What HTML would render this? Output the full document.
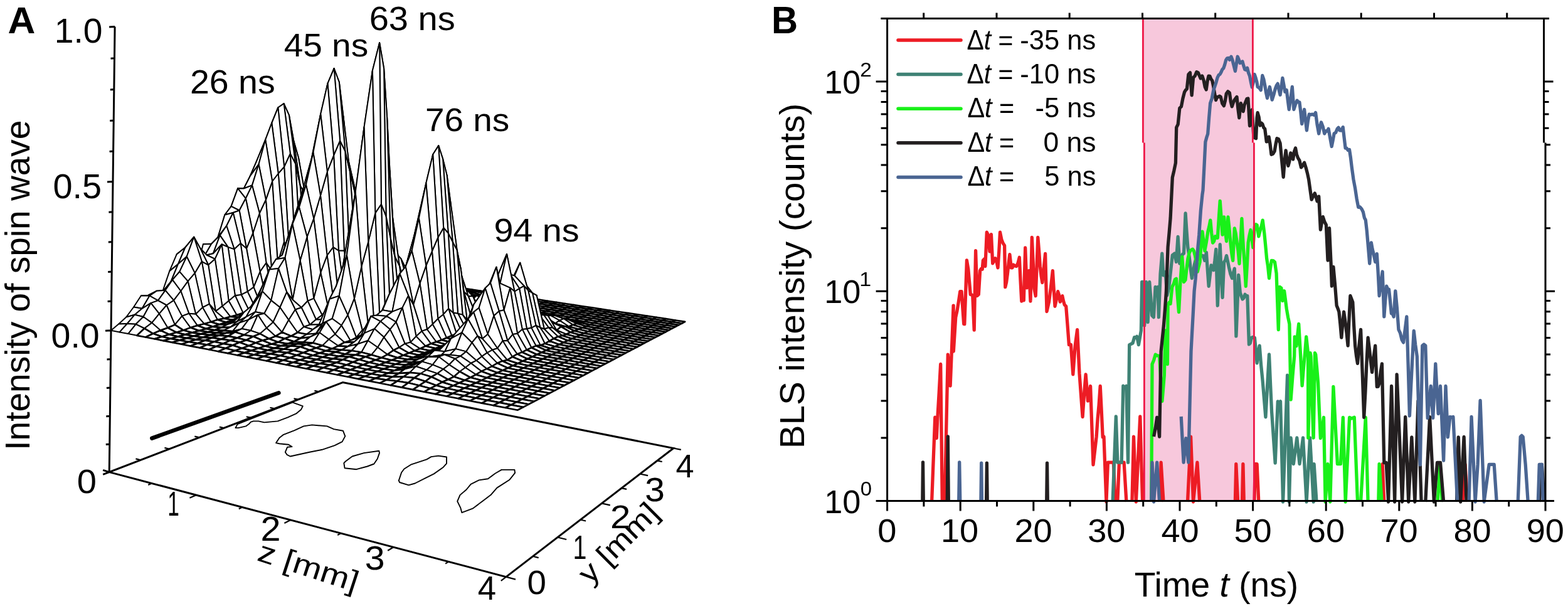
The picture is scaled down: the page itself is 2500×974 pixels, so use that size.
<!DOCTYPE html>
<html><head><meta charset="utf-8"><title>Figure</title><style>html,body{margin:0;padding:0;background:#fff;width:2500px;height:974px;overflow:hidden;}svg{display:block;}</style></head><body>
<svg width="2500" height="974" viewBox="0 0 2500 974">
<rect width="2500" height="974" fill="#fff"/>
<path d="M546.5,609.6 L174.2,752.6 L806.9,919.6 L1073.8,714.5 Z" fill="none" stroke="#000" stroke-width="3" stroke-linejoin="miter"/>
<polygon points="375.4,682.1 378.7,676.1 466.8,641.3 469.5,642.7 482.8,647.4 480.2,652.7 472.1,659.4 458.8,665.4 442.8,671.4 421.4,673.4 412.1,671.4 404.1,671.4 400,672.7 397.4,675.4 392,679.4 380,682.1" fill="none" stroke="#000" stroke-width="1.9" stroke-linejoin="round"/>
<polygon points="440.1,706.1 445.4,698.1 452.1,692.8 469.5,686.1 484.2,679.4 497.5,677.4 521.5,679.4 532.2,684.1 546.9,686.7 550.3,695.4 545.6,704.1 533.6,710.1 513.6,716.8 493.5,720.8 462.8,727.5 457.5,724.8 454.8,720.8 458.1,712.8 465.5,712.1 460.1,708.8 445.4,707.2" fill="none" stroke="#000" stroke-width="1.9" stroke-linejoin="round"/>
<polygon points="548.3,738.1 550.9,735.5 561.6,727.5 580.3,722.1 604.3,718.8 605,722.1 601.7,731.5 596.3,739.5 585.6,743.5 568.3,748.2 549.6,746.2" fill="none" stroke="#000" stroke-width="1.9" stroke-linejoin="round"/>
<polygon points="635.8,766.1 640.1,753.2 644.4,747.5 655.9,740.3 680.3,732.4 687.5,728.1 699,726.6 712,728.5 712,738.9 706.2,745.3 691.8,755.4 680.3,761.1 661.7,770.5 651.6,773.3 637.2,769" fill="none" stroke="#000" stroke-width="1.9" stroke-linejoin="round"/>
<polygon points="729.2,799.2 733.5,789.1 743.6,780.5 750.7,771.9 763.7,765.4 778,763.3 789.5,754.7 799.6,748.9 820.4,748.9 821.1,753.9 812.5,764.7 792.4,777.6 782.4,789.1 770.9,797.8 753.6,810.7 736.4,817.2 734.2,809.3" fill="none" stroke="#000" stroke-width="1.9" stroke-linejoin="round"/>
<line x1="242.3" y1="698.6" x2="444.4" y2="626.3" stroke="#000" stroke-width="6.5" stroke-linecap="round"/>
<path d="M242.1,770.5 L236.2,772.9 M312.7,789.2 L302.4,793.7 M386.3,808.6 L380.8,811.2 M463.2,828.9 L453.4,833.9 M543.4,850.1 L538.2,853 M627.2,872.2 L618.2,877.8 M715,895.4 L710.2,898.6 M806.9,919.6 L798.8,925.8 M806.9,919.6 L822,923.6 M849.6,886.8 L858.7,889.1 M889,856.5 L903.2,860 M925.5,828.5 L934.1,830.5 M959.4,802.4 L972.8,805.4 M991,778.2 L999.1,779.9 M1020.4,755.5 L1033.1,758.2 M1047.9,734.4 L1055.7,736 M1073.8,714.5 L1085.8,716.9 M224.2,733.4 L216.4,731.4 M270.2,715.8 L262.4,713.9 M317.9,697.4 L310.3,695.6 M357.3,682.3 L349.9,680.6 M400,665.9 L392.7,664.2 M437.8,651.4 L430.5,649.8 M475.6,636.9 L468.5,635.4 M508.4,624.3 L501.4,622.8" stroke="#000" stroke-width="2.2" fill="none"/>
<path d="M174.2,752.6 L183.1,42.4 M177,526.7 l-9,0.5 M177.6,480 l-6,0.5 M178.2,433 l-6,0.5 M178.8,385.5 l-6,0.5 M179.4,337.7 l-6,0.5 M180,289.5 l-9,0.5 M180.6,240.9 l-6,0.5 M181.2,191.9 l-6,0.5 M181.8,142.5 l-6,0.5 M182.5,92.7 l-6,0.5 M183.1,42.4 l-9,0.5 M174.8,708.1 l-6,0.5 M175.3,663.3 l-6,0.5 M175.9,618.1 l-6,0.5 M176.5,572.6 l-6,0.5 M174.2,752.6 L164.2,749.3 M174.2,752.6 L164.2,756.3" stroke="#000" stroke-width="3" fill="none"/>
<g fill="#fff" stroke="#000" stroke-width="2" stroke-linejoin="round">
<polygon points="547.1,433 558.9,434.6 566.2,433.5 554.5,431.8" stroke-width="2.7"/>
<polygon points="558.9,434.6 570.9,436 578.1,435.3 566.2,433.5" stroke-width="2.7"/>
<polygon points="539.7,433.9 551.6,434.8 558.9,434.6 547.1,433" stroke-width="2.7"/>
<polygon points="570.9,436 582.8,437.9 590,437.1 578.1,435.3" stroke-width="2.7"/>
<polygon points="551.6,434.8 563.6,434.9 570.9,436 558.9,434.6" stroke-width="2.7"/>
<polygon points="582.8,437.9 594.8,440.6 602,438.9 590,437.1" stroke-width="2.7"/>
<polygon points="532.1,435.8 544.2,434.9 551.6,434.8 539.7,433.9" stroke-width="2.7"/>
<polygon points="563.6,434.9 575.6,438.4 582.8,437.9 570.9,436" stroke-width="2.7"/>
<polygon points="594.8,440.6 607,442.7 614.1,440.8 602,438.9" stroke-width="2.7"/>
<polygon points="544.2,434.9 556.2,435.6 563.6,434.9 551.6,434.8" stroke-width="2.7"/>
<polygon points="575.6,438.4 587.6,442.3 594.8,440.6 582.8,437.9" stroke-width="2.7"/>
<polygon points="607,442.7 619.2,444.5 626.3,442.6 614.1,440.8" stroke-width="2.7"/>
<polygon points="524.5,437.3 536.5,437.7 544.2,434.9 532.1,435.8" stroke-width="2.7"/>
<polygon points="556.2,435.6 568.2,439.9 575.6,438.4 563.6,434.9" stroke-width="2.7"/>
<polygon points="587.6,442.3 599.7,444.6 607,442.7 594.8,440.6" stroke-width="2.7"/>
<polygon points="619.2,444.5 631.5,446.2 638.5,444.4 626.3,442.6" stroke-width="2.7"/>
<polygon points="536.5,437.7 548.7,437.4 556.2,435.6 544.2,434.9" stroke-width="2.7"/>
<polygon points="568.2,439.9 580.2,444.3 587.6,442.3 575.6,438.4" stroke-width="2.7"/>
<polygon points="599.7,444.6 612,446.4 619.2,444.5 607,442.7" stroke-width="2.7"/>
<polygon points="631.5,446.2 643.8,448.1 650.8,446.3 638.5,444.4" stroke-width="2.7"/>
<polygon points="516.9,438.1 528.9,439.2 536.5,437.7 524.5,437.3" stroke-width="2.7"/>
<polygon points="548.7,437.4 560.7,441.8 568.2,439.9 556.2,435.6" stroke-width="2.7"/>
<polygon points="580.2,444.3 592.4,446.5 599.7,444.6 587.6,442.3" stroke-width="2.7"/>
<polygon points="612,446.4 624.3,447.9 631.5,446.2 619.2,444.5" stroke-width="2.7"/>
<polygon points="643.8,448.1 656.3,449.2 663.2,448.2 650.8,446.3" stroke-width="2.7"/>
<polygon points="528.9,439.2 541.2,436.3 548.7,437.4 536.5,437.7"/>
<polygon points="560.7,441.8 572.8,445.8 580.2,444.3 568.2,439.9" stroke-width="2.7"/>
<polygon points="592.4,446.5 604.7,448.3 612,446.4 599.7,444.6" stroke-width="2.7"/>
<polygon points="624.3,447.9 636.8,449.4 643.8,448.1 631.5,446.2" stroke-width="2.7"/>
<polygon points="509.2,437.3 521.3,436.4 528.9,439.2 516.9,438.1"/>
<polygon points="656.3,449.2 668.9,450.4 675.7,450 663.2,448.2" stroke-width="2.7"/>
<polygon points="541.2,436.3 553.2,442.3 560.7,441.8 548.7,437.4"/>
<polygon points="572.8,445.8 585,448.4 592.4,446.5 580.2,444.3" stroke-width="2.7"/>
<polygon points="604.7,448.3 617.1,449.5 624.3,447.9 612,446.4" stroke-width="2.7"/>
<polygon points="636.8,449.4 649.3,450.1 656.3,449.2 643.8,448.1" stroke-width="2.7"/>
<polygon points="668.9,450.4 681.5,452.8 688.3,451.9 675.7,450" stroke-width="2.7"/>
<polygon points="521.3,436.4 533.7,432.3 541.2,436.3 528.9,439.2"/>
<polygon points="553.2,442.3 565.3,447 572.8,445.8 560.7,441.8" stroke-width="2.7"/>
<polygon points="585,448.4 597.4,450.3 604.7,448.3 592.4,446.5" stroke-width="2.7"/>
<polygon points="617.1,449.5 629.6,450.6 636.8,449.4 624.3,447.9" stroke-width="2.7"/>
<polygon points="649.3,450.1 662,450.2 668.9,450.4 656.3,449.2" stroke-width="2.7"/>
<polygon points="501.5,433.2 514,426 521.3,436.4 509.2,437.3"/>
<polygon points="681.5,452.8 694.2,453.9 700.9,453.8 688.3,451.9" stroke-width="2.7"/>
<polygon points="533.7,432.3 545.7,440 553.2,442.3 541.2,436.3"/>
<polygon points="565.3,447 577.5,450.5 585,448.4 572.8,445.8" stroke-width="2.7"/>
<polygon points="597.4,450.3 609.8,451.4 617.1,449.5 604.7,448.3" stroke-width="2.7"/>
<polygon points="629.6,450.6 642.3,450.5 649.3,450.1 636.8,449.4" stroke-width="2.7"/>
<polygon points="662,450.2 674.6,453.4 681.5,452.8 668.9,450.4" stroke-width="2.7"/>
<polygon points="545.7,440 557.7,448.6 565.3,447 553.2,442.3"/>
<polygon points="514,426 526,431.7 533.7,432.3 521.3,436.4"/>
<polygon points="694.2,453.9 706.9,457.1 713.7,455.8 700.9,453.8" stroke-width="2.7"/>
<polygon points="577.5,450.5 589.9,452.2 597.4,450.3 585,448.4" stroke-width="2.7"/>
<polygon points="609.8,451.4 622.4,451.9 629.6,450.6 617.1,449.5" stroke-width="2.7"/>
<polygon points="642.3,450.5 655.1,449.9 662,450.2 649.3,450.1" stroke-width="2.7"/>
<polygon points="493.7,429.1 506.1,425.8 514,426 501.5,433.2"/>
<polygon points="674.6,453.4 687.4,454.7 694.2,453.9 681.5,452.8" stroke-width="2.7"/>
<polygon points="557.7,448.6 569.9,452.4 577.5,450.5 565.3,447" stroke-width="2.7"/>
<polygon points="526,431.7 538.1,438.4 545.7,440 533.7,432.3"/>
<polygon points="706.9,457.1 719.8,459.5 726.5,457.7 713.7,455.8" stroke-width="2.7"/>
<polygon points="589.9,452.2 602.4,453.3 609.8,451.4 597.4,450.3" stroke-width="2.7"/>
<polygon points="622.4,451.9 635.2,451.1 642.3,450.5 629.6,450.6" stroke-width="2.7"/>
<polygon points="655.1,449.9 667.8,450.9 674.6,453.4 662,450.2" stroke-width="2.7"/>
<polygon points="538.1,438.4 550,450 557.7,448.6 545.7,440"/>
<polygon points="687.4,454.7 700.1,458.5 706.9,457.1 694.2,453.9" stroke-width="2.7"/>
<polygon points="569.9,452.4 582.4,454.4 589.9,452.2 577.5,450.5" stroke-width="2.7"/>
<polygon points="506.1,425.8 518.4,427.2 526,431.7 514,426"/>
<polygon points="719.8,459.5 732.7,461.5 739.4,459.6 726.5,457.7" stroke-width="2.7"/>
<polygon points="602.4,453.3 615.1,453.9 622.4,451.9 609.8,451.4" stroke-width="2.7"/>
<polygon points="635.2,451.1 647.9,452.3 655.1,449.9 642.3,450.5" stroke-width="2.7"/>
<polygon points="550,450 562.3,454.3 569.9,452.4 557.7,448.6" stroke-width="2.7"/>
<polygon points="667.8,450.9 680.5,455.5 687.4,454.7 674.6,453.4" stroke-width="2.7"/>
<polygon points="485.8,426.5 498.5,415.6 506.1,425.8 493.7,429.1"/>
<polygon points="700.1,458.5 713,461.3 719.8,459.5 706.9,457.1" stroke-width="2.7"/>
<polygon points="518.4,427.2 530.5,434.2 538.1,438.4 526,431.7"/>
<polygon points="582.4,454.4 595,454.9 602.4,453.3 589.9,452.2" stroke-width="2.7"/>
<polygon points="732.7,461.5 745.8,463.1 752.4,461.6 739.4,459.6" stroke-width="2.7"/>
<polygon points="615.1,453.9 628,451.2 635.2,451.1 622.4,451.9" stroke-width="2.7"/>
<polygon points="647.9,452.3 660.8,451.5 667.8,450.9 655.1,449.9"/>
<polygon points="562.3,454.3 574.8,456.4 582.4,454.4 569.9,452.4" stroke-width="2.7"/>
<polygon points="530.5,434.2 542.3,448.3 550,450 538.1,438.4"/>
<polygon points="680.5,455.5 693.3,459.9 700.1,458.5 687.4,454.7" stroke-width="2.7"/>
<polygon points="713,461.3 726,463.3 732.7,461.5 719.8,459.5" stroke-width="2.7"/>
<polygon points="498.5,415.6 510.9,415.9 518.4,427.2 506.1,425.8"/>
<polygon points="595,454.9 607.7,455.5 615.1,453.9 602.4,453.3" stroke-width="2.7"/>
<polygon points="745.8,463.1 758.9,464.9 765.4,463.6 752.4,461.6" stroke-width="2.7"/>
<polygon points="628,451.2 640.7,453.4 647.9,452.3 635.2,451.1" stroke-width="2.7"/>
<polygon points="542.3,448.3 554.5,455.9 562.3,454.3 550,450" stroke-width="2.7"/>
<polygon points="660.8,451.5 673.4,457.5 680.5,455.5 667.8,450.9"/>
<polygon points="693.3,459.9 706.1,463.4 713,461.3 700.1,458.5" stroke-width="2.7"/>
<polygon points="574.8,456.4 587.4,456.6 595,454.9 582.4,454.4" stroke-width="2.7"/>
<polygon points="477.7,427.2 491.1,398.3 498.5,415.6 485.8,426.5"/>
<polygon points="726,463.3 739.2,464.3 745.8,463.1 732.7,461.5" stroke-width="2.7"/>
<polygon points="510.9,415.9 523.3,417.4 530.5,434.2 518.4,427.2"/>
<polygon points="607.7,455.5 620.7,451.2 628,451.2 615.1,453.9"/>
<polygon points="758.9,464.9 772.1,467.4 778.6,465.6 765.4,463.6" stroke-width="2.7"/>
<polygon points="640.7,453.4 653.7,451.9 660.8,451.5 647.9,452.3"/>
<polygon points="554.5,455.9 567.1,458.4 574.8,456.4 562.3,454.3" stroke-width="2.7"/>
<polygon points="673.4,457.5 686.3,461.5 693.3,459.9 680.5,455.5" stroke-width="2.7"/>
<polygon points="706.1,463.4 719.2,465.5 726,463.3 713,461.3" stroke-width="2.7"/>
<polygon points="523.3,417.4 534.7,443.8 542.3,448.3 530.5,434.2"/>
<polygon points="587.4,456.6 600.2,456.4 607.7,455.5 595,454.9" stroke-width="2.7"/>
<polygon points="739.2,464.3 752.4,466.4 758.9,464.9 745.8,463.1" stroke-width="2.7"/>
<polygon points="772.1,467.4 785.4,469.6 791.8,467.5 778.6,465.6" stroke-width="2.7"/>
<polygon points="620.7,451.2 633.7,448.8 640.7,453.4 628,451.2"/>
<polygon points="491.1,398.3 503.9,391.2 510.9,415.9 498.5,415.6"/>
<polygon points="653.7,451.9 666.3,459.6 673.4,457.5 660.8,451.5"/>
<polygon points="534.7,443.8 546.7,457.4 554.5,455.9 542.3,448.3"/>
<polygon points="686.3,461.5 699.2,464.9 706.1,463.4 693.3,459.9" stroke-width="2.7"/>
<polygon points="567.1,458.4 579.7,459.7 587.4,456.6 574.8,456.4" stroke-width="2.7"/>
<polygon points="719.2,465.5 732.5,465.8 739.2,464.3 726,463.3" stroke-width="2.7"/>
<polygon points="600.2,456.4 613,456.5 620.7,451.2 607.7,455.5"/>
<polygon points="752.4,466.4 765.5,469.6 772.1,467.4 758.9,464.9" stroke-width="2.7"/>
<polygon points="470,413.9 483.6,382.1 491.1,398.3 477.7,427.2"/>
<polygon points="503.9,391.2 515.4,415.3 523.3,417.4 510.9,415.9"/>
<polygon points="785.4,469.6 798.8,471.8 805.2,469.6 791.8,467.5" stroke-width="2.7"/>
<polygon points="633.7,448.8 646.5,451.3 653.7,451.9 640.7,453.4"/>
<polygon points="546.7,457.4 559.3,460.3 567.1,458.4 554.5,455.9" stroke-width="2.7"/>
<polygon points="666.3,459.6 679.2,462.8 686.3,461.5 673.4,457.5" stroke-width="2.7"/>
<polygon points="699.2,464.9 712.3,467.6 719.2,465.5 706.1,463.4" stroke-width="2.7"/>
<polygon points="579.7,459.7 592.6,457.9 600.2,456.4 587.4,456.6" stroke-width="2.7"/>
<polygon points="515.4,415.3 526.8,443.3 534.7,443.8 523.3,417.4"/>
<polygon points="732.5,465.8 745.7,467.9 752.4,466.4 739.2,464.3" stroke-width="2.7"/>
<polygon points="765.5,469.6 778.9,471.7 785.4,469.6 772.1,467.4" stroke-width="2.7"/>
<polygon points="613,456.5 626.4,448.7 633.7,448.8 620.7,451.2"/>
<polygon points="798.8,471.8 812.3,473.8 818.6,471.6 805.2,469.6" stroke-width="2.7"/>
<polygon points="646.5,451.3 659.1,461.6 666.3,459.6 653.7,451.9"/>
<polygon points="526.8,443.3 538.8,459.1 546.7,457.4 534.7,443.8"/>
<polygon points="679.2,462.8 692.2,466.8 699.2,464.9 686.3,461.5" stroke-width="2.7"/>
<polygon points="559.3,460.3 571.9,462 579.7,459.7 567.1,458.4" stroke-width="2.7"/>
<polygon points="712.3,467.6 725.6,467.6 732.5,465.8 719.2,465.5" stroke-width="2.7"/>
<polygon points="483.6,382.1 496.8,363.2 503.9,391.2 491.1,398.3"/>
<polygon points="592.6,457.9 605.6,455.8 613,456.5 600.2,456.4"/>
<polygon points="745.7,467.9 759,471 765.5,469.6 752.4,466.4" stroke-width="2.7"/>
<polygon points="778.9,471.7 792.3,474 798.8,471.8 785.4,469.6" stroke-width="2.7"/>
<polygon points="538.8,459.1 551.4,462.3 559.3,460.3 546.7,457.4" stroke-width="2.7"/>
<polygon points="659.1,461.6 672.1,464 679.2,462.8 666.3,459.6" stroke-width="2.7"/>
<polygon points="626.4,448.7 639.2,452.5 646.5,451.3 633.7,448.8"/>
<polygon points="461.9,407.8 476.1,360.8 483.6,382.1 470,413.9"/>
<polygon points="812.3,473.8 825.9,475.9 832.1,473.6 818.6,471.6" stroke-width="2.7"/>
<polygon points="692.2,466.8 705.3,469.6 712.3,467.6 699.2,464.9" stroke-width="2.7"/>
<polygon points="571.9,462 585,457.7 592.6,457.9 579.7,459.7" stroke-width="2.7"/>
<polygon points="496.8,363.2 507.6,408.7 515.4,415.3 503.9,391.2"/>
<polygon points="725.6,467.6 739,467.8 745.7,467.9 732.5,465.8" stroke-width="2.7"/>
<polygon points="507.6,408.7 518.9,440.6 526.8,443.3 515.4,415.3"/>
<polygon points="759,471 772.3,473.6 778.9,471.7 765.5,469.6" stroke-width="2.7"/>
<polygon points="605.6,455.8 619.1,446 626.4,448.7 613,456.5"/>
<polygon points="792.3,474 805.9,476.1 812.3,473.8 798.8,471.8" stroke-width="2.7"/>
<polygon points="639.2,452.5 652.1,458 659.1,461.6 646.5,451.3"/>
<polygon points="518.9,440.6 530.8,460.3 538.8,459.1 526.8,443.3"/>
<polygon points="672.1,464 685.1,469.3 692.2,466.8 679.2,462.8" stroke-width="2.7"/>
<polygon points="551.4,462.3 564.2,462.1 571.9,462 559.3,460.3" stroke-width="2.7"/>
<polygon points="825.9,475.9 839.5,477.9 845.7,475.7 832.1,473.6" stroke-width="2.7"/>
<polygon points="705.3,469.6 718.7,470.2 725.6,467.6 712.3,467.6" stroke-width="2.7"/>
<polygon points="585,457.7 598.4,448.5 605.6,455.8 592.6,457.9"/>
<polygon points="739,467.8 752.3,471.6 759,471 745.7,467.9" stroke-width="2.7"/>
<polygon points="772.3,473.6 785.8,476.2 792.3,474 778.9,471.7" stroke-width="2.7"/>
<polygon points="530.8,460.3 543.4,464.2 551.4,462.3 538.8,459.1" stroke-width="2.7"/>
<polygon points="476.1,360.8 489.1,348.1 496.8,363.2 483.6,382.1"/>
<polygon points="652.1,458 664.9,464.2 672.1,464 659.1,461.6"/>
<polygon points="619.1,446 631.9,451 639.2,452.5 626.4,448.7"/>
<polygon points="805.9,476.1 819.5,478.1 825.9,475.9 812.3,473.8" stroke-width="2.7"/>
<polygon points="685.1,469.3 698.3,472 705.3,469.6 692.2,466.8" stroke-width="2.7"/>
<polygon points="564.2,462.1 577.3,458.8 585,457.7 571.9,462"/>
<polygon points="839.5,477.9 853.3,480 859.4,477.7 845.7,475.7" stroke-width="2.7"/>
<polygon points="718.7,470.2 732.3,467.8 739,467.8 725.6,467.6" stroke-width="2.7"/>
<polygon points="752.3,471.6 765.7,475.7 772.3,473.6 759,471" stroke-width="2.7"/>
<polygon points="454.2,387.5 469.1,321.1 476.1,360.8 461.9,407.8"/>
<polygon points="499.7,400 510.8,440.6 518.9,440.6 507.6,408.7"/>
<polygon points="489.1,348.1 499.7,400 507.6,408.7 496.8,363.2"/>
<polygon points="785.8,476.2 799.4,478.3 805.9,476.1 792.3,474" stroke-width="2.7"/>
<polygon points="598.4,448.5 611.7,442.9 619.1,446 605.6,455.8"/>
<polygon points="664.9,464.2 677.9,471.2 685.1,469.3 672.1,464" stroke-width="2.7"/>
<polygon points="543.4,464.2 556.2,464.3 564.2,462.1 551.4,462.3" stroke-width="2.7"/>
<polygon points="631.9,451 644.7,458.8 652.1,458 639.2,452.5"/>
<polygon points="510.8,440.6 522.7,461.3 530.8,460.3 518.9,440.6"/>
<polygon points="819.5,478.1 833.3,480.2 839.5,477.9 825.9,475.9" stroke-width="2.7"/>
<polygon points="698.3,472 711.7,471.1 718.7,470.2 705.3,469.6" stroke-width="2.7"/>
<polygon points="853.3,480 867.2,482.1 873.2,479.8 859.4,477.7" stroke-width="2.7"/>
<polygon points="732.3,467.8 745.6,473 752.3,471.6 739,467.8" stroke-width="2.7"/>
<polygon points="577.3,458.8 590.6,452.5 598.4,448.5 585,457.7"/>
<polygon points="765.7,475.7 779.2,478.5 785.8,476.2 772.3,473.6" stroke-width="2.7"/>
<polygon points="522.7,461.3 535.3,465.7 543.4,464.2 530.8,460.3" stroke-width="2.7"/>
<polygon points="799.4,478.3 813.1,480.4 819.5,478.1 805.9,476.1" stroke-width="2.7"/>
<polygon points="644.7,458.8 657.6,465.9 664.9,464.2 652.1,458"/>
<polygon points="677.9,471.2 691.1,473.9 698.3,472 685.1,469.3" stroke-width="2.7"/>
<polygon points="611.7,442.9 624.6,449.1 631.9,451 619.1,446"/>
<polygon points="833.3,480.2 847.1,482.3 853.3,480 839.5,477.9" stroke-width="2.7"/>
<polygon points="556.2,464.3 569.5,458.7 577.3,458.8 564.2,462.1"/>
<polygon points="711.7,471.1 725.3,470.2 732.3,467.8 718.7,470.2" stroke-width="2.7"/>
<polygon points="867.2,482.1 881.1,484.2 887.1,481.9 873.2,479.8" stroke-width="2.7"/>
<polygon points="745.6,473 758.9,477.9 765.7,475.7 752.3,471.6" stroke-width="2.7"/>
<polygon points="779.2,478.5 792.9,480.6 799.4,478.3 785.8,476.2" stroke-width="2.7"/>
<polygon points="469.1,321.1 482.7,296.5 489.1,348.1 476.1,360.8"/>
<polygon points="535.3,465.7 548.2,465.5 556.2,464.3 543.4,464.2" stroke-width="2.7"/>
<polygon points="657.6,465.9 670.6,473.3 677.9,471.2 664.9,464.2" stroke-width="2.7"/>
<polygon points="590.6,452.5 604.4,437.4 611.7,442.9 598.4,448.5"/>
<polygon points="624.6,449.1 637,465.6 644.7,458.8 631.9,451"/>
<polygon points="813.1,480.4 826.9,482.6 833.3,480.2 819.5,478.1" stroke-width="2.7"/>
<polygon points="691.1,473.9 704.5,475.1 711.7,471.1 698.3,472" stroke-width="2.7"/>
<polygon points="503.3,422 514.6,459.3 522.7,461.3 510.8,440.6"/>
<polygon points="493.4,350.4 503.3,422 510.8,440.6 499.7,400"/>
<polygon points="445.9,378.6 461.6,292.2 469.1,321.1 454.2,387.5"/>
<polygon points="847.1,482.3 861,484.5 867.2,482.1 853.3,480" stroke-width="2.7"/>
<polygon points="482.7,296.5 493.4,350.4 499.7,400 489.1,348.1"/>
<polygon points="725.3,470.2 738.7,475.1 745.6,473 732.3,467.8" stroke-width="2.7"/>
<polygon points="569.5,458.7 583.1,447.1 590.6,452.5 577.3,458.8"/>
<polygon points="881.1,484.2 895.2,486.4 901.1,484 887.1,481.9" stroke-width="2.7"/>
<polygon points="758.9,477.9 772.5,480.8 779.2,478.5 765.7,475.7" stroke-width="2.7"/>
<polygon points="514.6,459.3 527.2,467.4 535.3,465.7 522.7,461.3"/>
<polygon points="637,465.6 649.9,473.7 657.6,465.9 644.7,458.8"/>
<polygon points="792.9,480.6 806.6,482.8 813.1,480.4 799.4,478.3" stroke-width="2.7"/>
<polygon points="670.6,473.3 683.9,475.6 691.1,473.9 677.9,471.2" stroke-width="2.7"/>
<polygon points="826.9,482.6 840.8,484.7 847.1,482.3 833.3,480.2" stroke-width="2.7"/>
<polygon points="604.4,437.4 617.2,445.8 624.6,449.1 611.7,442.9"/>
<polygon points="548.2,465.5 561.5,459.6 569.5,458.7 556.2,464.3"/>
<polygon points="704.5,475.1 718.2,473.9 725.3,470.2 711.7,471.1" stroke-width="2.7"/>
<polygon points="861,484.5 875,486.6 881.1,484.2 867.2,482.1" stroke-width="2.7"/>
<polygon points="738.7,475.1 752.1,480.2 758.9,477.9 745.6,473" stroke-width="2.7"/>
<polygon points="895.2,486.4 909.3,488.5 915.2,486.1 901.1,484" stroke-width="2.7"/>
<polygon points="772.5,480.8 786.2,483 792.9,480.6 779.2,478.5" stroke-width="2.7"/>
<polygon points="649.9,473.7 663.2,475.4 670.6,473.3 657.6,465.9" stroke-width="2.7"/>
<polygon points="527.2,467.4 540.1,466.9 548.2,465.5 535.3,465.7" stroke-width="2.7"/>
<polygon points="806.6,482.8 820.5,484.9 826.9,482.6 813.1,480.4" stroke-width="2.7"/>
<polygon points="617.2,445.8 629.7,460.9 637,465.6 624.6,449.1"/>
<polygon points="583.1,447.1 597.3,425.9 604.4,437.4 590.6,452.5"/>
<polygon points="683.9,475.6 697.4,477 704.5,475.1 691.1,473.9" stroke-width="2.7"/>
<polygon points="840.8,484.7 854.8,486.8 861,484.5 847.1,482.3" stroke-width="2.7"/>
<polygon points="718.2,473.9 731.7,476.4 738.7,475.1 725.3,470.2" stroke-width="2.7"/>
<polygon points="495.9,400.3 506.5,456.4 514.6,459.3 503.3,422"/>
<polygon points="875,486.6 889.1,488.7 895.2,486.4 881.1,484.2" stroke-width="2.7"/>
<polygon points="561.5,459.6 575.1,448.8 583.1,447.1 569.5,458.7"/>
<polygon points="752.1,480.2 765.7,483.2 772.5,480.8 758.9,477.9" stroke-width="2.7"/>
<polygon points="909.3,488.5 923.6,490.7 929.4,488.3 915.2,486.1" stroke-width="2.7"/>
<polygon points="629.7,460.9 642.6,471.3 649.9,473.7 637,465.6"/>
<polygon points="786.2,483 800,485.1 806.6,482.8 792.9,480.6" stroke-width="2.7"/>
<polygon points="506.5,456.4 518.8,470.1 527.2,467.4 514.6,459.3"/>
<polygon points="461.6,292.2 475.9,251.3 482.7,296.5 469.1,321.1"/>
<polygon points="663.2,475.4 676.6,476.7 683.9,475.6 670.6,473.3" stroke-width="2.7"/>
<polygon points="438.7,338.1 454.1,261 461.6,292.2 445.9,378.6"/>
<polygon points="486.5,310.3 495.9,400.3 503.3,422 493.4,350.4"/>
<polygon points="820.5,484.9 834.4,487 840.8,484.7 826.9,482.6" stroke-width="2.7"/>
<polygon points="540.1,466.9 553.5,460 561.5,459.6 548.2,465.5"/>
<polygon points="697.4,477 711.2,473.9 718.2,473.9 704.5,475.1" stroke-width="2.7"/>
<polygon points="854.8,486.8 868.9,489 875,486.6 861,484.5" stroke-width="2.7"/>
<polygon points="597.3,425.9 610.2,432.8 617.2,445.8 604.4,437.4"/>
<polygon points="731.7,476.4 745.2,482.5 752.1,480.2 738.7,475.1" stroke-width="2.7"/>
<polygon points="889.1,488.7 903.4,490.9 909.3,488.5 895.2,486.4" stroke-width="2.7"/>
<polygon points="765.7,483.2 779.5,485.3 786.2,483 772.5,480.8" stroke-width="2.7"/>
<polygon points="475.9,251.3 486.5,310.3 493.4,350.4 482.7,296.5"/>
<polygon points="642.6,471.3 655.8,476.4 663.2,475.4 649.9,473.7" stroke-width="2.7"/>
<polygon points="518.8,470.1 531.9,469.5 540.1,466.9 527.2,467.4" stroke-width="2.7"/>
<polygon points="923.6,490.7 937.9,492.8 943.7,490.4 929.4,488.3" stroke-width="2.7"/>
<polygon points="800,485.1 814,487.3 820.5,484.9 806.6,482.8" stroke-width="2.7"/>
<polygon points="676.6,476.7 690.3,475.9 697.4,477 683.9,475.6" stroke-width="2.7"/>
<polygon points="575.1,448.8 589.2,431 597.3,425.9 583.1,447.1"/>
<polygon points="610.2,432.8 622.6,453.4 629.7,460.9 617.2,445.8"/>
<polygon points="834.4,487 848.5,489.2 854.8,486.8 840.8,484.7" stroke-width="2.7"/>
<polygon points="711.2,473.9 724.8,477.1 731.7,476.4 718.2,473.9" stroke-width="2.7"/>
<polygon points="868.9,489 883,491.1 889.1,488.7 875,486.6" stroke-width="2.7"/>
<polygon points="745.2,482.5 758.9,484.3 765.7,483.2 752.1,480.2" stroke-width="2.7"/>
<polygon points="553.5,460 567.4,444.4 575.1,448.8 561.5,459.6"/>
<polygon points="487.5,398.5 497.9,461.5 506.5,456.4 495.9,400.3"/>
<polygon points="903.4,490.9 917.7,493.1 923.6,490.7 909.3,488.5" stroke-width="2.7"/>
<polygon points="779.5,485.3 793.4,487.5 800,485.1 786.2,483" stroke-width="2.7"/>
<polygon points="497.9,461.5 510.5,471.3 518.8,470.1 506.5,456.4"/>
<polygon points="655.8,476.4 669.3,478.1 676.6,476.7 663.2,475.4" stroke-width="2.7"/>
<polygon points="622.6,453.4 635.2,469.4 642.6,471.3 629.7,460.9"/>
<polygon points="937.9,492.8 952.4,495 958,492.6 943.7,490.4" stroke-width="2.7"/>
<polygon points="814,487.3 828,489.5 834.4,487 820.5,484.9" stroke-width="2.7"/>
<polygon points="531.9,469.5 545.4,459.2 553.5,460 540.1,466.9"/>
<polygon points="690.3,475.9 704.4,469.7 711.2,473.9 697.4,477"/>
<polygon points="848.5,489.2 862.6,491.4 868.9,489 854.8,486.8" stroke-width="2.7"/>
<polygon points="724.8,477.1 738.2,484.6 745.2,482.5 731.7,476.4" stroke-width="2.7"/>
<polygon points="589.2,431 602.4,434.9 610.2,432.8 597.3,425.9"/>
<polygon points="478.5,295.1 487.5,398.5 495.9,400.3 486.5,310.3"/>
<polygon points="883,491.1 897.3,493.3 903.4,490.9 889.1,488.7" stroke-width="2.7"/>
<polygon points="758.9,484.3 772.8,485.6 779.5,485.3 765.7,483.2" stroke-width="2.7"/>
<polygon points="430.3,325.4 446.2,233.3 454.1,261 438.7,338.1"/>
<polygon points="454.1,261 468.2,224.3 475.9,251.3 461.6,292.2"/>
<polygon points="510.5,471.3 523.6,470.1 531.9,469.5 518.8,470.1" stroke-width="2.7"/>
<polygon points="917.7,493.1 932.1,495.3 937.9,492.8 923.6,490.7" stroke-width="2.7"/>
<polygon points="635.2,469.4 648.3,477.2 655.8,476.4 642.6,471.3"/>
<polygon points="793.4,487.5 807.4,489.7 814,487.3 800,485.1" stroke-width="2.7"/>
<polygon points="669.3,478.1 683.2,473.2 690.3,475.9 676.6,476.7"/>
<polygon points="952.4,495 966.9,497.2 972.5,494.8 958,492.6" stroke-width="2.7"/>
<polygon points="828,489.5 842.1,491.6 848.5,489.2 834.4,487" stroke-width="2.7"/>
<polygon points="567.4,444.4 581.9,419 589.2,431 575.1,448.8"/>
<polygon points="602.4,434.9 615.4,442.2 622.6,453.4 610.2,432.8"/>
<polygon points="862.6,491.4 876.9,493.6 883,491.1 868.9,489" stroke-width="2.7"/>
<polygon points="704.4,469.7 717.7,477.7 724.8,477.1 711.2,473.9"/>
<polygon points="738.2,484.6 752.1,485.1 758.9,484.3 745.2,482.5" stroke-width="2.7"/>
<polygon points="468.2,224.3 478.5,295.1 486.5,310.3 475.9,251.3"/>
<polygon points="479,396.5 489.3,465.7 497.9,461.5 487.5,398.5"/>
<polygon points="897.3,493.3 911.7,495.5 917.7,493.1 903.4,490.9" stroke-width="2.7"/>
<polygon points="545.4,459.2 559.7,436.6 567.4,444.4 553.5,460"/>
<polygon points="489.3,465.7 502,473 510.5,471.3 497.9,461.5"/>
<polygon points="772.8,485.6 786.9,485.7 793.4,487.5 779.5,485.3" stroke-width="2.7"/>
<polygon points="648.3,477.2 661.8,479.4 669.3,478.1 655.8,476.4" stroke-width="2.7"/>
<polygon points="932.1,495.3 946.6,497.5 952.4,495 937.9,492.8" stroke-width="2.7"/>
<polygon points="807.4,489.7 821.5,491.9 828,489.5 814,487.3" stroke-width="2.7"/>
<polygon points="615.4,442.2 628,460.5 635.2,469.4 622.6,453.4"/>
<polygon points="523.6,470.1 537.3,457.9 545.4,459.2 531.9,469.5"/>
<polygon points="966.9,497.2 981.6,499.5 987.1,497 972.5,494.8" stroke-width="2.7"/>
<polygon points="842.1,491.6 856.3,493.8 862.6,491.4 848.5,489.2" stroke-width="2.7"/>
<polygon points="683.2,473.2 697.3,467.7 704.4,469.7 690.3,475.9"/>
<polygon points="717.7,477.7 731.1,486.1 738.2,484.6 724.8,477.1"/>
<polygon points="876.9,493.6 891.2,495.8 897.3,493.3 883,491.1" stroke-width="2.7"/>
<polygon points="752.1,485.1 766.1,486.2 772.8,485.6 758.9,484.3" stroke-width="2.7"/>
<polygon points="581.9,419 595.3,417.9 602.4,434.9 589.2,431"/>
<polygon points="911.7,495.5 926.2,497.8 932.1,495.3 917.7,493.1" stroke-width="2.7"/>
<polygon points="502,473 515.3,470.2 523.6,470.1 510.5,471.3"/>
<polygon points="786.9,485.7 800.9,489.4 807.4,489.7 793.4,487.5" stroke-width="2.7"/>
<polygon points="471.1,260.8 479,396.5 487.5,398.5 478.5,295.1"/>
<polygon points="628,460.5 640.8,477.2 648.3,477.2 635.2,469.4"/>
<polygon points="946.6,497.5 961.2,499.7 966.9,497.2 952.4,495" stroke-width="2.7"/>
<polygon points="661.8,479.4 675.8,474.6 683.2,473.2 669.3,478.1"/>
<polygon points="821.5,491.9 835.6,494.1 842.1,491.6 828,489.5" stroke-width="2.7"/>
<polygon points="421.4,325.3 438,210.4 446.2,233.3 430.3,325.4"/>
<polygon points="981.6,499.5 996.3,501.7 1001.8,499.2 987.1,497" stroke-width="2.7"/>
<polygon points="856.3,493.8 870.6,496.1 876.9,493.6 862.6,491.4" stroke-width="2.7"/>
<polygon points="559.7,436.6 574.1,414.7 581.9,419 567.4,444.4"/>
<polygon points="697.3,467.7 710.5,480.3 717.7,477.7 704.4,469.7"/>
<polygon points="731.1,486.1 745.1,486 752.1,485.1 738.2,484.6" stroke-width="2.7"/>
<polygon points="446.2,233.3 460.9,183.7 468.2,224.3 454.1,261"/>
<polygon points="470.3,396.5 481,457.2 489.3,465.7 479,396.5"/>
<polygon points="891.2,495.8 905.7,498 911.7,495.5 897.3,493.3" stroke-width="2.7"/>
<polygon points="595.3,417.9 608.1,432.3 615.4,442.2 602.4,434.9"/>
<polygon points="481,457.2 493.5,473.8 502,473 489.3,465.7"/>
<polygon points="766.1,486.2 780.4,484 786.9,485.7 772.8,485.6"/>
<polygon points="640.8,477.2 654.3,479.9 661.8,479.4 648.3,477.2" stroke-width="2.7"/>
<polygon points="926.2,497.8 940.8,500 946.6,497.5 932.1,495.3" stroke-width="2.7"/>
<polygon points="800.9,489.4 814.9,493.6 821.5,491.9 807.4,489.7" stroke-width="2.7"/>
<polygon points="537.3,457.9 553,403.4 559.7,436.6 545.4,459.2"/>
<polygon points="961.2,499.7 976,502 981.6,499.5 966.9,497.2" stroke-width="2.7"/>
<polygon points="515.3,470.2 529.2,454 537.3,457.9 523.6,470.1"/>
<polygon points="835.6,494.1 849.9,496.3 856.3,493.8 842.1,491.6" stroke-width="2.7"/>
<polygon points="460.9,183.7 471.1,260.8 478.5,295.1 468.2,224.3"/>
<polygon points="608.1,432.3 620.1,464.3 628,460.5 615.4,442.2"/>
<polygon points="710.5,480.3 724,487.8 731.1,486.1 717.7,477.7"/>
<polygon points="996.3,501.7 1011.2,503.9 1016.6,501.4 1001.8,499.2" stroke-width="2.7"/>
<polygon points="675.8,474.6 690.3,463.6 697.3,467.7 683.2,473.2"/>
<polygon points="870.6,496.1 885,498.3 891.2,495.8 876.9,493.6" stroke-width="2.7"/>
<polygon points="745.1,486 759.5,482.3 766.1,486.2 752.1,485.1"/>
<polygon points="905.7,498 920.2,500.3 926.2,497.8 911.7,495.5" stroke-width="2.7"/>
<polygon points="493.5,473.8 507,465.2 515.3,470.2 502,473"/>
<polygon points="780.4,484 794.4,487 800.9,489.4 786.9,485.7"/>
<polygon points="620.1,464.3 633,479.4 640.8,477.2 628,460.5"/>
<polygon points="574.1,414.7 588.1,402.2 595.3,417.9 581.9,419"/>
<polygon points="940.8,500 955.5,502.2 961.2,499.7 946.6,497.5" stroke-width="2.7"/>
<polygon points="814.9,493.6 829.1,496.5 835.6,494.1 821.5,491.9" stroke-width="2.7"/>
<polygon points="654.3,479.9 668.4,473.7 675.8,474.6 661.8,479.4"/>
<polygon points="412.3,325.7 428.6,222.4 438,210.4 421.4,325.3"/>
<polygon points="462.8,244.6 470.3,396.5 479,396.5 471.1,260.8"/>
<polygon points="976,502 990.8,504.2 996.3,501.7 981.6,499.5" stroke-width="2.7"/>
<polygon points="849.9,496.3 864.3,498.6 870.6,496.1 856.3,493.8" stroke-width="2.7"/>
<polygon points="724,487.8 738,488.2 745.1,486 731.1,486.1" stroke-width="2.7"/>
<polygon points="690.3,463.6 703.3,480.1 710.5,480.3 697.3,467.7"/>
<polygon points="1011.2,503.9 1026.2,506.2 1031.5,503.7 1016.6,501.4" stroke-width="2.7"/>
<polygon points="885,498.3 899.6,500.5 905.7,498 891.2,495.8" stroke-width="2.7"/>
<polygon points="461.3,402.3 472.1,463.2 481,457.2 470.3,396.5"/>
<polygon points="472.1,463.2 484.7,478 493.5,473.8 481,457.2"/>
<polygon points="920.2,500.3 934.9,502.5 940.8,500 926.2,497.8" stroke-width="2.7"/>
<polygon points="633,479.4 646.5,484.4 654.3,479.9 640.8,477.2" stroke-width="2.7"/>
<polygon points="759.5,482.3 774,478.7 780.4,484 766.1,486.2"/>
<polygon points="553,403.4 567.5,380.5 574.1,414.7 559.7,436.6"/>
<polygon points="794.4,487 808.3,494.6 814.9,493.6 800.9,489.4" stroke-width="2.7"/>
<polygon points="955.5,502.2 970.3,504.5 976,502 961.2,499.7" stroke-width="2.7"/>
<polygon points="588.1,402.2 601.6,403.5 608.1,432.3 595.3,417.9"/>
<polygon points="829.1,496.5 843.4,498.8 849.9,496.3 835.6,494.1" stroke-width="2.7"/>
<polygon points="529.2,454 544.6,405.9 553,403.4 537.3,457.9"/>
<polygon points="438,210.4 452.6,165.1 460.9,183.7 446.2,233.3"/>
<polygon points="507,465.2 521.2,444.2 529.2,454 515.3,470.2"/>
<polygon points="703.3,480.1 716.7,490.5 724,487.8 710.5,480.3"/>
<polygon points="990.8,504.2 1005.7,506.5 1011.2,503.9 996.3,501.7" stroke-width="2.7"/>
<polygon points="668.4,473.7 682.5,470.9 690.3,463.6 675.8,474.6"/>
<polygon points="864.3,498.6 878.8,500.8 885,498.3 870.6,496.1" stroke-width="2.7"/>
<polygon points="601.6,403.5 612,470.6 620.1,464.3 608.1,432.3"/>
<polygon points="1026.2,506.2 1041.3,508.5 1046.5,505.9 1031.5,503.7" stroke-width="2.7"/>
<polygon points="738,488.2 752.3,486.3 759.5,482.3 745.1,486"/>
<polygon points="899.6,500.5 914.2,502.8 920.2,500.3 905.7,498" stroke-width="2.7"/>
<polygon points="484.7,478 498.7,457.9 507,465.2 493.5,473.8"/>
<polygon points="612,470.6 625.5,475.4 633,479.4 620.1,464.3"/>
<polygon points="403,329.9 418.7,242.9 428.6,222.4 412.3,325.7"/>
<polygon points="934.9,502.5 949.7,504.8 955.5,502.2 940.8,500" stroke-width="2.7"/>
<polygon points="452.6,165.1 462.8,244.6 471.1,260.8 460.9,183.7"/>
<polygon points="774,478.7 787.8,486.1 794.4,487 780.4,484"/>
<polygon points="808.3,494.6 822.5,498.8 829.1,496.5 814.9,493.6" stroke-width="2.7"/>
<polygon points="646.5,484.4 660.9,473.2 668.4,473.7 654.3,479.9"/>
<polygon points="453.1,265.8 461.3,402.3 470.3,396.5 462.8,244.6"/>
<polygon points="970.3,504.5 985.2,506.8 990.8,504.2 976,502" stroke-width="2.7"/>
<polygon points="843.4,498.8 857.9,501.1 864.3,498.6 849.9,496.3" stroke-width="2.7"/>
<polygon points="716.7,490.5 730.9,489.3 738,488.2 724,487.8" stroke-width="2.7"/>
<polygon points="1005.7,506.5 1020.8,508.8 1026.2,506.2 1011.2,503.9" stroke-width="2.7"/>
<polygon points="567.5,380.5 581.4,373.8 588.1,402.2 574.1,414.7"/>
<polygon points="878.8,500.8 893.4,503.1 899.6,500.5 885,498.3" stroke-width="2.7"/>
<polygon points="682.5,470.9 696.3,475 703.3,480.1 690.3,463.6"/>
<polygon points="453,385.2 463,471.3 472.1,463.2 461.3,402.3"/>
<polygon points="463,471.3 475.9,479.6 484.7,478 472.1,463.2"/>
<polygon points="1041.3,508.5 1056.4,510.8 1061.6,508.2 1046.5,505.9" stroke-width="2.7"/>
<polygon points="914.2,502.8 928.9,505.1 934.9,502.5 920.2,500.3" stroke-width="2.7"/>
<polygon points="625.5,475.4 638.6,488.1 646.5,484.4 633,479.4"/>
<polygon points="752.3,486.3 767.4,473.2 774,478.7 759.5,482.3"/>
<polygon points="787.8,486.1 801.6,496.3 808.3,494.6 794.4,487"/>
<polygon points="949.7,504.8 964.5,507.1 970.3,504.5 955.5,502.2" stroke-width="2.7"/>
<polygon points="822.5,498.8 836.9,501.3 843.4,498.8 829.1,496.5" stroke-width="2.7"/>
<polygon points="521.2,444.2 535.9,411.9 544.6,405.9 529.2,454"/>
<polygon points="985.2,506.8 1000.2,509.1 1005.7,506.5 990.8,504.2" stroke-width="2.7"/>
<polygon points="428.6,222.4 443.3,171.5 452.6,165.1 438,210.4"/>
<polygon points="857.9,501.1 872.4,503.4 878.8,500.8 864.3,498.6" stroke-width="2.7"/>
<polygon points="660.9,473.2 675,470.8 682.5,470.9 668.4,473.7"/>
<polygon points="696.3,475 709.4,491.1 716.7,490.5 703.3,480.1"/>
<polygon points="544.6,405.9 559.7,370.8 567.5,380.5 553,403.4"/>
<polygon points="581.4,373.8 592.6,426 601.6,403.5 588.1,402.2"/>
<polygon points="393.1,352.5 409,257.1 418.7,242.9 403,329.9"/>
<polygon points="498.7,457.9 512.9,436.6 521.2,444.2 507,465.2"/>
<polygon points="1020.8,508.8 1035.9,511.1 1041.3,508.5 1026.2,506.2" stroke-width="2.7"/>
<polygon points="592.6,426 604.6,459.2 612,470.6 601.6,403.5"/>
<polygon points="893.4,503.1 908.1,505.4 914.2,502.8 899.6,500.5" stroke-width="2.7"/>
<polygon points="730.9,489.3 745.7,480.7 752.3,486.3 738,488.2"/>
<polygon points="1056.4,510.8 1071.7,513.1 1076.8,510.5 1061.6,508.2" stroke-width="2.7"/>
<polygon points="475.9,479.6 489.9,461.7 498.7,457.9 484.7,478"/>
<polygon points="928.9,505.1 943.8,507.4 949.7,504.8 934.9,502.5" stroke-width="2.7"/>
<polygon points="604.6,459.2 617.6,476.6 625.5,475.4 612,470.6"/>
<polygon points="801.6,496.3 815.8,501.3 822.5,498.8 808.3,494.6" stroke-width="2.7"/>
<polygon points="443.7,276.5 453,385.2 461.3,402.3 453.1,265.8"/>
<polygon points="443.3,171.5 453.1,265.8 462.8,244.6 452.6,165.1"/>
<polygon points="638.6,488.1 653.2,475 660.9,473.2 646.5,484.4"/>
<polygon points="767.4,473.2 781.2,484.2 787.8,486.1 774,478.7"/>
<polygon points="964.5,507.1 979.5,509.4 985.2,506.8 970.3,504.5" stroke-width="2.7"/>
<polygon points="836.9,501.3 851.4,503.3 857.9,501.1 843.4,498.8" stroke-width="2.7"/>
<polygon points="709.4,491.1 723.8,489 730.9,489.3 716.7,490.5"/>
<polygon points="1000.2,509.1 1015.3,511.4 1020.8,508.8 1005.7,506.5" stroke-width="2.7"/>
<polygon points="442.8,419 454.2,469.1 463,471.3 453,385.2"/>
<polygon points="872.4,503.4 887.1,505.7 893.4,503.1 878.8,500.8" stroke-width="2.7"/>
<polygon points="675,470.8 688.8,476.1 696.3,475 682.5,470.9"/>
<polygon points="454.2,469.1 467.1,478.4 475.9,479.6 463,471.3"/>
<polygon points="1035.9,511.1 1051.2,513.4 1056.4,510.8 1041.3,508.5" stroke-width="2.7"/>
<polygon points="908.1,505.4 922.9,507.7 928.9,505.1 914.2,502.8" stroke-width="2.7"/>
<polygon points="617.6,476.6 631,484.9 638.6,488.1 625.5,475.4"/>
<polygon points="418.7,242.9 433.3,196 443.3,171.5 428.6,222.4"/>
<polygon points="1071.7,513.1 1087.2,515.5 1092.2,512.8 1076.8,510.5" stroke-width="2.7"/>
<polygon points="383.2,368.5 398.8,280.7 409,257.1 393.1,352.5"/>
<polygon points="943.8,507.4 958.7,509.7 964.5,507.1 949.7,504.8" stroke-width="2.7"/>
<polygon points="781.2,484.2 794.8,497.9 801.6,496.3 787.8,486.1"/>
<polygon points="745.7,480.7 760.6,470.9 767.4,473.2 752.3,486.3"/>
<polygon points="815.8,501.3 830.2,503.8 836.9,501.3 822.5,498.8" stroke-width="2.7"/>
<polygon points="559.7,370.8 574.2,351.4 581.4,373.8 567.5,380.5"/>
<polygon points="979.5,509.4 994.6,511.7 1000.2,509.1 985.2,506.8" stroke-width="2.7"/>
<polygon points="851.4,503.3 866.1,504.2 872.4,503.4 857.9,501.1" stroke-width="2.7"/>
<polygon points="688.8,476.1 702,492.7 709.4,491.1 696.3,475"/>
<polygon points="535.9,411.9 551.6,364.8 559.7,370.8 544.6,405.9"/>
<polygon points="653.2,475 668.3,454.9 675,470.8 660.9,473.2"/>
<polygon points="489.9,461.7 503.6,452.9 512.9,436.6 498.7,457.9"/>
<polygon points="1015.3,511.4 1030.6,513.7 1035.9,511.1 1020.8,508.8" stroke-width="2.7"/>
<polygon points="512.9,436.6 528.8,378.8 535.9,411.9 521.2,444.2"/>
<polygon points="433.3,196 443.7,276.5 453.1,265.8 443.3,171.5"/>
<polygon points="887.1,505.7 901.9,508 908.1,505.4 893.4,503.1" stroke-width="2.7"/>
<polygon points="574.2,351.4 584.9,416 592.6,426 581.4,373.8"/>
<polygon points="723.8,489 738.7,478.5 745.7,480.7 730.9,489.3"/>
<polygon points="584.9,416 597.5,441.8 604.6,459.2 592.6,426"/>
<polygon points="434.1,289 442.8,419 453,385.2 443.7,276.5"/>
<polygon points="1051.2,513.4 1066.6,515.8 1071.7,513.1 1056.4,510.8" stroke-width="2.7"/>
<polygon points="922.9,507.7 937.8,510 943.8,507.4 928.9,505.1" stroke-width="2.7"/>
<polygon points="467.1,478.4 480.9,465.8 489.9,461.7 475.9,479.6"/>
<polygon points="794.8,497.9 809,503.9 815.8,501.3 801.6,496.3" stroke-width="2.7"/>
<polygon points="631,484.9 645.7,471.3 653.2,475 638.6,488.1"/>
<polygon points="958.7,509.7 973.8,512 979.5,509.4 964.5,507.1" stroke-width="2.7"/>
<polygon points="433.3,431.5 444.9,475.4 454.2,469.1 442.8,419"/>
<polygon points="830.2,503.8 844.9,505.4 851.4,503.3 836.9,501.3" stroke-width="2.7"/>
<polygon points="597.5,441.8 609.9,471.4 617.6,476.6 604.6,459.2"/>
<polygon points="760.6,470.9 774.2,484.9 781.2,484.2 767.4,473.2"/>
<polygon points="409,257.1 423.2,222.6 433.3,196 418.7,242.9"/>
<polygon points="994.6,511.7 1009.8,514.1 1015.3,511.4 1000.2,509.1" stroke-width="2.7"/>
<polygon points="702,492.7 716.5,488.6 723.8,489 709.4,491.1"/>
<polygon points="866.1,504.2 881,504.9 887.1,505.7 872.4,503.4" stroke-width="2.7"/>
<polygon points="373.3,384.4 388.7,300.5 398.8,280.7 383.2,368.5"/>
<polygon points="444.9,475.4 458,481.1 467.1,478.4 454.2,469.1"/>
<polygon points="1030.6,513.7 1045.9,516.1 1051.2,513.4 1035.9,511.1" stroke-width="2.7"/>
<polygon points="668.3,454.9 681.4,473.8 688.8,476.1 675,470.8"/>
<polygon points="901.9,508 916.8,510.3 922.9,507.7 908.1,505.4" stroke-width="2.7"/>
<polygon points="1066.6,515.8 1082.1,518.1 1087.2,515.5 1071.7,513.1" stroke-width="2.7"/>
<polygon points="609.9,471.4 623.4,478.5 631,484.9 617.6,476.6"/>
<polygon points="937.8,510 952.8,512.3 958.7,509.7 943.8,507.4" stroke-width="2.7"/>
<polygon points="774.2,484.9 787.8,500.5 794.8,497.9 781.2,484.2"/>
<polygon points="809,503.9 823.5,506.4 830.2,503.8 815.8,501.3" stroke-width="2.7"/>
<polygon points="423.2,222.6 434.1,289 443.7,276.5 433.3,196"/>
<polygon points="738.7,478.5 753.2,477.1 760.6,470.9 745.7,480.7"/>
<polygon points="423.9,318.3 433.3,431.5 442.8,419 434.1,289"/>
<polygon points="973.8,512 988.9,514.4 994.6,511.7 979.5,509.4" stroke-width="2.7"/>
<polygon points="844.9,505.4 859.7,506 866.1,504.2 851.4,503.3" stroke-width="2.7"/>
<polygon points="480.9,465.8 494.9,450.8 503.6,452.9 489.9,461.7"/>
<polygon points="681.4,473.8 694.5,495.3 702,492.7 688.8,476.1"/>
<polygon points="1009.8,514.1 1025.1,516.4 1030.6,513.7 1015.3,511.4" stroke-width="2.7"/>
<polygon points="881,504.9 895.9,507.1 901.9,508 887.1,505.7" stroke-width="2.7"/>
<polygon points="551.6,364.8 567.3,319.9 574.2,351.4 559.7,370.8"/>
<polygon points="398.8,280.7 412.5,261.8 423.2,222.6 409,257.1"/>
<polygon points="1045.9,516.1 1061.4,518.5 1066.6,515.8 1051.2,513.4" stroke-width="2.7"/>
<polygon points="645.7,471.3 661.9,432.8 668.3,454.9 653.2,475"/>
<polygon points="503.6,452.9 520.7,365.7 528.8,378.8 512.9,436.6"/>
<polygon points="916.8,510.3 931.7,512.6 937.8,510 922.9,507.7" stroke-width="2.7"/>
<polygon points="716.5,488.6 732,470.9 738.7,478.5 723.8,489"/>
<polygon points="458,481.1 472,464 480.9,465.8 467.1,478.4"/>
<polygon points="787.8,500.5 802.1,506.6 809,503.9 794.8,497.9" stroke-width="2.7"/>
<polygon points="528.8,378.8 545.3,314.2 551.6,364.8 535.9,411.9"/>
<polygon points="952.8,512.3 967.9,514.7 973.8,512 958.7,509.7" stroke-width="2.7"/>
<polygon points="424.5,418.8 435.7,478.3 444.9,475.4 433.3,431.5"/>
<polygon points="823.5,506.4 838.2,507.7 844.9,505.4 830.2,503.8" stroke-width="2.7"/>
<polygon points="363.3,397.4 379.1,300.3 388.7,300.5 373.3,384.4"/>
<polygon points="753.2,477.1 767.2,486.9 774.2,484.9 760.6,470.9"/>
<polygon points="623.4,478.5 638.1,467.6 645.7,471.3 631,484.9"/>
<polygon points="578.3,381.6 589.8,432.4 597.5,441.8 584.9,416"/>
<polygon points="988.9,514.4 1004.2,516.7 1009.8,514.1 994.6,511.7" stroke-width="2.7"/>
<polygon points="567.3,319.9 578.3,381.6 584.9,416 574.2,351.4"/>
<polygon points="412.5,261.8 423.9,318.3 434.1,289 423.2,222.6"/>
<polygon points="694.5,495.3 708.9,493.4 716.5,488.6 702,492.7"/>
<polygon points="589.8,432.4 601.6,475.7 609.9,471.4 597.5,441.8"/>
<polygon points="859.7,506 874.7,505.5 881,504.9 866.1,504.2" stroke-width="2.7"/>
<polygon points="435.7,478.3 448.8,484.4 458,481.1 444.9,475.4"/>
<polygon points="1025.1,516.4 1040.6,518.8 1045.9,516.1 1030.6,513.7" stroke-width="2.7"/>
<polygon points="895.9,507.1 910.7,511.5 916.8,510.3 901.9,508" stroke-width="2.7"/>
<polygon points="413.8,339.8 424.5,418.8 433.3,431.5 423.9,318.3"/>
<polygon points="1061.4,518.5 1077,520.8 1082.1,518.1 1066.6,515.8" stroke-width="2.7"/>
<polygon points="388.7,300.5 402,295.4 412.5,261.8 398.8,280.7"/>
<polygon points="931.7,512.6 946.8,515 952.8,512.3 937.8,510" stroke-width="2.7"/>
<polygon points="802.1,506.6 816.7,508.9 823.5,506.4 809,503.9" stroke-width="2.7"/>
<polygon points="601.6,475.7 615.1,485.6 623.4,478.5 609.9,471.4"/>
<polygon points="767.2,486.9 780.8,502.1 787.8,500.5 774.2,484.9"/>
<polygon points="661.9,432.8 674.3,465.1 681.4,473.8 668.3,454.9"/>
<polygon points="732,470.9 746.6,469.7 753.2,477.1 738.7,478.5"/>
<polygon points="967.9,514.7 983.2,517.1 988.9,514.4 973.8,512" stroke-width="2.7"/>
<polygon points="838.2,507.7 853.2,507.5 859.7,506 844.9,505.4" stroke-width="2.7"/>
<polygon points="472,464 486.4,442.8 494.9,450.8 480.9,465.8"/>
<polygon points="1004.2,516.7 1019.6,519.1 1025.1,516.4 1009.8,514.1" stroke-width="2.7"/>
<polygon points="674.3,465.1 686.9,496.9 694.5,495.3 681.4,473.8"/>
<polygon points="402,295.4 413.8,339.8 423.9,318.3 412.5,261.8"/>
<polygon points="874.7,505.5 889.8,505.7 895.9,507.1 881,504.9" stroke-width="2.7"/>
<polygon points="1040.6,518.8 1056.1,521.2 1061.4,518.5 1045.9,516.1" stroke-width="2.7"/>
<polygon points="910.7,511.5 925.7,514.6 931.7,512.6 916.8,510.3" stroke-width="2.7"/>
<polygon points="448.8,484.4 462.8,469.1 472,464 458,481.1"/>
<polygon points="708.9,493.4 724.8,468.6 732,470.9 716.5,488.6"/>
<polygon points="780.8,502.1 795.1,509.1 802.1,506.6 787.8,500.5" stroke-width="2.7"/>
<polygon points="353.5,401.1 368.6,328.8 379.1,300.3 363.3,397.4"/>
<polygon points="494.9,450.8 512.6,350.9 520.7,365.7 503.6,452.9"/>
<polygon points="638.1,467.6 653.9,435.8 661.9,432.8 645.7,471.3"/>
<polygon points="946.8,515 962,517.4 967.9,514.7 952.8,512.3" stroke-width="2.7"/>
<polygon points="414.6,432.9 426.3,483.3 435.7,478.3 424.5,418.8"/>
<polygon points="816.7,508.9 831.5,510.2 838.2,507.7 823.5,506.4" stroke-width="2.7"/>
<polygon points="746.6,469.7 760.3,483.9 767.2,486.9 753.2,477.1"/>
<polygon points="983.2,517.1 998.5,519.5 1004.2,516.7 988.9,514.4" stroke-width="2.7"/>
<polygon points="615.1,485.6 631.1,447.4 638.1,467.6 623.4,478.5"/>
<polygon points="686.9,496.9 701.9,485.1 708.9,493.4 694.5,495.3"/>
<polygon points="545.3,314.2 560.7,278.4 567.3,319.9 551.6,364.8"/>
<polygon points="379.1,300.3 391.8,316.3 402,295.4 388.7,300.5"/>
<polygon points="426.3,483.3 439.5,486.8 448.8,484.4 435.7,478.3"/>
<polygon points="581.8,425.3 593.1,481.7 601.6,475.7 589.8,432.4"/>
<polygon points="853.2,507.5 868.3,506.1 874.7,505.5 859.7,506" stroke-width="2.7"/>
<polygon points="403.3,371.5 414.6,432.9 424.5,418.8 413.8,339.8"/>
<polygon points="1019.6,519.1 1035.1,521.5 1040.6,518.8 1025.1,516.4" stroke-width="2.7"/>
<polygon points="889.8,505.7 904.7,509.2 910.7,511.5 895.9,507.1" stroke-width="2.7"/>
<polygon points="520.7,365.7 537.7,290.5 545.3,314.2 528.8,378.8"/>
<polygon points="1056.1,521.2 1071.7,523.6 1077,520.8 1061.4,518.5" stroke-width="2.7"/>
<polygon points="391.8,316.3 403.3,371.5 413.8,339.8 402,295.4"/>
<polygon points="593.1,481.7 606.9,487.7 615.1,485.6 601.6,475.7"/>
<polygon points="572.4,328.2 581.8,425.3 589.8,432.4 578.3,381.6"/>
<polygon points="925.7,514.6 940.8,517.6 946.8,515 931.7,512.6" stroke-width="2.7"/>
<polygon points="795.1,509.1 809.8,511.5 816.7,508.9 802.1,506.6" stroke-width="2.7"/>
<polygon points="760.3,483.9 773.9,500.7 780.8,502.1 767.2,486.9"/>
<polygon points="962,517.4 977.4,519.8 983.2,517.1 967.9,514.7" stroke-width="2.7"/>
<polygon points="653.9,435.8 666.7,464.5 674.3,465.1 661.9,432.8"/>
<polygon points="831.5,510.2 846.5,509.7 853.2,507.5 838.2,507.7" stroke-width="2.7"/>
<polygon points="560.7,278.4 572.4,328.2 578.3,381.6 567.3,319.9"/>
<polygon points="724.8,468.6 740.1,457.7 746.6,469.7 732,470.9"/>
<polygon points="998.5,519.5 1014,521.9 1019.6,519.1 1004.2,516.7" stroke-width="2.7"/>
<polygon points="462.8,469.1 476.9,453.9 486.4,442.8 472,464"/>
<polygon points="343,424.6 358.4,342.5 368.6,328.8 353.5,401.1"/>
<polygon points="666.7,464.5 679.5,492.5 686.9,496.9 674.3,465.1"/>
<polygon points="868.3,506.1 883.8,502.9 889.8,505.7 874.7,505.5"/>
<polygon points="1035.1,521.5 1050.7,523.9 1056.1,521.2 1040.6,518.8" stroke-width="2.7"/>
<polygon points="439.5,486.8 453.3,477.7 462.8,469.1 448.8,484.4"/>
<polygon points="404.4,457.6 416.7,488.7 426.3,483.3 414.6,432.9"/>
<polygon points="904.7,509.2 919.6,515.8 925.7,514.6 910.7,511.5" stroke-width="2.7"/>
<polygon points="773.9,500.7 788.1,511.2 795.1,509.1 780.8,502.1"/>
<polygon points="393,396 404.4,457.6 414.6,432.9 403.3,371.5"/>
<polygon points="368.6,328.8 381.6,335.5 391.8,316.3 379.1,300.3"/>
<polygon points="940.8,517.6 956.1,520.1 962,517.4 946.8,515" stroke-width="2.7"/>
<polygon points="809.8,511.5 824.7,512.7 831.5,510.2 816.7,508.9" stroke-width="2.7"/>
<polygon points="701.9,485.1 718.7,445.9 724.8,468.6 708.9,493.4"/>
<polygon points="486.4,442.8 504,342.5 512.6,350.9 494.9,450.8"/>
<polygon points="631.1,447.4 646.5,426.9 653.9,435.8 638.1,467.6"/>
<polygon points="381.6,335.5 393,396 403.3,371.5 391.8,316.3"/>
<polygon points="977.4,519.8 992.8,522.2 998.5,519.5 983.2,517.1" stroke-width="2.7"/>
<polygon points="416.7,488.7 430.1,490.5 439.5,486.8 426.3,483.3" stroke-width="2.7"/>
<polygon points="606.9,487.7 622.9,451.4 631.1,447.4 615.1,485.6"/>
<polygon points="740.1,457.7 753.9,472.2 760.3,483.9 746.6,469.7"/>
<polygon points="846.5,509.7 862.1,503.4 868.3,506.1 853.2,507.5"/>
<polygon points="1014,521.9 1029.6,524.3 1035.1,521.5 1019.6,519.1" stroke-width="2.7"/>
<polygon points="679.5,492.5 695,474.7 701.9,485.1 686.9,496.9"/>
<polygon points="575,391.3 585.4,470.9 593.1,481.7 581.8,425.3"/>
<polygon points="1050.7,523.9 1066.5,526.4 1071.7,523.6 1056.1,521.2" stroke-width="2.7"/>
<polygon points="883.8,502.9 898.7,508 904.7,509.2 889.8,505.7"/>
<polygon points="919.6,515.8 934.7,520.2 940.8,517.6 925.7,514.6" stroke-width="2.7"/>
<polygon points="788.1,511.2 802.8,514.1 809.8,511.5 795.1,509.1" stroke-width="2.7"/>
<polygon points="585.4,470.9 599.2,477.4 606.9,487.7 593.1,481.7"/>
<polygon points="956.1,520.1 971.5,522.6 977.4,519.8 962,517.4" stroke-width="2.7"/>
<polygon points="333.6,404 347.4,378.2 358.4,342.5 343,424.6"/>
<polygon points="753.9,472.2 766.8,502.5 773.9,500.7 760.3,483.9"/>
<polygon points="646.5,426.9 658.2,476.3 666.7,464.5 653.9,435.8"/>
<polygon points="824.7,512.7 839.8,512.4 846.5,509.7 831.5,510.2" stroke-width="2.7"/>
<polygon points="453.3,477.7 468.1,447 476.9,453.9 462.8,469.1"/>
<polygon points="512.6,350.9 530.4,255.5 537.7,290.5 520.7,365.7"/>
<polygon points="537.7,290.5 553.5,246.8 560.7,278.4 545.3,314.2"/>
<polygon points="992.8,522.2 1008.4,524.6 1014,521.9 998.5,519.5" stroke-width="2.7"/>
<polygon points="394.6,464.7 407.1,490.6 416.7,488.7 404.4,457.6"/>
<polygon points="658.2,476.3 671.5,496.6 679.5,492.5 666.7,464.5"/>
<polygon points="358.4,342.5 371.7,339 381.6,335.5 368.6,328.8"/>
<polygon points="383.6,387.8 394.6,464.7 404.4,457.6 393,396"/>
<polygon points="430.1,490.5 443.9,482.1 453.3,477.7 439.5,486.8"/>
<polygon points="1029.6,524.3 1045.3,526.7 1050.7,523.9 1035.1,521.5" stroke-width="2.7"/>
<polygon points="565,303.5 575,391.3 581.8,425.3 572.4,328.2"/>
<polygon points="862.1,503.4 877.4,502.6 883.8,502.9 868.3,506.1"/>
<polygon points="718.7,445.9 734.2,433.9 740.1,457.7 724.8,468.6"/>
<polygon points="898.7,508 913.3,517.7 919.6,515.8 904.7,509.2"/>
<polygon points="766.8,502.5 780.9,513.6 788.1,511.2 773.9,500.7"/>
<polygon points="934.7,520.2 950,522.9 956.1,520.1 940.8,517.6" stroke-width="2.7"/>
<polygon points="371.7,339 383.6,387.8 393,396 381.6,335.5"/>
<polygon points="802.8,514.1 817.8,514.3 824.7,512.7 809.8,511.5" stroke-width="2.7"/>
<polygon points="476.9,453.9 494.7,349.5 504,342.5 486.4,442.8"/>
<polygon points="971.5,522.6 987,525 992.8,522.2 977.4,519.8" stroke-width="2.7"/>
<polygon points="407.1,490.6 420.5,493 430.1,490.5 416.7,488.7" stroke-width="2.7"/>
<polygon points="553.5,246.8 565,303.5 572.4,328.2 560.7,278.4"/>
<polygon points="695,474.7 711.8,436 718.7,445.9 701.9,485.1"/>
<polygon points="622.9,451.4 639.2,412.3 646.5,426.9 631.1,447.4"/>
<polygon points="1008.4,524.6 1024,527.1 1029.6,524.3 1014,521.9" stroke-width="2.7"/>
<polygon points="839.8,512.4 855.6,503.4 862.1,503.4 846.5,509.7"/>
<polygon points="599.2,477.4 615.4,437.7 622.9,451.4 606.9,487.7"/>
<polygon points="671.5,496.6 686.9,481.5 695,474.7 679.5,492.5"/>
<polygon points="1045.3,526.7 1061.1,529.2 1066.5,526.4 1050.7,523.9" stroke-width="2.7"/>
<polygon points="734.2,433.9 746.6,472 753.9,472.2 740.1,457.7"/>
<polygon points="913.3,517.7 928.5,522.5 934.7,520.2 919.6,515.8" stroke-width="2.7"/>
<polygon points="877.4,502.6 892.2,510.8 898.7,508 883.8,502.9"/>
<polygon points="780.9,513.6 795.7,516.7 802.8,514.1 788.1,511.2" stroke-width="2.7"/>
<polygon points="323.9,389.3 337.1,388.8 347.4,378.2 333.6,404"/>
<polygon points="950,522.9 965.5,525.4 971.5,522.6 956.1,520.1" stroke-width="2.7"/>
<polygon points="566.6,388.9 576.9,473.1 585.4,470.9 575,391.3"/>
<polygon points="347.4,378.2 361.2,360 371.7,339 358.4,342.5"/>
<polygon points="576.9,473.1 590.8,478.9 599.2,477.4 585.4,470.9"/>
<polygon points="817.8,514.3 833.1,513 839.8,512.4 824.7,512.7" stroke-width="2.7"/>
<polygon points="746.6,472 759.5,503.7 766.8,502.5 753.9,472.2"/>
<polygon points="443.9,482.1 458.6,453.6 468.1,447 453.3,477.7"/>
<polygon points="987,525 1002.6,527.5 1008.4,524.6 992.8,522.2" stroke-width="2.7"/>
<polygon points="639.2,412.3 651.5,453.7 658.2,476.3 646.5,426.9"/>
<polygon points="384.7,469.7 397.3,495.4 407.1,490.6 394.6,464.7"/>
<polygon points="373.5,397.1 384.7,469.7 394.6,464.7 383.6,387.8"/>
<polygon points="420.5,493 434.5,481.6 443.9,482.1 430.1,490.5"/>
<polygon points="651.5,453.7 663.5,500.3 671.5,496.6 658.2,476.3"/>
<polygon points="1024,527.1 1039.8,529.6 1045.3,526.7 1029.6,524.3" stroke-width="2.7"/>
<polygon points="855.6,503.4 870.8,506.2 877.4,502.6 862.1,503.4"/>
<polygon points="892.2,510.8 907,520.5 913.3,517.7 898.7,508"/>
<polygon points="759.5,503.7 773.7,516.7 780.9,513.6 766.8,502.5"/>
<polygon points="361.2,360 373.5,397.1 383.6,387.8 371.7,339"/>
<polygon points="928.5,522.5 943.9,525.6 950,522.9 934.7,520.2" stroke-width="2.7"/>
<polygon points="504,342.5 523,217.8 530.4,255.5 512.6,350.9"/>
<polygon points="795.7,516.7 810.9,516.5 817.8,514.3 802.8,514.1" stroke-width="2.7"/>
<polygon points="468.1,447 485.7,345.5 494.7,349.5 476.9,453.9"/>
<polygon points="711.8,436 726.4,439 734.2,433.9 718.7,445.9"/>
<polygon points="965.5,525.4 981.1,527.8 987,525 971.5,522.6" stroke-width="2.7"/>
<polygon points="557.7,272.4 566.6,388.9 575,391.3 565,303.5"/>
<polygon points="397.3,495.4 410.9,494.6 420.5,493 407.1,490.6" stroke-width="2.7"/>
<polygon points="530.4,255.5 547.4,185.7 553.5,246.8 537.7,290.5"/>
<polygon points="1002.6,527.5 1018.4,529.9 1024,527.1 1008.4,524.6" stroke-width="2.7"/>
<polygon points="663.5,500.3 679,484.6 686.9,481.5 671.5,496.6"/>
<polygon points="833.1,513 849.7,494.5 855.6,503.4 839.8,512.4"/>
<polygon points="337.1,388.8 350.7,375.1 361.2,360 347.4,378.2"/>
<polygon points="686.9,481.5 705,421.4 711.8,436 695,474.7"/>
<polygon points="615.4,437.7 631.5,403.9 639.2,412.3 622.9,451.4"/>
<polygon points="312.5,435.1 326.4,407.2 337.1,388.8 323.9,389.3"/>
<polygon points="1039.8,529.6 1055.7,532.1 1061.1,529.2 1045.3,526.7" stroke-width="2.7"/>
<polygon points="907,520.5 922.2,524.8 928.5,522.5 913.3,517.7" stroke-width="2.7"/>
<polygon points="870.8,506.2 885.5,515.4 892.2,510.8 877.4,502.6"/>
<polygon points="773.7,516.7 788.5,519.6 795.7,516.7 780.9,513.6" stroke-width="2.7"/>
<polygon points="590.8,478.9 608.8,402.7 615.4,437.7 599.2,477.4"/>
<polygon points="557.2,406.3 568.1,478.5 576.9,473.1 566.6,388.9"/>
<polygon points="726.4,439 739.7,464.9 746.6,472 734.2,433.9"/>
<polygon points="568.1,478.5 581.8,490.6 590.8,478.9 576.9,473.1"/>
<polygon points="943.9,525.6 959.4,528.2 965.5,525.4 950,522.9" stroke-width="2.7"/>
<polygon points="434.5,481.6 448.8,465.1 458.6,453.6 443.9,482.1"/>
<polygon points="810.9,516.5 826.4,511.6 833.1,513 817.8,514.3"/>
<polygon points="547.4,185.7 557.7,272.4 565,303.5 553.5,246.8"/>
<polygon points="739.7,464.9 752,508.4 759.5,503.7 746.6,472"/>
<polygon points="981.1,527.8 996.8,530.3 1002.6,527.5 987,525" stroke-width="2.7"/>
<polygon points="374.8,470.9 387.5,498.8 397.3,495.4 384.7,469.7"/>
<polygon points="363.6,393.9 374.8,470.9 384.7,469.7 373.5,397.1"/>
<polygon points="1018.4,529.9 1034.2,532.4 1039.8,529.6 1024,527.1" stroke-width="2.7"/>
<polygon points="410.9,494.6 425,479.6 434.5,481.6 420.5,493"/>
<polygon points="350.7,375.1 363.6,393.9 373.5,397.1 361.2,360"/>
<polygon points="631.5,403.9 643.7,448.8 651.5,453.7 639.2,412.3"/>
<polygon points="643.7,448.8 655.6,500.5 663.5,500.3 651.5,453.7"/>
<polygon points="885.5,515.4 900.7,520.1 907,520.5 892.2,510.8"/>
<polygon points="752,508.4 766.4,518.7 773.7,516.7 759.5,503.7"/>
<polygon points="849.7,494.5 864.4,504.4 870.8,506.2 855.6,503.4"/>
<polygon points="922.2,524.8 937.7,528.5 943.9,525.6 928.5,522.5" stroke-width="2.7"/>
<polygon points="458.6,453.6 475.2,379.1 485.7,345.5 468.1,447"/>
<polygon points="788.5,519.6 803.9,517.3 810.9,516.5 795.7,516.7" stroke-width="2.7"/>
<polygon points="326.4,407.2 339.8,404.3 350.7,375.1 337.1,388.8"/>
<polygon points="959.4,528.2 975.1,530.7 981.1,527.8 965.5,525.4" stroke-width="2.7"/>
<polygon points="387.5,498.8 401.1,497.5 410.9,494.6 397.3,495.4" stroke-width="2.7"/>
<polygon points="494.7,349.5 514.6,202.1 523,217.8 504,342.5"/>
<polygon points="301.9,447.7 316.3,396.5 326.4,407.2 312.5,435.1"/>
<polygon points="996.8,530.3 1012.6,532.8 1018.4,529.9 1002.6,527.5" stroke-width="2.7"/>
<polygon points="655.6,500.5 670.9,487.8 679,484.6 663.5,500.3"/>
<polygon points="550.3,240.8 557.2,406.3 566.6,388.9 557.7,272.4"/>
<polygon points="705,421.4 722.1,384.4 726.4,439 711.8,436"/>
<polygon points="826.4,511.6 843.1,492.3 849.7,494.5 833.1,513"/>
<polygon points="1034.2,532.4 1050.2,535 1055.7,532.1 1039.8,529.6" stroke-width="2.7"/>
<polygon points="679,484.6 698.3,404.1 705,421.4 686.9,481.5"/>
<polygon points="766.4,518.7 781.3,522.5 788.5,519.6 773.7,516.7" stroke-width="2.7"/>
<polygon points="900.7,520.1 915.9,527.5 922.2,524.8 907,520.5" stroke-width="2.7"/>
<polygon points="864.4,504.4 879.2,513.7 885.5,515.4 870.8,506.2"/>
<polygon points="548.8,399.4 559.5,478.8 568.1,478.5 557.2,406.3"/>
<polygon points="559.5,478.8 573.3,489.4 581.8,490.6 568.1,478.5"/>
<polygon points="937.7,528.5 953.3,531.1 959.4,528.2 943.9,525.6" stroke-width="2.7"/>
<polygon points="581.8,490.6 601.1,389 608.8,402.7 590.8,478.9"/>
<polygon points="425,479.6 440,446 448.8,465.1 434.5,481.6"/>
<polygon points="803.9,517.3 819.6,511.3 826.4,511.6 810.9,516.5"/>
<polygon points="975.1,530.7 990.9,533.2 996.8,530.3 981.1,527.8" stroke-width="2.7"/>
<polygon points="364.6,479.5 377.5,502.3 387.5,498.8 374.8,470.9"/>
<polygon points="339.8,404.3 353.6,389.5 363.6,393.9 350.7,375.1"/>
<polygon points="608.8,402.7 626.1,347.1 631.5,403.9 615.4,437.7"/>
<polygon points="523,217.8 540.8,130.9 547.4,185.7 530.4,255.5"/>
<polygon points="448.8,465.1 464.9,402.9 475.2,379.1 458.6,453.6"/>
<polygon points="353.6,389.5 364.6,479.5 374.8,470.9 363.6,393.9"/>
<polygon points="1012.6,532.8 1028.6,535.3 1034.2,532.4 1018.4,529.9" stroke-width="2.7"/>
<polygon points="734.5,427.4 744.6,509.4 752,508.4 739.7,464.9"/>
<polygon points="401.1,497.5 415,489.4 425,479.6 410.9,494.6"/>
<polygon points="722.1,384.4 734.5,427.4 739.7,464.9 726.4,439"/>
<polygon points="744.6,509.4 758.9,521.2 766.4,518.7 752,508.4"/>
<polygon points="879.2,513.7 894.4,520.7 900.7,520.1 885.5,515.4"/>
<polygon points="915.9,527.5 931.4,531.3 937.7,528.5 922.2,524.8" stroke-width="2.7"/>
<polygon points="316.3,396.5 329.5,406.5 339.8,404.3 326.4,407.2"/>
<polygon points="781.3,522.5 796.6,520.6 803.9,517.3 788.5,519.6" stroke-width="2.7"/>
<polygon points="636.9,423.6 647.5,501.5 655.6,500.5 643.7,448.8"/>
<polygon points="843.1,492.3 858.3,497.6 864.4,504.4 849.7,494.5"/>
<polygon points="953.3,531.1 969.1,533.6 975.1,530.7 959.4,528.2" stroke-width="2.7"/>
<polygon points="377.5,502.3 391.1,501.6 401.1,497.5 387.5,498.8" stroke-width="2.7"/>
<polygon points="485.7,345.5 504.7,219.2 514.6,202.1 494.7,349.5"/>
<polygon points="540.8,130.9 550.3,240.8 557.7,272.4 547.4,185.7"/>
<polygon points="291.9,424.2 305.5,411.9 316.3,396.5 301.9,447.7"/>
<polygon points="626.1,347.1 636.9,423.6 643.7,448.8 631.5,403.9"/>
<polygon points="990.9,533.2 1006.8,535.7 1012.6,532.8 996.8,530.3" stroke-width="2.7"/>
<polygon points="647.5,501.5 663.4,479.4 670.9,487.8 655.6,500.5"/>
<polygon points="1028.6,535.3 1044.7,537.9 1050.2,535 1034.2,532.4" stroke-width="2.7"/>
<polygon points="819.6,511.3 835.5,504.7 843.1,492.3 826.4,511.6"/>
<polygon points="542.1,224.2 548.8,399.4 557.2,406.3 550.3,240.8"/>
<polygon points="758.9,521.2 773.9,525 781.3,522.5 766.4,518.7" stroke-width="2.7"/>
<polygon points="894.4,520.7 909.4,529.7 915.9,527.5 900.7,520.1" stroke-width="2.7"/>
<polygon points="539.9,399.3 550.8,477.3 559.5,478.8 548.8,399.4"/>
<polygon points="931.4,531.3 947.1,534 953.3,531.1 937.7,528.5" stroke-width="2.7"/>
<polygon points="670.9,487.8 691.2,389.8 698.3,404.1 679,484.6"/>
<polygon points="858.3,497.6 873.5,503.1 879.2,513.7 864.4,504.4"/>
<polygon points="550.8,477.3 565.1,480.3 573.3,489.4 559.5,478.8"/>
<polygon points="329.5,406.5 342.8,412.9 353.6,389.5 339.8,404.3"/>
<polygon points="354.3,488.1 367.4,504.8 377.5,502.3 364.6,479.5"/>
<polygon points="969.1,533.6 984.9,536.1 990.9,533.2 975.1,530.7" stroke-width="2.7"/>
<polygon points="796.6,520.6 812.7,510.6 819.6,511.3 803.9,517.3"/>
<polygon points="342.8,412.9 354.3,488.1 364.6,479.5 353.6,389.5"/>
<polygon points="415,489.4 430.4,445.2 440,446 425,479.6"/>
<polygon points="440,446 455.2,409.3 464.9,402.9 448.8,465.1"/>
<polygon points="573.3,489.4 593.5,368.1 601.1,389 581.8,490.6"/>
<polygon points="391.1,501.6 405.2,492 415,489.4 401.1,497.5"/>
<polygon points="1006.8,535.7 1022.9,538.3 1028.6,535.3 1012.6,532.8" stroke-width="2.7"/>
<polygon points="698.3,404.1 718.1,320.7 722.1,384.4 705,421.4"/>
<polygon points="475.2,379.1 493.5,268.9 504.7,219.2 485.7,345.5"/>
<polygon points="737.6,501.6 751.4,523 758.9,521.2 744.6,509.4"/>
<polygon points="909.4,529.7 925,534.1 931.4,531.3 915.9,527.5" stroke-width="2.7"/>
<polygon points="873.5,503.1 887.5,526.5 894.4,520.7 879.2,513.7"/>
<polygon points="773.9,525 789.3,523.3 796.6,520.6 781.3,522.5" stroke-width="2.7"/>
<polygon points="305.5,411.9 319.3,395.9 329.5,406.5 316.3,396.5"/>
<polygon points="728.6,398.4 737.6,501.6 744.6,509.4 734.5,427.4"/>
<polygon points="835.5,504.7 852,491.9 858.3,497.6 843.1,492.3"/>
<polygon points="947.1,534 962.9,536.5 969.1,533.6 953.3,531.1" stroke-width="2.7"/>
<polygon points="367.4,504.8 381,505.8 391.1,501.6 377.5,502.3" stroke-width="2.7"/>
<polygon points="514.6,202.1 532.6,109 540.8,130.9 523,217.8"/>
<polygon points="629.4,408.2 639.1,505.7 647.5,501.5 636.9,423.6"/>
<polygon points="984.9,536.1 1000.9,538.7 1006.8,535.7 990.9,533.2" stroke-width="2.7"/>
<polygon points="601.1,389 621.5,272.3 626.1,347.1 608.8,402.7"/>
<polygon points="639.1,505.7 655.1,482.7 663.4,479.4 647.5,501.5"/>
<polygon points="1022.9,538.3 1039,540.9 1044.7,537.9 1028.6,535.3" stroke-width="2.7"/>
<polygon points="812.7,510.6 828.7,504.1 835.5,504.7 819.6,511.3"/>
<polygon points="281.7,405.4 295.3,394.5 305.5,411.9 291.9,424.2"/>
<polygon points="718.1,320.7 728.6,398.4 734.5,427.4 722.1,384.4"/>
<polygon points="751.4,523 766.4,527.6 773.9,525 758.9,521.2" stroke-width="2.7"/>
<polygon points="532.1,247.6 539.9,399.3 548.8,399.4 542.1,224.2"/>
<polygon points="887.5,526.5 902.9,532.9 909.4,529.7 894.4,520.7" stroke-width="2.7"/>
<polygon points="464.9,402.9 482.8,303.1 493.5,268.9 475.2,379.1"/>
<polygon points="925,534.1 940.8,536.9 947.1,534 931.4,531.3" stroke-width="2.7"/>
<polygon points="531.2,393.9 541.5,488.7 550.8,477.3 539.9,399.3"/>
<polygon points="319.3,395.9 332.2,422.3 342.8,412.9 329.5,406.5"/>
<polygon points="332.2,422.3 343.8,496.2 354.3,488.1 342.8,412.9"/>
<polygon points="541.5,488.7 555.8,491.4 565.1,480.3 550.8,477.3"/>
<polygon points="343.8,496.2 357.1,507.6 367.4,504.8 354.3,488.1"/>
<polygon points="532.6,109 542.1,224.2 550.3,240.8 540.8,130.9"/>
<polygon points="852,491.9 867,502 873.5,503.1 858.3,497.6"/>
<polygon points="962.9,536.5 978.9,539.1 984.9,536.1 969.1,533.6" stroke-width="2.7"/>
<polygon points="663.4,479.4 684.2,373.3 691.2,389.8 670.9,487.8"/>
<polygon points="405.2,492 420.2,456 430.4,445.2 415,489.4"/>
<polygon points="789.3,523.3 805.7,510 812.7,510.6 796.6,520.6"/>
<polygon points="381,505.8 394.9,503.4 405.2,492 391.1,501.6"/>
<polygon points="430.4,445.2 445.3,419.2 455.2,409.3 440,446"/>
<polygon points="621.5,272.3 629.4,408.2 636.9,423.6 626.1,347.1"/>
<polygon points="1000.9,538.7 1017.1,541.3 1022.9,538.3 1006.8,535.7" stroke-width="2.7"/>
<polygon points="565.1,480.3 586.3,336.7 593.5,368.1 573.3,489.4"/>
<polygon points="902.9,532.9 918.5,537 925,534.1 909.4,529.7" stroke-width="2.7"/>
<polygon points="730.1,499.6 743.8,525.7 751.4,523 737.6,501.6"/>
<polygon points="766.4,527.6 782.1,524.3 789.3,523.3 773.9,525" stroke-width="2.7"/>
<polygon points="867,502 881.3,522.4 887.5,526.5 873.5,503.1"/>
<polygon points="940.8,536.9 956.7,539.5 962.9,536.5 947.1,534" stroke-width="2.7"/>
<polygon points="357.1,507.6 370.8,510 381,505.8 367.4,504.8" stroke-width="2.7"/>
<polygon points="828.7,504.1 845.7,484.3 852,491.9 835.5,504.7"/>
<polygon points="295.3,394.5 309.2,377.7 319.3,395.9 305.5,411.9"/>
<polygon points="504.7,219.2 522.4,133.1 532.6,109 514.6,202.1"/>
<polygon points="455.2,409.3 471.9,338.3 482.8,303.1 464.9,402.9"/>
<polygon points="978.9,539.1 995,541.7 1000.9,538.7 984.9,536.1" stroke-width="2.7"/>
<polygon points="721.7,385.3 730.1,499.6 737.6,501.6 728.6,398.4"/>
<polygon points="691.2,389.8 712.6,279.5 718.1,320.7 698.3,404.1"/>
<polygon points="622.5,378.5 630.9,505.1 639.1,505.7 629.4,408.2"/>
<polygon points="630.9,505.1 646.3,494.2 655.1,482.7 639.1,505.7"/>
<polygon points="521.8,273.7 531.2,393.9 539.9,399.3 532.1,247.6"/>
<polygon points="270.3,432.1 283.9,421.1 295.3,394.5 281.7,405.4"/>
<polygon points="1017.1,541.3 1033.3,543.9 1039,540.9 1022.9,538.3" stroke-width="2.7"/>
<polygon points="743.8,525.7 758.9,530.1 766.4,527.6 751.4,523" stroke-width="2.7"/>
<polygon points="805.7,510 822.3,494.3 828.7,504.1 812.7,510.6"/>
<polygon points="881.3,522.4 896.3,535 902.9,532.9 887.5,526.5"/>
<polygon points="521.5,407 532.7,484.9 541.5,488.7 531.2,393.9"/>
<polygon points="918.5,537 934.4,539.9 940.8,536.9 925,534.1" stroke-width="2.7"/>
<polygon points="532.7,484.9 546.9,490.5 555.8,491.4 541.5,488.7"/>
<polygon points="394.9,503.4 409.7,473.8 420.2,456 405.2,492"/>
<polygon points="522.4,133.1 532.1,247.6 542.1,224.2 532.6,109"/>
<polygon points="321.8,416.8 333.7,484.6 343.8,496.2 332.2,422.3"/>
<polygon points="333.7,484.6 346.7,509.8 357.1,507.6 343.8,496.2"/>
<polygon points="309.2,377.7 321.8,416.8 332.2,422.3 319.3,395.9"/>
<polygon points="956.7,539.5 972.8,542.1 978.9,539.1 962.9,536.5" stroke-width="2.7"/>
<polygon points="370.8,510 384.7,507.6 394.9,503.4 381,505.8"/>
<polygon points="420.2,456 435.4,421.9 445.3,419.2 430.4,445.2"/>
<polygon points="782.1,524.3 798.6,509.7 805.7,510 789.3,523.3"/>
<polygon points="845.7,484.3 860.2,502.2 867,502 852,491.9"/>
<polygon points="493.5,268.9 511.2,181.8 522.4,133.1 504.7,219.2"/>
<polygon points="995,541.7 1011.2,544.3 1017.1,541.3 1000.9,538.7" stroke-width="2.7"/>
<polygon points="655.1,482.7 676.7,361.5 684.2,373.3 663.4,479.4"/>
<polygon points="712.6,279.5 721.7,385.3 728.6,398.4 718.1,320.7"/>
<polygon points="445.3,419.2 461.1,372 471.9,338.3 455.2,409.3"/>
<polygon points="593.5,368.1 617.1,186.8 621.5,272.3 601.1,389"/>
<polygon points="896.3,535 912,540 918.5,537 902.9,532.9" stroke-width="2.7"/>
<polygon points="258.7,466 272.5,449 283.9,421.1 270.3,432.1"/>
<polygon points="758.9,530.1 774.5,527.3 782.1,524.3 766.4,527.6" stroke-width="2.7"/>
<polygon points="722.5,498.4 736,529.4 743.8,525.7 730.1,499.6"/>
<polygon points="346.7,509.8 360.4,513.8 370.8,510 357.1,507.6" stroke-width="2.7"/>
<polygon points="934.4,539.9 950.4,542.5 956.7,539.5 940.8,536.9" stroke-width="2.7"/>
<polygon points="283.9,421.1 297.7,409 309.2,377.7 295.3,394.5"/>
<polygon points="860.2,502.2 874.7,522.2 881.3,522.4 867,502"/>
<polygon points="555.8,491.4 578.1,322.3 586.3,336.7 565.1,480.3"/>
<polygon points="511,311.5 521.5,407 531.2,393.9 521.8,273.7"/>
<polygon points="482.8,303.1 499.4,243.1 511.2,181.8 493.5,268.9"/>
<polygon points="511.2,181.8 521.8,273.7 532.1,247.6 522.4,133.1"/>
<polygon points="972.8,542.1 988.9,544.7 995,541.7 978.9,539.1" stroke-width="2.7"/>
<polygon points="822.3,494.3 840,466.6 845.7,484.3 828.7,504.1"/>
<polygon points="622.5,504.5 637.9,495.2 646.3,494.2 630.9,505.1"/>
<polygon points="1011.2,544.3 1027.5,546.9 1033.3,543.9 1017.1,541.3" stroke-width="2.7"/>
<polygon points="714.7,371.5 722.5,498.4 730.1,499.6 721.7,385.3"/>
<polygon points="511.2,434.5 523.3,490.4 532.7,484.9 521.5,407"/>
<polygon points="736,529.4 751.2,533.1 758.9,530.1 743.8,525.7" stroke-width="2.7"/>
<polygon points="617.1,186.8 622.5,378.5 629.4,408.2 621.5,272.3"/>
<polygon points="384.7,507.6 399.2,490.3 409.7,473.8 394.9,503.4"/>
<polygon points="874.7,522.2 889.7,536.5 896.3,535 881.3,522.4"/>
<polygon points="912,540 927.9,542.9 934.4,539.9 918.5,537" stroke-width="2.7"/>
<polygon points="523.3,490.4 537.6,496.9 546.9,490.5 532.7,484.9"/>
<polygon points="798.6,509.7 816.1,481.9 822.3,494.3 805.7,510"/>
<polygon points="615.6,344.6 622.5,504.5 630.9,505.1 622.5,378.5"/>
<polygon points="297.7,409 310.7,435.4 321.8,416.8 309.2,377.7"/>
<polygon points="409.7,473.8 424.8,442.9 435.4,421.9 420.2,456"/>
<polygon points="310.7,435.4 323,490.1 333.7,484.6 321.8,416.8"/>
<polygon points="471.9,338.3 487.9,294.5 499.4,243.1 482.8,303.1"/>
<polygon points="684.2,373.3 706.1,253.4 712.6,279.5 691.2,389.8"/>
<polygon points="323,490.1 336.2,513.2 346.7,509.8 333.7,484.6"/>
<polygon points="950.4,542.5 966.5,545.2 972.8,542.1 956.7,539.5" stroke-width="2.7"/>
<polygon points="360.4,513.8 374.4,511.1 384.7,507.6 370.8,510" stroke-width="2.7"/>
<polygon points="499.4,243.1 511,311.5 521.8,273.7 511.2,181.8"/>
<polygon points="435.4,421.9 450.1,406.5 461.1,372 445.3,419.2"/>
<polygon points="247.5,475.1 260.9,478.2 272.5,449 258.7,466"/>
<polygon points="774.5,527.3 791.4,508.9 798.6,509.7 782.1,524.3"/>
<polygon points="272.5,449 286.3,433.1 297.7,409 283.9,421.1"/>
<polygon points="500.2,348.4 511.2,434.5 521.5,407 511,311.5"/>
<polygon points="988.9,544.7 1005.2,547.4 1011.2,544.3 995,541.7" stroke-width="2.7"/>
<polygon points="646.3,494.2 668.2,366.6 676.7,361.5 655.1,482.7"/>
<polygon points="840,466.6 855.6,470.9 860.2,502.2 845.7,484.3"/>
<polygon points="889.7,536.5 905.3,543 912,540 896.3,535" stroke-width="2.7"/>
<polygon points="751.2,533.1 766.9,531 774.5,527.3 758.9,530.1" stroke-width="2.7"/>
<polygon points="336.2,513.2 349.9,517.4 360.4,513.8 346.7,509.8" stroke-width="2.7"/>
<polygon points="715.1,491.8 728.1,532.6 736,529.4 722.5,498.4"/>
<polygon points="546.9,490.5 568.3,342.1 578.1,322.3 555.8,491.4"/>
<polygon points="927.9,542.9 944,545.6 950.4,542.5 934.4,539.9" stroke-width="2.7"/>
<polygon points="487.9,294.5 500.2,348.4 511,311.5 499.4,243.1"/>
<polygon points="461.1,372 477,330.5 487.9,294.5 471.9,338.3"/>
<polygon points="500.2,475.6 513.6,502.2 523.3,490.4 511.2,434.5"/>
<polygon points="706.1,253.4 714.7,371.5 721.7,385.3 712.6,279.5"/>
<polygon points="966.5,545.2 982.8,547.8 988.9,544.7 972.8,542.1" stroke-width="2.7"/>
<polygon points="855.6,470.9 867.8,524.5 874.7,522.2 860.2,502.2"/>
<polygon points="614.2,501.6 628.9,507.7 637.9,495.2 622.5,504.5"/>
<polygon points="286.3,433.1 299.6,448.3 310.7,435.4 297.7,409"/>
<polygon points="1005.2,547.4 1021.7,550 1027.5,546.9 1011.2,544.3" stroke-width="2.7"/>
<polygon points="399.2,490.3 414.1,466 424.8,442.9 409.7,473.8"/>
<polygon points="374.4,511.1 388.8,498.1 399.2,490.3 384.7,507.6"/>
<polygon points="489.6,377.5 500.2,475.6 511.2,434.5 500.2,348.4"/>
<polygon points="728.1,532.6 743.4,536.7 751.2,533.1 736,529.4" stroke-width="2.7"/>
<polygon points="816.1,481.9 834.2,448.6 840,466.6 822.3,494.3"/>
<polygon points="299.6,448.3 312.1,500.7 323,490.1 310.7,435.4"/>
<polygon points="513.6,502.2 528.1,505.6 537.6,496.9 523.3,490.4"/>
<polygon points="707.2,363 715.1,491.8 722.5,498.4 714.7,371.5"/>
<polygon points="867.8,524.5 882.8,539.7 889.7,536.5 874.7,522.2"/>
<polygon points="424.8,442.9 440.1,413.3 450.1,406.5 435.4,421.9"/>
<polygon points="260.9,478.2 275,446.2 286.3,433.1 272.5,449"/>
<polygon points="905.3,543 921.3,546 927.9,542.9 912,540" stroke-width="2.7"/>
<polygon points="586.3,336.7 612.1,109.2 617.1,186.8 593.5,368.1"/>
<polygon points="312.1,500.7 325.5,516.2 336.2,513.2 323,490.1"/>
<polygon points="944,545.6 960.2,548.3 966.5,545.2 950.4,542.5" stroke-width="2.7"/>
<polygon points="349.9,517.4 363.9,516.7 374.4,511.1 360.4,513.8" stroke-width="2.7"/>
<polygon points="477,330.5 489.6,377.5 500.2,348.4 487.9,294.5"/>
<polygon points="791.4,508.9 810.5,458.3 816.1,481.9 798.6,509.7"/>
<polygon points="236.3,470.7 250,463.7 260.9,478.2 247.5,475.1"/>
<polygon points="637.9,495.2 659.1,381.1 668.2,366.6 646.3,494.2"/>
<polygon points="607.9,325.3 614.2,501.6 622.5,504.5 615.6,344.6"/>
<polygon points="450.1,406.5 466.3,357.3 477,330.5 461.1,372"/>
<polygon points="766.9,531 784,509.4 791.4,508.9 774.5,527.3"/>
<polygon points="982.8,547.8 999.2,550.5 1005.2,547.4 988.9,544.7" stroke-width="2.7"/>
<polygon points="676.7,361.5 699.2,232.1 706.1,253.4 684.2,373.3"/>
<polygon points="537.6,496.9 557.4,382.8 568.3,342.1 546.9,490.5"/>
<polygon points="882.8,539.7 898.6,546.1 905.3,543 889.7,536.5" stroke-width="2.7"/>
<polygon points="490.6,479.7 503.9,509.3 513.6,502.2 500.2,475.6"/>
<polygon points="743.4,536.7 759.1,535.3 766.9,531 751.2,533.1" stroke-width="2.7"/>
<polygon points="325.5,516.2 339.3,520.8 349.9,517.4 336.2,513.2" stroke-width="2.7"/>
<polygon points="478.6,415.2 490.6,479.7 500.2,475.6 489.6,377.5"/>
<polygon points="921.3,546 937.5,548.7 944,545.6 927.9,542.9" stroke-width="2.7"/>
<polygon points="706.7,501.2 720.2,534.9 728.1,532.6 715.1,491.8"/>
<polygon points="612.1,109.2 615.6,344.6 622.5,378.5 617.1,186.8"/>
<polygon points="275,446.2 288.3,464 299.6,448.3 286.3,433.1"/>
<polygon points="834.2,448.6 849,467.2 855.6,470.9 840,466.6"/>
<polygon points="388.8,498.1 403.3,486.1 414.1,466 399.2,490.3"/>
<polygon points="960.2,548.3 976.6,551 982.8,547.8 966.5,545.2" stroke-width="2.7"/>
<polygon points="466.3,357.3 478.6,415.2 489.6,377.5 477,330.5"/>
<polygon points="605.3,505.7 620.3,508.3 628.9,507.7 614.2,501.6"/>
<polygon points="363.9,516.7 378.1,512.5 388.8,498.1 374.4,511.1"/>
<polygon points="414.1,466 429.6,429.6 440.1,413.3 424.8,442.9"/>
<polygon points="999.2,550.5 1015.7,553.2 1021.7,550 1005.2,547.4" stroke-width="2.7"/>
<polygon points="849,467.2 861.2,522.2 867.8,524.5 855.6,470.9"/>
<polygon points="288.3,464 301.3,499.8 312.1,500.7 299.6,448.3"/>
<polygon points="440.1,413.3 454.5,410.9 466.3,357.3 450.1,406.5"/>
<polygon points="503.9,509.3 518.6,509.5 528.1,505.6 513.6,502.2"/>
<polygon points="250,463.7 263.6,462.8 275,446.2 260.9,478.2"/>
<polygon points="720.2,534.9 735.5,539.6 743.4,536.7 728.1,532.6" stroke-width="2.7"/>
<polygon points="699.2,232.1 707.2,363 714.7,371.5 706.1,253.4"/>
<polygon points="698.3,378.5 706.7,501.2 715.1,491.8 707.2,363"/>
<polygon points="898.6,546.1 914.7,549.1 921.3,546 905.3,543" stroke-width="2.7"/>
<polygon points="861.2,522.2 875.8,543.6 882.8,539.7 867.8,524.5"/>
<polygon points="628.9,507.7 648.7,418.4 659.1,381.1 637.9,495.2"/>
<polygon points="301.3,499.8 314.7,518.9 325.5,516.2 312.1,500.7"/>
<polygon points="528.1,505.6 546.2,427.2 557.4,382.8 537.6,496.9"/>
<polygon points="339.3,520.8 353.2,522.1 363.9,516.7 349.9,517.4" stroke-width="2.7"/>
<polygon points="937.5,548.7 953.8,551.4 960.2,548.3 944,545.6" stroke-width="2.7"/>
<polygon points="466.5,477.7 480.6,490.2 490.6,479.7 478.6,415.2"/>
<polygon points="810.5,458.3 829.2,418.8 834.2,448.6 816.1,481.9"/>
<polygon points="225,471.2 238.5,471.5 250,463.7 236.3,470.7"/>
<polygon points="454.5,410.9 466.5,477.7 478.6,415.2 466.3,357.3"/>
<polygon points="759.1,535.3 776.7,506.8 784,509.4 766.9,531"/>
<polygon points="976.6,551 993.1,553.7 999.2,550.5 982.8,547.8" stroke-width="2.7"/>
<polygon points="598.3,339.8 605.3,505.7 614.2,501.6 607.9,325.3"/>
<polygon points="784,509.4 803.7,451.3 810.5,458.3 791.4,508.9"/>
<polygon points="668.2,366.6 690.2,246.3 699.2,232.1 676.7,361.5"/>
<polygon points="480.6,490.2 494.1,517.8 503.9,509.3 490.6,479.7"/>
<polygon points="875.8,543.6 891.7,549.2 898.6,546.1 882.8,539.7" stroke-width="2.7"/>
<polygon points="263.6,462.8 277,478.9 288.3,464 275,446.2"/>
<polygon points="735.5,539.6 751.4,536 759.1,535.3 743.4,536.7" stroke-width="2.7"/>
<polygon points="378.1,512.5 392.5,505.1 403.3,486.1 388.8,498.1"/>
<polygon points="698.3,507.8 712,538.6 720.2,534.9 706.7,501.2"/>
<polygon points="314.7,518.9 328.5,524.1 339.3,520.8 325.5,516.2" stroke-width="2.7"/>
<polygon points="403.3,486.1 418.3,464.4 429.6,429.6 414.1,466"/>
<polygon points="914.7,549.1 930.9,551.9 937.5,548.7 921.3,546" stroke-width="2.7"/>
<polygon points="578.1,322.3 605.1,68 612.1,109.2 586.3,336.7"/>
<polygon points="429.6,429.6 444,428.1 454.5,410.9 440.1,413.3"/>
<polygon points="953.8,551.4 970.3,554.1 976.6,551 960.2,548.3" stroke-width="2.7"/>
<polygon points="353.2,522.1 367.4,521.6 378.1,512.5 363.9,516.7"/>
<polygon points="277,478.9 290.2,503.9 301.3,499.8 288.3,464"/>
<polygon points="596.3,512.5 611.7,506.6 620.3,508.3 605.3,505.7"/>
<polygon points="620.3,508.3 638.4,452.6 648.7,418.4 628.9,507.7"/>
<polygon points="993.1,553.7 1009.7,556.4 1015.7,553.2 999.2,550.5" stroke-width="2.7"/>
<polygon points="688.9,400.3 698.3,507.8 706.7,501.2 698.3,378.5"/>
<polygon points="494.1,517.8 508.9,517.2 518.6,509.5 503.9,509.3"/>
<polygon points="238.5,471.5 252,479.1 263.6,462.8 250,463.7"/>
<polygon points="829.2,418.8 842.2,463.2 849,467.2 834.2,448.6"/>
<polygon points="518.6,509.5 535.7,456.8 546.2,427.2 528.1,505.6"/>
<polygon points="712,538.6 727.5,542.8 735.5,539.6 720.2,534.9" stroke-width="2.7"/>
<polygon points="444,428.1 457.2,465.7 466.5,477.7 454.5,410.9"/>
<polygon points="842.2,463.2 854.5,518.8 861.2,522.2 849,467.2"/>
<polygon points="690.2,246.3 698.3,378.5 707.2,363 699.2,232.1"/>
<polygon points="891.7,549.2 907.9,552.3 914.7,549.1 898.6,546.1" stroke-width="2.7"/>
<polygon points="854.5,518.8 868.7,547.8 875.8,543.6 861.2,522.2"/>
<polygon points="457.2,465.7 470.8,493.5 480.6,490.2 466.5,477.7"/>
<polygon points="587.2,385.6 596.3,512.5 605.3,505.7 598.3,339.8"/>
<polygon points="290.2,503.9 303.7,522.3 314.7,518.9 301.3,499.8"/>
<polygon points="328.5,524.1 342.5,526.3 353.2,522.1 339.3,520.8" stroke-width="2.7"/>
<polygon points="930.9,551.9 947.3,554.6 953.8,551.4 937.5,548.7" stroke-width="2.7"/>
<polygon points="213.1,489.5 226.6,491.8 238.5,471.5 225,471.2"/>
<polygon points="605.1,68 607.9,325.3 615.6,344.6 612.1,109.2"/>
<polygon points="659.1,381.1 679.3,292.1 690.2,246.3 668.2,366.6"/>
<polygon points="392.5,505.1 407.1,497.2 418.3,464.4 403.3,486.1"/>
<polygon points="970.3,554.1 986.8,556.9 993.1,553.7 976.6,551" stroke-width="2.7"/>
<polygon points="751.4,536 769.1,507.6 776.7,506.8 759.1,535.3"/>
<polygon points="418.3,464.4 432.3,478.9 444,428.1 429.6,429.6"/>
<polygon points="252,479.1 265.6,486.5 277,478.9 263.6,462.8"/>
<polygon points="776.7,506.8 796.2,452.7 803.7,451.3 784,509.4"/>
<polygon points="470.8,493.5 484.4,521 494.1,517.8 480.6,490.2"/>
<polygon points="803.7,451.3 820.5,439.6 829.2,418.8 810.5,458.3"/>
<polygon points="367.4,521.6 381.8,514.5 392.5,505.1 378.1,512.5"/>
<polygon points="868.7,547.8 884.8,552.5 891.7,549.2 875.8,543.6" stroke-width="2.7"/>
<polygon points="689.6,516.8 703.8,541.9 712,538.6 698.3,507.8"/>
<polygon points="727.5,542.8 743.4,539.6 751.4,536 735.5,539.6" stroke-width="2.7"/>
<polygon points="303.7,522.3 317.6,527.2 328.5,524.1 314.7,518.9" stroke-width="2.7"/>
<polygon points="907.9,552.3 924.3,555.1 930.9,551.9 914.7,549.1" stroke-width="2.7"/>
<polygon points="568.3,342.1 593.9,112.5 605.1,68 578.1,322.3"/>
<polygon points="679.3,292.1 688.9,400.3 698.3,378.5 690.2,246.3"/>
<polygon points="679.3,423.5 689.6,516.8 698.3,507.8 688.9,400.3"/>
<polygon points="342.5,526.3 356.6,526.9 367.4,521.6 353.2,522.1" stroke-width="2.7"/>
<polygon points="432.3,478.9 446.4,490 457.2,465.7 444,428.1"/>
<polygon points="947.3,554.6 963.9,557.3 970.3,554.1 953.8,551.4" stroke-width="2.7"/>
<polygon points="611.7,506.6 629.1,465.1 638.4,452.6 620.3,508.3"/>
<polygon points="265.6,486.5 278.8,517.7 290.2,503.9 277,478.9"/>
<polygon points="508.9,517.2 525.4,476.8 535.7,456.8 518.6,509.5"/>
<polygon points="226.6,491.8 240.5,483.1 252,479.1 238.5,471.5"/>
<polygon points="648.7,418.4 667.9,347.9 679.3,292.1 659.1,381.1"/>
<polygon points="587.1,518.6 602.8,508.9 611.7,506.6 596.3,512.5"/>
<polygon points="484.4,521 499,525.2 508.9,517.2 494.1,517.8"/>
<polygon points="576.3,425.1 587.1,518.6 596.3,512.5 587.2,385.6"/>
<polygon points="986.8,556.9 1003.6,559.6 1009.7,556.4 993.1,553.7" stroke-width="2.7"/>
<polygon points="407.1,497.2 421.4,499.7 432.3,478.9 418.3,464.4"/>
<polygon points="703.8,541.9 719.3,545.9 727.5,542.8 712,538.6" stroke-width="2.7"/>
<polygon points="820.5,439.6 835.6,455.8 842.2,463.2 829.2,418.8"/>
<polygon points="201.2,505.5 214.8,501.7 226.6,491.8 213.1,489.5"/>
<polygon points="835.6,455.8 847.3,522.6 854.5,518.8 842.2,463.2"/>
<polygon points="884.8,552.5 901.1,555.5 907.9,552.3 891.7,549.2" stroke-width="2.7"/>
<polygon points="446.4,490 460.3,510.1 470.8,493.5 457.2,465.7"/>
<polygon points="557.4,382.8 580.5,203.2 593.9,112.5 568.3,342.1"/>
<polygon points="278.8,517.7 292.5,526.5 303.7,522.3 290.2,503.9"/>
<polygon points="847.3,522.6 861.6,550.4 868.7,547.8 854.5,518.8"/>
<polygon points="381.8,514.5 396.3,509.6 407.1,497.2 392.5,505.1"/>
<polygon points="317.6,527.2 331.6,529.4 342.5,526.3 328.5,524.1" stroke-width="2.7"/>
<polygon points="924.3,555.1 940.8,557.8 947.3,554.6 930.9,551.9" stroke-width="2.7"/>
<polygon points="593.9,112.5 598.3,339.8 607.9,325.3 605.1,68"/>
<polygon points="546.2,427.2 566.7,306 580.5,203.2 557.4,382.8"/>
<polygon points="638.4,452.6 656.6,399.7 667.9,347.9 648.7,418.4"/>
<polygon points="667.9,347.9 679.3,423.5 688.9,400.3 679.3,292.1"/>
<polygon points="240.5,483.1 253.9,500.2 265.6,486.5 252,479.1"/>
<polygon points="743.4,539.6 760.3,524.2 769.1,507.6 751.4,536"/>
<polygon points="963.9,557.3 980.5,560.1 986.8,556.9 970.3,554.1" stroke-width="2.7"/>
<polygon points="356.6,526.9 370.9,528.1 381.8,514.5 367.4,521.6"/>
<polygon points="460.3,510.1 474.3,530 484.4,521 470.8,493.5"/>
<polygon points="421.4,499.7 435.5,513.5 446.4,490 432.3,478.9"/>
<polygon points="796.2,452.7 813.3,437.4 820.5,439.6 803.7,451.3"/>
<polygon points="535.7,456.8 552.9,406.8 566.7,306 546.2,427.2"/>
<polygon points="769.1,507.6 788.8,450.6 796.2,452.7 776.7,506.8"/>
<polygon points="861.6,550.4 877.7,555.6 884.8,552.5 868.7,547.8" stroke-width="2.7"/>
<polygon points="680.9,525 695.5,545 703.8,541.9 689.6,516.8"/>
<polygon points="719.3,545.9 735.4,542.3 743.4,539.6 727.5,542.8" stroke-width="2.7"/>
<polygon points="669.4,451.7 680.9,525 689.6,516.8 679.3,423.5"/>
<polygon points="564.9,476.1 577.7,526.3 587.1,518.6 576.3,425.1"/>
<polygon points="499,525.2 514.3,515.4 525.4,476.8 508.9,517.2"/>
<polygon points="292.5,526.5 306.5,530.3 317.6,527.2 303.7,522.3" stroke-width="2.7"/>
<polygon points="901.1,555.5 917.5,558.3 924.3,555.1 907.9,552.3" stroke-width="2.7"/>
<polygon points="214.8,501.7 228.5,505 240.5,483.1 226.6,491.8"/>
<polygon points="580.5,203.2 587.2,385.6 598.3,339.8 593.9,112.5"/>
<polygon points="253.9,500.2 267.4,522.6 278.8,517.7 265.6,486.5"/>
<polygon points="602.8,508.9 620.1,470.3 629.1,465.1 611.7,506.6"/>
<polygon points="331.6,529.4 345.8,530.6 356.6,526.9 342.5,526.3" stroke-width="2.7"/>
<polygon points="940.8,557.8 957.4,560.6 963.9,557.3 947.3,554.6" stroke-width="2.7"/>
<polygon points="396.3,509.6 411.1,501.9 421.4,499.7 407.1,497.2"/>
<polygon points="577.7,526.3 593.3,520.3 602.8,508.9 587.1,518.6"/>
<polygon points="474.3,530 489,532.9 499,525.2 484.4,521"/>
<polygon points="525.4,476.8 540.7,471.6 552.9,406.8 535.7,456.8"/>
<polygon points="435.5,513.5 449.6,529.6 460.3,510.1 446.4,490"/>
<polygon points="566.7,306 576.3,425.1 587.2,385.6 580.5,203.2"/>
<polygon points="656.6,399.7 669.4,451.7 679.3,423.5 667.9,347.9"/>
<polygon points="980.5,560.1 997.3,562.9 1003.6,559.6 986.8,556.9" stroke-width="2.7"/>
<polygon points="189.2,516.6 202.8,516 214.8,501.7 201.2,505.5"/>
<polygon points="629.1,465.1 646.7,425 656.6,399.7 638.4,452.6"/>
<polygon points="695.5,545 711.1,549 719.3,545.9 703.8,541.9" stroke-width="2.7"/>
<polygon points="552.9,406.8 564.9,476.1 576.3,425.1 566.7,306"/>
<polygon points="813.3,437.4 828.1,459.8 835.6,455.8 820.5,439.6"/>
<polygon points="370.9,528.1 385.4,524.1 396.3,509.6 381.8,514.5"/>
<polygon points="877.7,555.6 894.1,558.7 901.1,555.5 884.8,552.5" stroke-width="2.7"/>
<polygon points="267.4,522.6 281.2,530 292.5,526.5 278.8,517.7" stroke-width="2.7"/>
<polygon points="828.1,459.8 840,524.2 847.3,522.6 835.6,455.8"/>
<polygon points="840,524.2 854.6,551.2 861.6,550.4 847.3,522.6"/>
<polygon points="306.5,530.3 320.6,532.4 331.6,529.4 317.6,527.2" stroke-width="2.7"/>
<polygon points="228.5,505 242.1,514.6 253.9,500.2 240.5,483.1"/>
<polygon points="917.5,558.3 934.1,561.1 940.8,557.8 924.3,555.1" stroke-width="2.7"/>
<polygon points="449.6,529.6 464.2,535.7 474.3,530 460.3,510.1"/>
<polygon points="735.4,542.3 752.2,529 760.3,524.2 743.4,539.6"/>
<polygon points="411.1,501.9 425,523 435.5,513.5 421.4,499.7"/>
<polygon points="540.7,471.6 554.5,502.3 564.9,476.1 552.9,406.8"/>
<polygon points="957.4,560.6 974.1,563.4 980.5,560.1 963.9,557.3" stroke-width="2.7"/>
<polygon points="345.8,530.6 360.1,531 370.9,528.1 356.6,526.9" stroke-width="2.7"/>
<polygon points="554.5,502.3 568.1,537.8 577.7,526.3 564.9,476.1"/>
<polygon points="659.1,485.4 672.4,527.9 680.9,525 669.4,451.7"/>
<polygon points="514.3,515.4 529.7,508 540.7,471.6 525.4,476.8"/>
<polygon points="489,532.9 504,531.5 514.3,515.4 499,525.2"/>
<polygon points="760.3,524.2 780.6,458.5 788.8,450.6 769.1,507.6"/>
<polygon points="646.7,425 659.1,485.4 669.4,451.7 656.6,399.7"/>
<polygon points="202.8,516 216.6,516.8 228.5,505 214.8,501.7"/>
<polygon points="672.4,527.9 687.1,547.8 695.5,545 680.9,525"/>
<polygon points="854.6,551.2 870.6,558.6 877.7,555.6 861.6,550.4" stroke-width="2.7"/>
<polygon points="711.1,549 727.3,544.9 735.4,542.3 719.3,545.9" stroke-width="2.7"/>
<polygon points="788.8,450.6 808,405 813.3,437.4 796.2,452.7"/>
<polygon points="281.2,530 295.2,533.4 306.5,530.3 292.5,526.5" stroke-width="2.7"/>
<polygon points="242.1,514.6 255.8,526.6 267.4,522.6 253.9,500.2"/>
<polygon points="894.1,558.7 910.6,561.6 917.5,558.3 901.1,555.5" stroke-width="2.7"/>
<polygon points="593.3,520.3 610,494.3 620.1,470.3 602.8,508.9"/>
<polygon points="385.4,524.1 399.9,527 411.1,501.9 396.3,509.6"/>
<polygon points="425,523 439.3,535.9 449.6,529.6 435.5,513.5"/>
<polygon points="568.1,537.8 583.8,530.4 593.3,520.3 577.7,526.3"/>
<polygon points="320.6,532.4 334.8,534.1 345.8,530.6 331.6,529.4" stroke-width="2.7"/>
<polygon points="464.2,535.7 478.9,539.2 489,532.9 474.3,530" stroke-width="2.7"/>
<polygon points="934.1,561.1 950.8,563.9 957.4,560.6 940.8,557.8" stroke-width="2.7"/>
<polygon points="177,526.7 190.7,529.4 202.8,516 189.2,516.6"/>
<polygon points="620.1,470.3 637.4,436.3 646.7,425 629.1,465.1"/>
<polygon points="974.1,563.4 991,566.2 997.3,562.9 980.5,560.1" stroke-width="2.7"/>
<polygon points="529.7,508 544.4,518.8 554.5,502.3 540.7,471.6"/>
<polygon points="360.1,531 374.7,529.3 385.4,524.1 370.9,528.1"/>
<polygon points="687.1,547.8 702.7,552 711.1,549 695.5,545" stroke-width="2.7"/>
<polygon points="216.6,516.8 230.3,523.5 242.1,514.6 228.5,505"/>
<polygon points="255.8,526.6 269.7,533.2 281.2,530 267.4,522.6" stroke-width="2.7"/>
<polygon points="870.6,558.6 887.1,562.1 894.1,558.7 877.7,555.6" stroke-width="2.7"/>
<polygon points="820.4,464.5 832.8,524.9 840,524.2 828.1,459.8"/>
<polygon points="808,405 820.4,464.5 828.1,459.8 813.3,437.4"/>
<polygon points="504,531.5 519.9,512.9 529.7,508 514.3,515.4"/>
<polygon points="832.8,524.9 847.3,554.3 854.6,551.2 840,524.2"/>
<polygon points="295.2,533.4 309.4,535.8 320.6,532.4 306.5,530.3" stroke-width="2.7"/>
<polygon points="439.3,535.9 454,539.8 464.2,535.7 449.6,529.6" stroke-width="2.7"/>
<polygon points="544.4,518.8 558.6,542.8 568.1,537.8 554.5,502.3"/>
<polygon points="910.6,561.6 927.3,564.4 934.1,561.1 917.5,558.3" stroke-width="2.7"/>
<polygon points="399.9,527 414.4,531.9 425,523 411.1,501.9"/>
<polygon points="727.3,544.9 743.9,535.7 752.2,529 735.4,542.3"/>
<polygon points="752.2,529 771.9,473.4 780.6,458.5 760.3,524.2"/>
<polygon points="651.2,471.3 663.5,536.1 672.4,527.9 659.1,485.4"/>
<polygon points="334.8,534.1 349.2,534.6 360.1,531 345.8,530.6" stroke-width="2.7"/>
<polygon points="950.8,563.9 967.7,566.7 974.1,563.4 957.4,560.6" stroke-width="2.7"/>
<polygon points="637.4,436.3 651.2,471.3 659.1,485.4 646.7,425"/>
<polygon points="478.9,539.2 494,537.4 504,531.5 489,532.9"/>
<polygon points="190.7,529.4 204.4,532.1 216.6,516.8 202.8,516"/>
<polygon points="663.5,536.1 678.5,551.7 687.1,547.8 672.4,527.9"/>
<polygon points="583.8,530.4 600.6,502.4 610,494.3 593.3,520.3"/>
<polygon points="847.3,554.3 863.4,561.9 870.6,558.6 854.6,551.2" stroke-width="2.7"/>
<polygon points="610,494.3 625.4,496.9 637.4,436.3 620.1,470.3"/>
<polygon points="374.7,529.3 389.1,533.8 399.9,527 385.4,524.1"/>
<polygon points="230.3,523.5 244.1,531.8 255.8,526.6 242.1,514.6"/>
<polygon points="780.6,458.5 797.4,451.7 808,405 788.8,450.6"/>
<polygon points="702.7,552 719.1,546.6 727.3,544.9 711.1,549"/>
<polygon points="269.7,533.2 283.8,536.6 295.2,533.4 281.2,530" stroke-width="2.7"/>
<polygon points="887.1,562.1 903.7,564.9 910.6,561.6 894.1,558.7" stroke-width="2.7"/>
<polygon points="414.4,531.9 428.9,539.9 439.3,535.9 425,523"/>
<polygon points="558.6,542.8 574.3,537.1 583.8,530.4 568.1,537.8"/>
<polygon points="519.9,512.9 534.3,532.7 544.4,518.8 529.7,508"/>
<polygon points="454,539.8 468.8,544.6 478.9,539.2 464.2,535.7" stroke-width="2.7"/>
<polygon points="309.4,535.8 323.7,537.9 334.8,534.1 320.6,532.4" stroke-width="2.7"/>
<polygon points="927.3,564.4 944.1,567.3 950.8,563.9 934.1,561.1" stroke-width="2.7"/>
<polygon points="967.7,566.7 984.6,569.6 991,566.2 974.1,563.4" stroke-width="2.7"/>
<polygon points="349.2,534.6 363.7,535.9 374.7,529.3 360.1,531" stroke-width="2.7"/>
<polygon points="204.4,532.1 218.3,534.8 230.3,523.5 216.6,516.8"/>
<polygon points="678.5,551.7 694.3,555.4 702.7,552 687.1,547.8" stroke-width="2.7"/>
<polygon points="494,537.4 509.5,530.2 519.9,512.9 504,531.5"/>
<polygon points="244.1,531.8 258.1,536.7 269.7,533.2 255.8,526.6" stroke-width="2.7"/>
<polygon points="863.4,561.9 879.9,565.4 887.1,562.1 870.6,558.6" stroke-width="2.7"/>
<polygon points="389.1,533.8 403.7,536.3 414.4,531.9 399.9,527"/>
<polygon points="797.4,451.7 813.4,458.8 820.4,464.5 808,405"/>
<polygon points="813.4,458.8 825,531.8 832.8,524.9 820.4,464.5"/>
<polygon points="534.3,532.7 549.1,545.8 558.6,542.8 544.4,518.8"/>
<polygon points="825,531.8 839.8,557.7 847.3,554.3 832.8,524.9"/>
<polygon points="625.4,496.9 641.5,490.6 651.2,471.3 637.4,436.3"/>
<polygon points="283.8,536.6 298,539.1 309.4,535.8 295.2,533.4" stroke-width="2.7"/>
<polygon points="428.9,539.9 443.6,545.4 454,539.8 439.3,535.9" stroke-width="2.7"/>
<polygon points="903.7,564.9 920.5,567.8 927.3,564.4 910.6,561.6" stroke-width="2.7"/>
<polygon points="719.1,546.6 735.9,535.7 743.9,535.7 727.3,544.9"/>
<polygon points="600.6,502.4 616.2,503.9 625.4,496.9 610,494.3"/>
<polygon points="743.9,535.7 763.9,476.6 771.9,473.4 752.2,529"/>
<polygon points="641.5,490.6 654.4,545.8 663.5,536.1 651.2,471.3"/>
<polygon points="468.8,544.6 483.8,545.6 494,537.4 478.9,539.2" stroke-width="2.7"/>
<polygon points="323.7,537.9 338.1,538.4 349.2,534.6 334.8,534.1" stroke-width="2.7"/>
<polygon points="944.1,567.3 961.1,570.1 967.7,566.7 950.8,563.9" stroke-width="2.7"/>
<polygon points="771.9,473.4 791.4,425.7 797.4,451.7 780.6,458.5"/>
<polygon points="654.4,545.8 669.8,555.8 678.5,551.7 663.5,536.1"/>
<polygon points="574.3,537.1 591.4,504.1 600.6,502.4 583.8,530.4"/>
<polygon points="218.3,534.8 232.2,537.5 244.1,531.8 230.3,523.5" stroke-width="2.7"/>
<polygon points="363.7,535.9 378.3,538.7 389.1,533.8 374.7,529.3" stroke-width="2.7"/>
<polygon points="839.8,557.7 856,565.3 863.4,561.9 847.3,554.3" stroke-width="2.7"/>
<polygon points="694.3,555.4 710.6,551.4 719.1,546.6 702.7,552"/>
<polygon points="258.1,536.7 272.2,539.8 283.8,536.6 269.7,533.2" stroke-width="2.7"/>
<polygon points="509.5,530.2 524.3,541 534.3,532.7 519.9,512.9"/>
<polygon points="549.1,545.8 564.6,545.2 574.3,537.1 558.6,542.8"/>
<polygon points="879.9,565.4 896.6,568.3 903.7,564.9 887.1,562.1" stroke-width="2.7"/>
<polygon points="403.7,536.3 418.4,542.8 428.9,539.9 414.4,531.9" stroke-width="2.7"/>
<polygon points="443.6,545.4 458.5,548.1 468.8,544.6 454,539.8" stroke-width="2.7"/>
<polygon points="298,539.1 312.4,541.4 323.7,537.9 309.4,535.8" stroke-width="2.7"/>
<polygon points="920.5,567.8 937.4,570.7 944.1,567.3 927.3,564.4" stroke-width="2.7"/>
<polygon points="616.2,503.9 631.5,513.4 641.5,490.6 625.4,496.9"/>
<polygon points="961.1,570.1 978.2,573 984.6,569.6 967.7,566.7" stroke-width="2.7"/>
<polygon points="338.1,538.4 352.6,540.7 363.7,535.9 349.2,534.6" stroke-width="2.7"/>
<polygon points="483.8,545.6 499,546.6 509.5,530.2 494,537.4"/>
<polygon points="669.8,555.8 685.6,559.1 694.3,555.4 678.5,551.7" stroke-width="2.7"/>
<polygon points="791.4,425.7 803.5,494.3 813.4,458.8 797.4,451.7"/>
<polygon points="803.5,494.3 817.5,533.1 825,531.8 813.4,458.8"/>
<polygon points="232.2,537.5 246.3,540.3 258.1,536.7 244.1,531.8" stroke-width="2.7"/>
<polygon points="524.3,541 539.3,551.3 549.1,545.8 534.3,532.7"/>
<polygon points="856,565.3 872.7,568.8 879.9,565.4 863.4,561.9" stroke-width="2.7"/>
<polygon points="378.3,538.7 392.9,542.3 403.7,536.3 389.1,533.8" stroke-width="2.7"/>
<polygon points="817.5,533.1 832.2,561.6 839.8,557.7 825,531.8"/>
<polygon points="418.4,542.8 433.1,548.5 443.6,545.4 428.9,539.9" stroke-width="2.7"/>
<polygon points="272.2,539.8 286.5,542.4 298,539.1 283.8,536.6" stroke-width="2.7"/>
<polygon points="631.5,513.4 645.6,547.9 654.4,545.8 641.5,490.6"/>
<polygon points="896.6,568.3 913.5,571.2 920.5,567.8 903.7,564.9" stroke-width="2.7"/>
<polygon points="591.4,504.1 606.7,512.3 616.2,503.9 600.6,502.4"/>
<polygon points="735.9,535.7 755.4,485.3 763.9,476.6 743.9,535.7"/>
<polygon points="710.6,551.4 727.5,541 735.9,535.7 719.1,546.6"/>
<polygon points="458.5,548.1 473.7,548.2 483.8,545.6 468.8,544.6" stroke-width="2.7"/>
<polygon points="312.4,541.4 326.8,542.7 338.1,538.4 323.7,537.9" stroke-width="2.7"/>
<polygon points="937.4,570.7 954.4,573.6 961.1,570.1 944.1,567.3" stroke-width="2.7"/>
<polygon points="564.6,545.2 580.8,531.2 591.4,504.1 574.3,537.1"/>
<polygon points="763.9,476.6 782,451.2 791.4,425.7 771.9,473.4"/>
<polygon points="645.6,547.9 661,559.1 669.8,555.8 654.4,545.8"/>
<polygon points="352.6,540.7 367.3,542.6 378.3,538.7 363.7,535.9" stroke-width="2.7"/>
<polygon points="499,546.6 514.2,550.9 524.3,541 509.5,530.2"/>
<polygon points="832.2,561.6 848.6,568.8 856,565.3 839.8,557.7" stroke-width="2.7"/>
<polygon points="685.6,559.1 702,555.9 710.6,551.4 694.3,555.4" stroke-width="2.7"/>
<polygon points="246.3,540.3 260.5,543.1 272.2,539.8 258.1,536.7" stroke-width="2.7"/>
<polygon points="539.3,551.3 554.8,552.4 564.6,545.2 549.1,545.8" stroke-width="2.7"/>
<polygon points="392.9,542.3 407.7,546.5 418.4,542.8 403.7,536.3" stroke-width="2.7"/>
<polygon points="872.7,568.8 889.5,571.7 896.6,568.3 879.9,565.4" stroke-width="2.7"/>
<polygon points="433.1,548.5 448.1,551.3 458.5,548.1 443.6,545.4" stroke-width="2.7"/>
<polygon points="286.5,542.4 300.9,545 312.4,541.4 298,539.1" stroke-width="2.7"/>
<polygon points="606.7,512.3 621.9,525.1 631.5,513.4 616.2,503.9"/>
<polygon points="913.5,571.2 930.5,574.1 937.4,570.7 920.5,567.8" stroke-width="2.7"/>
<polygon points="473.7,548.2 488.9,549.4 499,546.6 483.8,545.6" stroke-width="2.7"/>
<polygon points="326.8,542.7 341.4,544.8 352.6,540.7 338.1,538.4" stroke-width="2.7"/>
<polygon points="954.4,573.6 971.6,576.5 978.2,573 961.1,570.1" stroke-width="2.7"/>
<polygon points="782,451.2 795.7,495.9 803.5,494.3 791.4,425.7"/>
<polygon points="795.7,495.9 809.3,543.1 817.5,533.1 803.5,494.3"/>
<polygon points="661,559.1 676.9,562.4 685.6,559.1 669.8,555.8" stroke-width="2.7"/>
<polygon points="514.2,550.9 529.4,556 539.3,551.3 524.3,541"/>
<polygon points="367.3,542.6 382,545.7 392.9,542.3 378.3,538.7" stroke-width="2.7"/>
<polygon points="848.6,568.8 865.3,572.2 872.7,568.8 856,565.3" stroke-width="2.7"/>
<polygon points="621.9,525.1 636.4,553.8 645.6,547.9 631.5,513.4"/>
<polygon points="809.3,543.1 824.6,564.4 832.2,561.6 817.5,533.1"/>
<polygon points="580.8,531.2 597,524.1 606.7,512.3 591.4,504.1"/>
<polygon points="727.5,541 745.3,518.2 755.4,485.3 735.9,535.7"/>
<polygon points="407.7,546.5 422.5,551.8 433.1,548.5 418.4,542.8" stroke-width="2.7"/>
<polygon points="260.5,543.1 274.8,545.9 286.5,542.4 272.2,539.8" stroke-width="2.7"/>
<polygon points="889.5,571.7 906.4,574.7 913.5,571.2 896.6,568.3" stroke-width="2.7"/>
<polygon points="702,555.9 718.8,547.9 727.5,541 710.6,551.4"/>
<polygon points="554.8,552.4 570.7,548.2 580.8,531.2 564.6,545.2"/>
<polygon points="448.1,551.3 463.4,551.5 473.7,548.2 458.5,548.1" stroke-width="2.7"/>
<polygon points="300.9,545 315.4,547.3 326.8,542.7 312.4,541.4" stroke-width="2.7"/>
<polygon points="755.4,485.3 773.6,459.3 782,451.2 763.9,476.6"/>
<polygon points="930.5,574.1 947.6,577.1 954.4,573.6 937.4,570.7" stroke-width="2.7"/>
<polygon points="636.4,553.8 652,562.8 661,559.1 645.6,547.9"/>
<polygon points="488.9,549.4 504.1,554.7 514.2,550.9 499,546.6" stroke-width="2.7"/>
<polygon points="341.4,544.8 356.1,547.8 367.3,542.6 352.6,540.7" stroke-width="2.7"/>
<polygon points="824.6,564.4 841,572.2 848.6,568.8 832.2,561.6" stroke-width="2.7"/>
<polygon points="676.9,562.4 693.2,561.3 702,555.9 685.6,559.1" stroke-width="2.7"/>
<polygon points="529.4,556 545,557.8 554.8,552.4 539.3,551.3" stroke-width="2.7"/>
<polygon points="382,545.7 396.8,551.2 407.7,546.5 392.9,542.3" stroke-width="2.7"/>
<polygon points="865.3,572.2 882.2,575.2 889.5,571.7 872.7,568.8" stroke-width="2.7"/>
<polygon points="597,524.1 612.2,537.6 621.9,525.1 606.7,512.3"/>
<polygon points="422.5,551.8 437.6,555.1 448.1,551.3 433.1,548.5" stroke-width="2.7"/>
<polygon points="274.8,545.9 289.3,548.7 300.9,545 286.5,542.4" stroke-width="2.7"/>
<polygon points="906.4,574.7 923.5,577.6 930.5,574.1 913.5,571.2" stroke-width="2.7"/>
<polygon points="773.6,459.3 787.4,503.4 795.7,495.9 782,451.2"/>
<polygon points="315.4,547.3 330.1,549.5 341.4,544.8 326.8,542.7" stroke-width="2.7"/>
<polygon points="463.4,551.5 478.7,552.7 488.9,549.4 473.7,548.2" stroke-width="2.7"/>
<polygon points="787.4,503.4 801.6,543.3 809.3,543.1 795.7,495.9"/>
<polygon points="947.6,577.1 964.9,580 971.6,576.5 954.4,573.6" stroke-width="2.7"/>
<polygon points="570.7,548.2 586.7,543 597,524.1 580.8,531.2"/>
<polygon points="652,562.8 668,566 676.9,562.4 661,559.1" stroke-width="2.7"/>
<polygon points="718.8,547.9 735.5,545.1 745.3,518.2 727.5,541"/>
<polygon points="504.1,554.7 519.5,559.3 529.4,556 514.2,550.9" stroke-width="2.7"/>
<polygon points="612.2,537.6 627.2,558.4 636.4,553.8 621.9,525.1"/>
<polygon points="356.1,547.8 370.9,550.4 382,545.7 367.3,542.6" stroke-width="2.7"/>
<polygon points="841,572.2 857.8,575.8 865.3,572.2 848.6,568.8" stroke-width="2.7"/>
<polygon points="801.6,543.3 816.8,568.8 824.6,564.4 809.3,543.1"/>
<polygon points="745.3,518.2 763.6,490.7 773.6,459.3 755.4,485.3"/>
<polygon points="396.8,551.2 411.8,555.2 422.5,551.8 407.7,546.5" stroke-width="2.7"/>
<polygon points="545,557.8 560.7,559 570.7,548.2 554.8,552.4"/>
<polygon points="882.2,575.2 899.2,578.2 906.4,574.7 889.5,571.7" stroke-width="2.7"/>
<polygon points="693.2,561.3 710.3,550.3 718.8,547.9 702,555.9"/>
<polygon points="437.6,555.1 452.8,556.4 463.4,551.5 448.1,551.3" stroke-width="2.7"/>
<polygon points="289.3,548.7 303.8,551.6 315.4,547.3 300.9,545" stroke-width="2.7"/>
<polygon points="923.5,577.6 940.7,580.6 947.6,577.1 930.5,574.1" stroke-width="2.7"/>
<polygon points="627.2,558.4 642.9,566.4 652,562.8 636.4,553.8" stroke-width="2.7"/>
<polygon points="478.7,552.7 493.9,558.3 504.1,554.7 488.9,549.4" stroke-width="2.7"/>
<polygon points="330.1,549.5 344.8,552.3 356.1,547.8 341.4,544.8" stroke-width="2.7"/>
<polygon points="586.7,543 602.2,553.7 612.2,537.6 597,524.1"/>
<polygon points="816.8,568.8 833.3,575.8 841,572.2 824.6,564.4" stroke-width="2.7"/>
<polygon points="668,566 684.5,564.2 693.2,561.3 676.9,562.4" stroke-width="2.7"/>
<polygon points="519.5,559.3 535.1,561.2 545,557.8 529.4,556" stroke-width="2.7"/>
<polygon points="370.9,550.4 385.8,555.2 396.8,551.2 382,545.7" stroke-width="2.7"/>
<polygon points="763.6,490.7 777.7,532.7 787.4,503.4 773.6,459.3"/>
<polygon points="857.8,575.8 874.8,578.8 882.2,575.2 865.3,572.2" stroke-width="2.7"/>
<polygon points="411.8,555.2 426.9,558.4 437.6,555.1 422.5,551.8" stroke-width="2.7"/>
<polygon points="899.2,578.2 916.4,581.2 923.5,577.6 906.4,574.7" stroke-width="2.7"/>
<polygon points="560.7,559 576.4,561.5 586.7,543 570.7,548.2"/>
<polygon points="777.7,532.7 793.1,555.2 801.6,543.3 787.4,503.4"/>
<polygon points="735.5,545.1 755.1,497.5 763.6,490.7 745.3,518.2"/>
<polygon points="303.8,551.6 318.5,554.4 330.1,549.5 315.4,547.3" stroke-width="2.7"/>
<polygon points="452.8,556.4 468.2,558.4 478.7,552.7 463.4,551.5" stroke-width="2.7"/>
<polygon points="940.7,580.6 958.1,583.6 964.9,580 947.6,577.1" stroke-width="2.7"/>
<polygon points="602.2,553.7 617.7,565.1 627.2,558.4 612.2,537.6"/>
<polygon points="710.3,550.3 728.1,528.8 735.5,545.1 718.8,547.9"/>
<polygon points="642.9,566.4 659,569.7 668,566 652,562.8" stroke-width="2.7"/>
<polygon points="493.9,558.3 509.4,563 519.5,559.3 504.1,554.7" stroke-width="2.7"/>
<polygon points="344.8,552.3 359.7,555.3 370.9,550.4 356.1,547.8" stroke-width="2.7"/>
<polygon points="833.3,575.8 850.2,579.3 857.8,575.8 841,572.2" stroke-width="2.7"/>
<polygon points="793.1,555.2 808.8,574 816.8,568.8 801.6,543.3"/>
<polygon points="535.1,561.2 550.8,564.5 560.7,559 545,557.8" stroke-width="2.7"/>
<polygon points="385.8,555.2 400.9,558.9 411.8,555.2 396.8,551.2" stroke-width="2.7"/>
<polygon points="874.8,578.8 892,581.8 899.2,578.2 882.2,575.2" stroke-width="2.7"/>
<polygon points="684.5,564.2 701.4,557.3 710.3,550.3 693.2,561.3"/>
<polygon points="426.9,558.4 442.2,560.6 452.8,556.4 437.6,555.1" stroke-width="2.7"/>
<polygon points="916.4,581.2 933.8,584.2 940.7,580.6 923.5,577.6" stroke-width="2.7"/>
<polygon points="576.4,561.5 592.3,565.6 602.2,553.7 586.7,543"/>
<polygon points="617.7,565.1 633.7,570.4 642.9,566.4 627.2,558.4" stroke-width="2.7"/>
<polygon points="318.5,554.4 333.3,557.3 344.8,552.3 330.1,549.5" stroke-width="2.7"/>
<polygon points="468.2,558.4 483.6,562.3 493.9,558.3 478.7,552.7" stroke-width="2.7"/>
<polygon points="755.1,497.5 769.2,540.1 777.7,532.7 763.6,490.7"/>
<polygon points="808.8,574 825.5,579.4 833.3,575.8 816.8,568.8" stroke-width="2.7"/>
<polygon points="659,569.7 675.5,568.2 684.5,564.2 668,566" stroke-width="2.7"/>
<polygon points="509.4,563 525,565.3 535.1,561.2 519.5,559.3" stroke-width="2.7"/>
<polygon points="359.7,555.3 374.7,559 385.8,555.2 370.9,550.4" stroke-width="2.7"/>
<polygon points="850.2,579.3 867.3,582.4 874.8,578.8 857.8,575.8" stroke-width="2.7"/>
<polygon points="769.2,540.1 785,557.8 793.1,555.2 777.7,532.7"/>
<polygon points="400.9,558.9 416,561.9 426.9,558.4 411.8,555.2" stroke-width="2.7"/>
<polygon points="550.8,564.5 566.7,565.7 576.4,561.5 560.7,559" stroke-width="2.7"/>
<polygon points="892,581.8 909.2,584.8 916.4,581.2 899.2,578.2" stroke-width="2.7"/>
<polygon points="728.1,528.8 746.2,508.5 755.1,497.5 735.5,545.1"/>
<polygon points="442.2,560.6 457.6,562.2 468.2,558.4 452.8,556.4" stroke-width="2.7"/>
<polygon points="592.3,565.6 608.2,570.3 617.7,565.1 602.2,553.7"/>
<polygon points="933.8,584.2 951.3,587.2 958.1,583.6 940.7,580.6" stroke-width="2.7"/>
<polygon points="633.7,570.4 649.9,573.2 659,569.7 642.9,566.4" stroke-width="2.7"/>
<polygon points="701.4,557.3 719.1,539.6 728.1,528.8 710.3,550.3"/>
<polygon points="483.6,562.3 499.1,566.6 509.4,563 493.9,558.3" stroke-width="2.7"/>
<polygon points="333.3,557.3 348.2,560.3 359.7,555.3 344.8,552.3" stroke-width="2.7"/>
<polygon points="785,557.8 800.9,575.5 808.8,574 793.1,555.2"/>
<polygon points="825.5,579.4 842.5,582.9 850.2,579.3 833.3,575.8" stroke-width="2.7"/>
<polygon points="525,565.3 540.8,568.1 550.8,564.5 535.1,561.2" stroke-width="2.7"/>
<polygon points="374.7,559 389.8,562.4 400.9,558.9 385.8,555.2" stroke-width="2.7"/>
<polygon points="867.3,582.4 884.6,585.4 892,581.8 874.8,578.8" stroke-width="2.7"/>
<polygon points="675.5,568.2 692.7,558.6 701.4,557.3 684.5,564.2"/>
<polygon points="416,561.9 431.4,564.1 442.2,560.6 426.9,558.4" stroke-width="2.7"/>
<polygon points="566.7,565.7 582.6,568.7 592.3,565.6 576.4,561.5" stroke-width="2.7"/>
<polygon points="909.2,584.8 926.7,587.9 933.8,584.2 916.4,581.2" stroke-width="2.7"/>
<polygon points="608.2,570.3 624.3,574.2 633.7,570.4 617.7,565.1" stroke-width="2.7"/>
<polygon points="746.2,508.5 761.4,535.5 769.2,540.1 755.1,497.5"/>
<polygon points="457.6,562.2 473.1,566.3 483.6,562.3 468.2,558.4" stroke-width="2.7"/>
<polygon points="800.9,575.5 817.6,582.9 825.5,579.4 808.8,574" stroke-width="2.7"/>
<polygon points="649.9,573.2 666.4,572.8 675.5,568.2 659,569.7" stroke-width="2.7"/>
<polygon points="499.1,566.6 514.8,569.3 525,565.3 509.4,563" stroke-width="2.7"/>
<polygon points="348.2,560.3 363.3,563.2 374.7,559 359.7,555.3" stroke-width="2.7"/>
<polygon points="842.5,582.9 859.7,586 867.3,582.4 850.2,579.3" stroke-width="2.7"/>
<polygon points="761.4,535.5 776.7,562.4 785,557.8 769.2,540.1"/>
<polygon points="389.8,562.4 405,565.5 416,561.9 400.9,558.9" stroke-width="2.7"/>
<polygon points="540.8,568.1 556.8,568.6 566.7,565.7 550.8,564.5" stroke-width="2.7"/>
<polygon points="884.6,585.4 902,588.5 909.2,584.8 892,581.8" stroke-width="2.7"/>
<polygon points="719.1,539.6 736.5,530.2 746.2,508.5 728.1,528.8"/>
<polygon points="582.6,568.7 598.6,573.9 608.2,570.3 592.3,565.6" stroke-width="2.7"/>
<polygon points="431.4,564.1 446.8,566.9 457.6,562.2 442.2,560.6" stroke-width="2.7"/>
<polygon points="926.7,587.9 944.3,590.9 951.3,587.2 933.8,584.2" stroke-width="2.7"/>
<polygon points="692.7,558.6 709.3,560.3 719.1,539.6 701.4,557.3"/>
<polygon points="624.3,574.2 640.6,576.7 649.9,573.2 633.7,570.4" stroke-width="2.7"/>
<polygon points="473.1,566.3 488.7,570.3 499.1,566.6 483.6,562.3" stroke-width="2.7"/>
<polygon points="817.6,582.9 834.7,586.6 842.5,582.9 825.5,579.4" stroke-width="2.7"/>
<polygon points="776.7,562.4 792.8,578.9 800.9,575.5 785,557.8"/>
<polygon points="514.8,569.3 530.7,571.9 540.8,568.1 525,565.3" stroke-width="2.7"/>
<polygon points="363.3,563.2 378.5,566.2 389.8,562.4 374.7,559" stroke-width="2.7"/>
<polygon points="859.7,586 877.1,589.1 884.6,585.4 867.3,582.4" stroke-width="2.7"/>
<polygon points="666.4,572.8 683.4,567.4 692.7,558.6 675.5,568.2"/>
<polygon points="405,565.5 420.4,568.2 431.4,564.1 416,561.9" stroke-width="2.7"/>
<polygon points="556.8,568.6 572.8,573.3 582.6,568.7 566.7,565.7" stroke-width="2.7"/>
<polygon points="902,588.5 919.5,591.6 926.7,587.9 909.2,584.8" stroke-width="2.7"/>
<polygon points="736.5,530.2 752.5,546.2 761.4,535.5 746.2,508.5"/>
<polygon points="598.6,573.9 614.8,577.8 624.3,574.2 608.2,570.3" stroke-width="2.7"/>
<polygon points="446.8,566.9 462.4,570.2 473.1,566.3 457.6,562.2" stroke-width="2.7"/>
<polygon points="792.8,578.9 809.6,586.7 817.6,582.9 800.9,575.5" stroke-width="2.7"/>
<polygon points="640.6,576.7 657.2,577.3 666.4,572.8 649.9,573.2" stroke-width="2.7"/>
<polygon points="488.7,570.3 504.5,573.2 514.8,569.3 499.1,566.6" stroke-width="2.7"/>
<polygon points="709.3,560.3 726.5,556.1 736.5,530.2 719.1,539.6"/>
<polygon points="834.7,586.6 852,589.7 859.7,586 842.5,582.9" stroke-width="2.7"/>
<polygon points="752.5,546.2 768.2,568.2 776.7,562.4 761.4,535.5"/>
<polygon points="378.5,566.2 393.8,569.2 405,565.5 389.8,562.4" stroke-width="2.7"/>
<polygon points="530.7,571.9 546.7,573.3 556.8,568.6 540.8,568.1" stroke-width="2.7"/>
<polygon points="877.1,589.1 894.5,592.2 902,588.5 884.6,585.4" stroke-width="2.7"/>
<polygon points="683.4,567.4 700.1,569.6 709.3,560.3 692.7,558.6"/>
<polygon points="572.8,573.3 588.9,577.8 598.6,573.9 582.6,568.7" stroke-width="2.7"/>
<polygon points="420.4,568.2 435.9,571 446.8,566.9 431.4,564.1" stroke-width="2.7"/>
<polygon points="919.5,591.6 937.2,594.7 944.3,590.9 926.7,587.9" stroke-width="2.7"/>
<polygon points="614.8,577.8 631.2,580.6 640.6,576.7 624.3,574.2" stroke-width="2.7"/>
<polygon points="462.4,570.2 478.1,574 488.7,570.3 473.1,566.3" stroke-width="2.7"/>
<polygon points="768.2,568.2 784.5,583.9 792.8,578.9 776.7,562.4"/>
<polygon points="809.6,586.7 826.8,590.3 834.7,586.6 817.6,582.9" stroke-width="2.7"/>
<polygon points="504.5,573.2 520.4,576.1 530.7,571.9 514.8,569.3" stroke-width="2.7"/>
<polygon points="657.2,577.3 674,576.6 683.4,567.4 666.4,572.8"/>
<polygon points="726.5,556.1 743.3,560.4 752.5,546.2 736.5,530.2"/>
<polygon points="852,589.7 869.4,592.8 877.1,589.1 859.7,586" stroke-width="2.7"/>
<polygon points="393.8,569.2 409.3,572.2 420.4,568.2 405,565.5" stroke-width="2.7"/>
<polygon points="546.7,573.3 562.8,577.3 572.8,573.3 556.8,568.6" stroke-width="2.7"/>
<polygon points="894.5,592.2 912.2,595.3 919.5,591.6 902,588.5" stroke-width="2.7"/>
<polygon points="588.9,577.8 605.2,581.5 614.8,577.8 598.6,573.9" stroke-width="2.7"/>
<polygon points="435.9,571 451.6,574.2 462.4,570.2 446.8,566.9" stroke-width="2.7"/>
<polygon points="700.1,569.6 717.3,565.8 726.5,556.1 709.3,560.3"/>
<polygon points="784.5,583.9 801.4,590.5 809.6,586.7 792.8,578.9" stroke-width="2.7"/>
<polygon points="631.2,580.6 647.8,581.6 657.2,577.3 640.6,576.7" stroke-width="2.7"/>
<polygon points="478.1,574 494,576.8 504.5,573.2 488.7,570.3" stroke-width="2.7"/>
<polygon points="743.3,560.4 759.6,574.7 768.2,568.2 752.5,546.2"/>
<polygon points="826.8,590.3 844.2,593.5 852,589.7 834.7,586.6" stroke-width="2.7"/>
<polygon points="520.4,576.1 536.5,577.9 546.7,573.3 530.7,571.9" stroke-width="2.7"/>
<polygon points="869.4,592.8 887,596 894.5,592.2 877.1,589.1" stroke-width="2.7"/>
<polygon points="674,576.6 691.4,567.8 700.1,569.6 683.4,567.4"/>
<polygon points="562.8,577.3 579,581.6 588.9,577.8 572.8,573.3" stroke-width="2.7"/>
<polygon points="409.3,572.2 424.9,575.3 435.9,571 420.4,568.2" stroke-width="2.7"/>
<polygon points="912.2,595.3 930,598.5 937.2,594.7 919.5,591.6" stroke-width="2.7"/>
<polygon points="605.2,581.5 621.6,584.4 631.2,580.6 614.8,577.8" stroke-width="2.7"/>
<polygon points="451.6,574.2 467.4,577.7 478.1,574 462.4,570.2" stroke-width="2.7"/>
<polygon points="759.6,574.7 776.1,587.9 784.5,583.9 768.2,568.2"/>
<polygon points="717.3,565.8 734.3,567.6 743.3,560.4 726.5,556.1"/>
<polygon points="801.4,590.5 818.7,594.1 826.8,590.3 809.6,586.7" stroke-width="2.7"/>
<polygon points="494,576.8 510,579.5 520.4,576.1 504.5,573.2" stroke-width="2.7"/>
<polygon points="647.8,581.6 664.8,579.6 674,576.6 657.2,577.3" stroke-width="2.7"/>
<polygon points="844.2,593.5 861.7,596.6 869.4,592.8 852,589.7" stroke-width="2.7"/>
<polygon points="536.5,577.9 552.7,581.7 562.8,577.3 546.7,573.3" stroke-width="2.7"/>
<polygon points="887,596 904.8,599.1 912.2,595.3 894.5,592.2" stroke-width="2.7"/>
<polygon points="579,581.6 595.4,585.2 605.2,581.5 588.9,577.8" stroke-width="2.7"/>
<polygon points="424.9,575.3 440.6,578.4 451.6,574.2 435.9,571" stroke-width="2.7"/>
<polygon points="691.4,567.8 708.6,565.2 717.3,565.8 700.1,569.6"/>
<polygon points="776.1,587.9 793.1,594.2 801.4,590.5 784.5,583.9" stroke-width="2.7"/>
<polygon points="621.6,584.4 638.3,586.4 647.8,581.6 631.2,580.6" stroke-width="2.7"/>
<polygon points="467.4,577.7 483.3,580.7 494,576.8 478.1,574" stroke-width="2.7"/>
<polygon points="734.3,567.6 750.9,579 759.6,574.7 743.3,560.4"/>
<polygon points="818.7,594.1 836.2,597.3 844.2,593.5 826.8,590.3" stroke-width="2.7"/>
<polygon points="510,579.5 526.2,581.8 536.5,577.9 520.4,576.1" stroke-width="2.7"/>
<polygon points="861.7,596.6 879.4,599.8 887,596 869.4,592.8" stroke-width="2.7"/>
<polygon points="664.8,579.6 682.4,569 691.4,567.8 674,576.6"/>
<polygon points="552.7,581.7 569,585.5 579,581.6 562.8,577.3" stroke-width="2.7"/>
<polygon points="904.8,599.1 922.7,602.3 930,598.5 912.2,595.3" stroke-width="2.7"/>
<polygon points="595.4,585.2 611.9,588.2 621.6,584.4 605.2,581.5" stroke-width="2.7"/>
<polygon points="440.6,578.4 456.5,581.5 467.4,577.7 451.6,574.2" stroke-width="2.7"/>
<polygon points="750.9,579 767.6,591.9 776.1,587.9 759.6,574.7"/>
<polygon points="708.6,565.2 725.5,571.8 734.3,567.6 717.3,565.8"/>
<polygon points="793.1,594.2 810.5,597.9 818.7,594.1 801.4,590.5" stroke-width="2.7"/>
<polygon points="483.3,580.7 499.4,583.4 510,579.5 494,576.8" stroke-width="2.7"/>
<polygon points="638.3,586.4 655.4,583.8 664.8,579.6 647.8,581.6" stroke-width="2.7"/>
<polygon points="836.2,597.3 853.8,600.5 861.7,596.6 844.2,593.5" stroke-width="2.7"/>
<polygon points="526.2,581.8 542.4,585.6 552.7,581.7 536.5,577.9" stroke-width="2.7"/>
<polygon points="879.4,599.8 897.2,603 904.8,599.1 887,596" stroke-width="2.7"/>
<polygon points="569,585.5 585.4,589 595.4,585.2 579,581.6" stroke-width="2.7"/>
<polygon points="682.4,569 699.6,568.8 708.6,565.2 691.4,567.8"/>
<polygon points="767.6,591.9 784.7,598.3 793.1,594.2 776.1,587.9" stroke-width="2.7"/>
<polygon points="611.9,588.2 628.7,590.7 638.3,586.4 621.6,584.4" stroke-width="2.7"/>
<polygon points="725.5,571.8 742,586 750.9,579 734.3,567.6"/>
<polygon points="456.5,581.5 472.5,584.6 483.3,580.7 467.4,577.7" stroke-width="2.7"/>
<polygon points="810.5,597.9 828.1,601.1 836.2,597.3 818.7,594.1" stroke-width="2.7"/>
<polygon points="499.4,583.4 515.6,586.3 526.2,581.8 510,579.5" stroke-width="2.7"/>
<polygon points="853.8,600.5 871.6,603.7 879.4,599.8 861.7,596.6" stroke-width="2.7"/>
<polygon points="655.4,583.8 672.9,576.4 682.4,569 664.8,579.6"/>
<polygon points="542.4,585.6 558.8,589.5 569,585.5 552.7,581.7" stroke-width="2.7"/>
<polygon points="897.2,603 915.3,606.3 922.7,602.3 904.8,599.1" stroke-width="2.7"/>
<polygon points="585.4,589 602.1,592.1 611.9,588.2 595.4,585.2" stroke-width="2.7"/>
<polygon points="742,586 758.8,597.2 767.6,591.9 750.9,579"/>
<polygon points="699.6,568.8 716.2,581.3 725.5,571.8 708.6,565.2"/>
<polygon points="784.7,598.3 802.2,601.8 810.5,597.9 793.1,594.2" stroke-width="2.7"/>
<polygon points="472.5,584.6 488.6,587.8 499.4,583.4 483.3,580.7" stroke-width="2.7"/>
<polygon points="628.7,590.7 645.8,588.3 655.4,583.8 638.3,586.4" stroke-width="2.7"/>
<polygon points="828.1,601.1 845.9,604.4 853.8,600.5 836.2,597.3" stroke-width="2.7"/>
<polygon points="515.6,586.3 532,589.8 542.4,585.6 526.2,581.8" stroke-width="2.7"/>
<polygon points="871.6,603.7 889.6,607 897.2,603 879.4,599.8" stroke-width="2.7"/>
<polygon points="558.8,589.5 575.4,592.9 585.4,589 569,585.5" stroke-width="2.7"/>
<polygon points="672.9,576.4 689.8,581.4 699.6,568.8 682.4,569"/>
<polygon points="716.2,581.3 733,592.3 742,586 725.5,571.8"/>
<polygon points="758.8,597.2 776.2,602.3 784.7,598.3 767.6,591.9" stroke-width="2.7"/>
<polygon points="602.1,592.1 618.9,594.8 628.7,590.7 611.9,588.2" stroke-width="2.7"/>
<polygon points="802.2,601.8 819.9,605.1 828.1,601.1 810.5,597.9" stroke-width="2.7"/>
<polygon points="488.6,587.8 504.9,591 515.6,586.3 499.4,583.4" stroke-width="2.7"/>
<polygon points="845.9,604.4 863.8,607.7 871.6,603.7 853.8,600.5" stroke-width="2.7"/>
<polygon points="645.8,588.3 663.2,584 672.9,576.4 655.4,583.8"/>
<polygon points="532,589.8 548.5,593.4 558.8,589.5 542.4,585.6" stroke-width="2.7"/>
<polygon points="889.6,607 907.7,610.2 915.3,606.3 897.2,603" stroke-width="2.7"/>
<polygon points="575.4,592.9 592.1,596 602.1,592.1 585.4,589" stroke-width="2.7"/>
<polygon points="689.8,581.4 706.8,588.4 716.2,581.3 699.6,568.8"/>
<polygon points="733,592.3 750,601.7 758.8,597.2 742,586"/>
<polygon points="776.2,602.3 793.8,605.8 802.2,601.8 784.7,598.3" stroke-width="2.7"/>
<polygon points="618.9,594.8 636,595.2 645.8,588.3 628.7,590.7" stroke-width="2.7"/>
<polygon points="819.9,605.1 837.8,608.4 845.9,604.4 828.1,601.1" stroke-width="2.7"/>
<polygon points="504.9,591 521.4,594.2 532,589.8 515.6,586.3" stroke-width="2.7"/>
<polygon points="863.8,607.7 881.8,611 889.6,607 871.6,603.7" stroke-width="2.7"/>
<polygon points="548.5,593.4 565.1,596.8 575.4,592.9 558.8,589.5" stroke-width="2.7"/>
<polygon points="663.2,584 680.2,589.7 689.8,581.4 672.9,576.4"/>
<polygon points="706.8,588.4 723.7,600.5 733,592.3 716.2,581.3"/>
<polygon points="750,601.7 767.5,606.4 776.2,602.3 758.8,597.2" stroke-width="2.7"/>
<polygon points="592.1,596 609,598.8 618.9,594.8 602.1,592.1" stroke-width="2.7"/>
<polygon points="793.8,605.8 811.6,609.1 819.9,605.1 802.2,601.8" stroke-width="2.7"/>
<polygon points="636,595.2 653.3,593.9 663.2,584 645.8,588.3"/>
<polygon points="837.8,608.4 855.8,611.7 863.8,607.7 845.9,604.4" stroke-width="2.7"/>
<polygon points="521.4,594.2 537.9,597.5 548.5,593.4 532,589.8" stroke-width="2.7"/>
<polygon points="881.8,611 900.1,614.3 907.7,610.2 889.6,607" stroke-width="2.7"/>
<polygon points="680.2,589.7 697.4,595.4 706.8,588.4 689.8,581.4"/>
<polygon points="565.1,596.8 581.9,600 592.1,596 575.4,592.9" stroke-width="2.7"/>
<polygon points="723.7,600.5 741.1,606.3 750,601.7 733,592.3" stroke-width="2.7"/>
<polygon points="767.5,606.4 785.2,609.8 793.8,605.8 776.2,602.3" stroke-width="2.7"/>
<polygon points="609,598.8 626.1,600.6 636,595.2 618.9,594.8" stroke-width="2.7"/>
<polygon points="811.6,609.1 829.5,612.4 837.8,608.4 819.9,605.1" stroke-width="2.7"/>
<polygon points="855.8,611.7 873.9,615 881.8,611 863.8,607.7" stroke-width="2.7"/>
<polygon points="653.3,593.9 670.6,595.5 680.2,589.7 663.2,584"/>
<polygon points="537.9,597.5 554.7,600.8 565.1,596.8 548.5,593.4" stroke-width="2.7"/>
<polygon points="697.4,595.4 714.5,605 723.7,600.5 706.8,588.4"/>
<polygon points="741.1,606.3 758.7,610.4 767.5,606.4 750,601.7" stroke-width="2.7"/>
<polygon points="581.9,600 598.9,603.1 609,598.8 592.1,596" stroke-width="2.7"/>
<polygon points="785.2,609.8 803.1,613.1 811.6,609.1 793.8,605.8" stroke-width="2.7"/>
<polygon points="626.1,600.6 643.4,600.5 653.3,593.9 636,595.2" stroke-width="2.7"/>
<polygon points="829.5,612.4 847.6,615.8 855.8,611.7 837.8,608.4" stroke-width="2.7"/>
<polygon points="670.6,595.5 687.9,600.7 697.4,595.4 680.2,589.7"/>
<polygon points="873.9,615 892.3,618.4 900.1,614.3 881.8,611" stroke-width="2.7"/>
<polygon points="714.5,605 732,610.5 741.1,606.3 723.7,600.5" stroke-width="2.7"/>
<polygon points="554.7,600.8 571.6,604.1 581.9,600 565.1,596.8" stroke-width="2.7"/>
<polygon points="758.7,610.4 776.5,613.9 785.2,609.8 767.5,606.4" stroke-width="2.7"/>
<polygon points="598.9,603.1 616,605.6 626.1,600.6 609,598.8" stroke-width="2.7"/>
<polygon points="803.1,613.1 821.2,616.5 829.5,612.4 811.6,609.1" stroke-width="2.7"/>
<polygon points="643.4,600.5 660.8,602.4 670.6,595.5 653.3,593.9" stroke-width="2.7"/>
<polygon points="847.6,615.8 865.9,619.2 873.9,615 855.8,611.7" stroke-width="2.7"/>
<polygon points="687.9,600.7 705.2,609.1 714.5,605 697.4,595.4" stroke-width="2.7"/>
<polygon points="732,610.5 749.7,614.5 758.7,610.4 741.1,606.3" stroke-width="2.7"/>
<polygon points="571.6,604.1 588.6,607.4 598.9,603.1 581.9,600" stroke-width="2.7"/>
<polygon points="776.5,613.9 794.5,617.3 803.1,613.1 785.2,609.8" stroke-width="2.7"/>
<polygon points="616,605.6 633.4,607.5 643.4,600.5 626.1,600.6" stroke-width="2.7"/>
<polygon points="821.2,616.5 839.4,619.9 847.6,615.8 829.5,612.4" stroke-width="2.7"/>
<polygon points="660.8,602.4 678.2,608 687.9,600.7 670.6,595.5" stroke-width="2.7"/>
<polygon points="865.9,619.2 884.4,622.6 892.3,618.4 873.9,615" stroke-width="2.7"/>
<polygon points="705.2,609.1 722.8,614.8 732,610.5 714.5,605" stroke-width="2.7"/>
<polygon points="749.7,614.5 767.7,618 776.5,613.9 758.7,610.4" stroke-width="2.7"/>
<polygon points="588.6,607.4 605.8,610.8 616,605.6 598.9,603.1" stroke-width="2.7"/>
<polygon points="794.5,617.3 812.7,620.7 821.2,616.5 803.1,613.1" stroke-width="2.7"/>
<polygon points="633.4,607.5 650.8,610.3 660.8,602.4 643.4,600.5" stroke-width="2.7"/>
<polygon points="839.4,619.9 857.8,623.4 865.9,619.2 847.6,615.8" stroke-width="2.7"/>
<polygon points="678.2,608 695.7,614.4 705.2,609.1 687.9,600.7" stroke-width="2.7"/>
<polygon points="722.8,614.8 740.6,618.7 749.7,614.5 732,610.5" stroke-width="2.7"/>
<polygon points="767.7,618 785.8,621.5 794.5,617.3 776.5,613.9" stroke-width="2.7"/>
<polygon points="605.8,610.8 623.2,614.2 633.4,607.5 616,605.6" stroke-width="2.7"/>
<polygon points="812.7,620.7 831,624.1 839.4,619.9 821.2,616.5" stroke-width="2.7"/>
<polygon points="650.8,610.3 668.4,614.5 678.2,608 660.8,602.4" stroke-width="2.7"/>
<polygon points="857.8,623.4 876.3,626.8 884.4,622.6 865.9,619.2" stroke-width="2.7"/>
<polygon points="695.7,614.4 713.4,619.2 722.8,614.8 705.2,609.1" stroke-width="2.7"/>
<polygon points="740.6,618.7 758.7,622.2 767.7,618 749.7,614.5" stroke-width="2.7"/>
<polygon points="785.8,621.5 804,624.9 812.7,620.7 794.5,617.3" stroke-width="2.7"/>
<polygon points="623.2,614.2 640.7,617.6 650.8,610.3 633.4,607.5" stroke-width="2.7"/>
<polygon points="831,624.1 849.5,627.6 857.8,623.4 839.4,619.9" stroke-width="2.7"/>
<polygon points="668.4,614.5 686,619.3 695.7,614.4 678.2,608" stroke-width="2.7"/>
<polygon points="713.4,619.2 731.4,623 740.6,618.7 722.8,614.8" stroke-width="2.7"/>
<polygon points="758.7,622.2 776.9,625.7 785.8,621.5 767.7,618" stroke-width="2.7"/>
<polygon points="804,624.9 822.5,628.4 831,624.1 812.7,620.7" stroke-width="2.7"/>
<polygon points="640.7,617.6 658.4,621.1 668.4,614.5 650.8,610.3" stroke-width="2.7"/>
<polygon points="849.5,627.6 868.2,631.1 876.3,626.8 857.8,623.4" stroke-width="2.7"/>
<polygon points="686,619.3 703.9,623.6 713.4,619.2 695.7,614.4" stroke-width="2.7"/>
<polygon points="731.4,623 749.5,626.5 758.7,622.2 740.6,618.7" stroke-width="2.7"/>
<polygon points="776.9,625.7 795.2,629.2 804,624.9 785.8,621.5" stroke-width="2.7"/>
<polygon points="822.5,628.4 841.1,632 849.5,627.6 831,624.1" stroke-width="2.7"/>
<polygon points="658.4,621.1 676.2,624.6 686,619.3 668.4,614.5" stroke-width="2.7"/>
<polygon points="703.9,623.6 722,627.3 731.4,623 713.4,619.2" stroke-width="2.7"/>
<polygon points="749.5,626.5 767.8,630.1 776.9,625.7 758.7,622.2" stroke-width="2.7"/>
<polygon points="795.2,629.2 813.8,632.8 822.5,628.4 804,624.9" stroke-width="2.7"/>
<polygon points="841.1,632 859.9,635.5 868.2,631.1 849.5,627.6" stroke-width="2.7"/>
<polygon points="676.2,624.6 694.2,628.1 703.9,623.6 686,619.3" stroke-width="2.7"/>
<polygon points="722,627.3 740.2,630.9 749.5,626.5 731.4,623" stroke-width="2.7"/>
<polygon points="767.8,630.1 786.3,633.6 795.2,629.2 776.9,625.7" stroke-width="2.7"/>
<polygon points="813.8,632.8 832.5,636.4 841.1,632 822.5,628.4" stroke-width="2.7"/>
<polygon points="694.2,628.1 712.4,631.7 722,627.3 703.9,623.6" stroke-width="2.7"/>
<polygon points="740.2,630.9 758.6,634.5 767.8,630.1 749.5,626.5" stroke-width="2.7"/>
<polygon points="786.3,633.6 805,637.2 813.8,632.8 795.2,629.2" stroke-width="2.7"/>
<polygon points="832.5,636.4 851.4,640 859.9,635.5 841.1,632" stroke-width="2.7"/>
<polygon points="712.4,631.7 730.8,635.3 740.2,630.9 722,627.3" stroke-width="2.7"/>
<polygon points="758.6,634.5 777.2,638.1 786.3,633.6 767.8,630.1" stroke-width="2.7"/>
<polygon points="805,637.2 823.8,640.9 832.5,636.4 813.8,632.8" stroke-width="2.7"/>
<polygon points="730.8,635.3 749.3,638.9 758.6,634.5 740.2,630.9" stroke-width="2.7"/>
<polygon points="777.2,638.1 796,641.7 805,637.2 786.3,633.6" stroke-width="2.7"/>
<polygon points="823.8,640.9 842.8,644.5 851.4,640 832.5,636.4" stroke-width="2.7"/>
<polygon points="749.3,638.9 768,642.6 777.2,638.1 758.6,634.5" stroke-width="2.7"/>
<polygon points="796,641.7 815,645.4 823.8,640.9 805,637.2" stroke-width="2.7"/>
<polygon points="768,642.6 786.9,646.3 796,641.7 777.2,638.1" stroke-width="2.7"/>
<polygon points="815,645.4 834.1,649.1 842.8,644.5 823.8,640.9" stroke-width="2.7"/>
<polygon points="786.9,646.3 806,650 815,645.4 796,641.7" stroke-width="2.7"/>
<polygon points="806,650 825.2,653.8 834.1,649.1 815,645.4" stroke-width="2.7"/>
</g>
<g style="font-family:'Liberation Sans', Arial, Helvetica, sans-serif" fill="#000">
<text x="12.4" y="52.7" font-size="59.43" textLength="43.8" lengthAdjust="spacingAndGlyphs" font-weight="bold">A</text>
<text x="86.8" y="68.2" font-size="55.21" >1.0</text>
<text x="84.5" y="316.0" font-size="55.07" textLength="77.6" lengthAdjust="spacingAndGlyphs" >0.5</text>
<text x="81.6" y="554.4" font-size="54.93" textLength="77.1" lengthAdjust="spacingAndGlyphs" >0.0</text>
<text x="122.8" y="786.0" font-size="54.37" textLength="31.2" lengthAdjust="spacingAndGlyphs" >0</text>
<text x="303.0" y="148.9" font-size="53.24" textLength="135.7" lengthAdjust="spacingAndGlyphs" >26 ns</text>
<text x="452.7" y="90.0" font-size="52.68" textLength="134.5" lengthAdjust="spacingAndGlyphs" >45 ns</text>
<text x="588.7" y="47.7" font-size="53.94" textLength="137.1" lengthAdjust="spacingAndGlyphs" >63 ns</text>
<text x="678.0" y="208.9" font-size="52.68" textLength="134.2" lengthAdjust="spacingAndGlyphs" >76 ns</text>
<text x="787.4" y="385.2" font-size="52.68" textLength="136.2" lengthAdjust="spacingAndGlyphs" >94 ns</text>
<text x="267.3" y="822.3" font-size="55.51" textLength="18.6" lengthAdjust="spacingAndGlyphs" >1</text>
<text x="415.6" y="862.1" font-size="55.29" textLength="32.0" lengthAdjust="spacingAndGlyphs" >2</text>
<text x="581.7" y="908.3" font-size="54.37" textLength="31.8" lengthAdjust="spacingAndGlyphs" >3</text>
<text x="761.8" y="955.8" font-size="54.00" textLength="29.3" lengthAdjust="spacingAndGlyphs" >4</text>
<text x="840.5" y="947.0" font-size="53.52" textLength="30.4" lengthAdjust="spacingAndGlyphs" >0</text>
<text x="913.6" y="891.2" font-size="52.90" textLength="21.9" lengthAdjust="spacingAndGlyphs" >1</text>
<text x="972.9" y="842.0" font-size="52.14" textLength="32.3" lengthAdjust="spacingAndGlyphs" >2</text>
<text x="1028.3" y="799.3" font-size="53.38" textLength="31.6" lengthAdjust="spacingAndGlyphs" >3</text>
<text x="1077.4" y="760.5" font-size="52.29" >4</text>
<text x="-5.0" y="0.0" font-size="55.65" textLength="526.1" lengthAdjust="spacingAndGlyphs" transform="translate(47.1,712.7) rotate(-90)" >Intensity of spin wave</text>
<text x="-2.2" y="0.0" font-size="47.17" textLength="165.6" lengthAdjust="spacingAndGlyphs" transform="translate(410.3,893.5) rotate(18)" >z [mm]</text>
<text x="0.0" y="0.0" font-size="46.60" textLength="159.2" lengthAdjust="spacingAndGlyphs" transform="translate(940.7,932.9) rotate(-45)" >y [mm]</text>
</g>
<path d="M1822.4,29.5 H1997.4 V227.5 H1999.4 V798.5 H1824.4 V227.5 H1822.4 Z" fill="#f7c8dc"/>
<path d="M1485.6,800 L1490.8,665.1 L1493.3,698.5 L1494.6,670.3 L1497.2,626.3 L1499.7,580.5 L1502.3,800 M1506.2,800 L1511.3,565.1 L1513.2,588.7 L1515.1,615.1 L1517.6,553.4 L1520.1,487.1 L1520.3,560 L1523.7,506 L1526,495.4 L1528.4,480.6 L1530.8,464.7 L1533.1,464.7 L1534.9,491.3 L1536.7,516.6 L1537.8,516.6 L1539.6,467.9 L1541.4,415 L1543.8,429.2 L1545.5,448.9 L1547.3,469.4 L1549.1,469.8 L1550.8,471.7 L1553.2,526.1 L1555.6,399.7 L1557.9,471.7 L1560.3,469.4 L1562.6,431.6 L1564.4,428.4 L1566.2,429.2 L1567.4,415 L1569.7,412.7 L1570.9,424.5 L1573.3,370.2 L1575.6,374.9 L1578,400.9 L1580.4,373.7 L1582.7,419.8 L1585.1,415 L1586.9,411.8 L1588.6,415 L1591,426.9 L1592.8,400.5 L1594.5,370.2 L1596.9,382 L1599.3,387.9 L1601.6,391.4 L1602.8,457.6 L1604.6,450 L1606.4,436.3 L1608.1,420.4 L1609.9,405.6 L1612.3,426.9 L1614,426.8 L1615.8,422.1 L1618.2,424 L1620.5,424.5 L1622.9,419.8 L1625.3,410.3 L1627,446.7 L1628.8,480 L1630.6,477.7 L1632.3,478.8 L1634.7,395 L1637.1,458.8 L1638.8,445.9 L1640.6,431.6 L1643,480 L1645.3,378.4 L1647.1,415.9 L1648.9,459.9 L1651.2,471.7 L1653,426.4 L1654.8,378.4 L1656.6,400.2 L1658.3,424.5 L1660.1,439.7 L1661.9,450.5 L1664.2,427.9 L1666.6,404.4 L1669,496.5 L1670.7,488.9 L1672.5,481.2 L1675.5,457.5 L1678.4,431.6 L1680.2,461 L1682,488.3 L1684.3,477.5 L1686.7,464.7 L1688.4,469.9 L1690.2,481.2 L1692,475 L1693.8,471.7 L1695.5,479.7 L1697.3,485.9 L1699.7,488.3 L1702,517.8 L1704.4,549.7 L1707.4,549.4 L1710.8,596.9 L1714.2,551.1 L1717.6,525.7 L1721,595.2 L1723.5,629.9 L1726.1,664.6 L1728.6,627.5 L1731.1,596.9 L1734.5,639.2 L1736.6,629.4 L1738.6,615.5 L1743,740.8 L1748.1,696.8 L1750.1,667.6 L1752.1,645.7 L1754.2,615.5 L1756.2,654.9 L1758.2,696.8 L1760,696.1 L1763.9,800 L1766.4,737.2 L1770.3,737.2 L1775.4,737.2 L1778,800 M1781.8,800 L1784.4,737.2 L1792.1,737.2 L1795.9,800 M1804.9,800 L1807.5,696.1 L1811.3,800 L1817.8,664 L1821.6,800 M1849.9,800 L1851.1,737.2 L1855,800 M1893.5,800 L1898.6,696.1 L1902.5,800 L1908.9,737.2 L1912.8,800 M1969.4,800 L1970.8,739.6 L1973.6,800 M1980.5,800 L1981.9,739.6 L1983.3,800 M1999.9,800 L2001.3,739.6 L2004.1,739.6 L2006.8,800 M2201.7,800 L2204.2,739.7 L2206.8,800 M2332.1,800 L2336.1,740.4 L2339.3,800" fill="none" stroke="#ed1c24" stroke-width="5.3" stroke-linejoin="round"/>
<path d="M1774.1,800 L1779.3,664 L1781.8,737.2 L1785.7,737.2 L1788.2,737.2 L1790.8,615.2 L1793.4,618.2 L1795.9,615.2 L1798.5,737.2 L1800.7,549.6 L1803.4,548.4 L1806,546.9 L1808.7,537.6 L1810.7,538.4 L1812.7,536.3 L1815.4,549.6 L1817.4,538.3 L1819.4,526.9 L1820.7,449.5 L1823.4,449.5 L1824.7,518.9 L1827.4,449.5 L1830.1,513.6 L1832.7,449.5 L1834.7,474.4 L1836.7,502.9 L1839.4,505.6 L1842.1,457.5 L1844.1,460.1 L1846.1,457.5 L1847.4,505.6 L1850.1,436.1 L1852.8,404.1 L1854.9,438.8 L1858.1,433.5 L1860.8,470.8 L1863.4,460.2 L1866.1,436.1 L1869.3,406.8 L1872.8,404.1 L1875.4,417.5 L1878.1,377.4 L1880.8,420.1 L1883.5,412.1 L1885.5,405.1 L1887.5,404.1 L1890.1,340 L1892,368.8 L1893.9,394.7 L1896,408.2 L1898.1,426.9 L1900.3,443.5 L1902.4,433.4 L1904.5,421.3 L1906.7,412.7 L1909.3,407.1 L1911.8,407.6 L1914,408.5 L1916.1,407.5 L1918.2,407.6 L1920.8,415.3 L1923.4,402.4 L1925.3,430.4 L1927.2,456.3 L1929.2,439.2 L1931.1,423 L1933,428.3 L1934.9,430.7 L1936.9,415.4 L1938.8,397.3 L1941.3,487.2 L1943.3,437.6 L1945.2,389.6 L1947.1,434.3 L1949.1,474.3 L1951.6,417.8 L1953.5,415.1 L1955.5,407.6 L1957.4,416.3 L1959.3,425.5 L1961.9,436.8 L1964.5,443.5 L1966.4,435 L1968.3,428.1 L1970.9,535.9 L1972.8,488 L1974.7,438.4 L1977.3,466.6 L1979.2,472.2 L1981.1,476.9 L1983.1,475 L1985,469.2 L1986.9,472 L1988.8,471.7 L1991.4,548.8 L1993.3,546.8 L1995.3,538.5 L1997.8,537.3 L2000.4,538.5 L2002.2,556.7 L2004.1,578.8 L2006.1,561.8 L2008.2,551.1 L2010.6,581.8 L2013.1,606.7 L2015.5,635.8 L2017.9,664.8 L2020.7,613.8 L2023.5,565 L2025.5,611.1 L2027.6,656.4 L2033.2,738.2 L2037.3,639.8 L2039.4,642.4 L2041.5,639.8 L2045.6,800 L2052.6,598.2 L2055.4,800 L2058.1,698 L2062.3,739.6 L2067.8,698 L2072,739.6 L2077.5,698 L2083.1,800 L2088.6,698 L2094.2,800 L2095.1,739.7 L2099,800" fill="none" stroke="#3f8275" stroke-width="5.3" stroke-linejoin="round"/>
<path d="M1835.7,800 L1837,580.5 L1839.6,574.3 L1842.2,565.1 L1844.3,566.7 L1846.4,567.2 L1848.6,567.7 L1850.8,605.9 L1852.9,639.6 L1856.3,598.5 L1858.1,526.9 L1861.4,580.5 L1862.1,486.9 L1864.1,482 L1866.1,484.2 L1868.8,457.5 L1871.4,452.2 L1873.4,445.5 L1875.4,444.2 L1877.4,471.7 L1879.5,497.5 L1882.1,446.8 L1884.8,409.5 L1887.5,449.5 L1890,446.1 L1891.9,428.8 L1893.9,412.7 L1895.8,404.3 L1897.7,399.9 L1899.6,398.1 L1901.6,397.3 L1903.5,400 L1905.4,407.6 L1907.3,418.2 L1909.3,433.2 L1911.2,425.2 L1913.1,417.8 L1915,390.9 L1917,369.1 L1918.9,384 L1920.8,399.9 L1923.4,385.7 L1925.9,369.1 L1927.9,361 L1929.8,351.1 L1931.7,371.5 L1933.6,387 L1935.6,384.6 L1937.5,376.8 L1939.4,379.1 L1941.3,379.3 L1943.3,347.9 L1945.2,320.3 L1947.1,346.6 L1949.1,374.2 L1951.6,345.9 L1953.5,368 L1955.5,384.5 L1958,345.9 L1960,364.9 L1961.9,387 L1963.8,403.8 L1965.7,415.3 L1968.3,363.9 L1970.2,372 L1972.2,387 L1974.1,400.2 L1976,420.4 L1977.9,385.1 L1979.9,348.5 L1982.4,394.7 L1984.4,422.2 L1986.3,456.3 L1988.2,424.5 L1990.1,387 L1992.1,375 L1994,366.5 L1995.9,380.7 L1997.8,394.7 L2000.4,361.3 L2002.3,357.7 L2004.2,358.8 L2006.8,376.8 L2009.4,366.5 L2011.3,360.1 L2013.2,351.1 L2015.8,371.6 L2017.7,391.1 L2019.7,412.7 L2021.6,424.9 L2023.5,443.5 L2025.4,427.8 L2027.4,415.3 L2029.9,415.6 L2032.5,417.8 L2035.1,435.8 L2038.3,525.7 L2040.2,457.3 L2042.9,459.1 L2044.8,479.5 L2047.6,463.8 L2049.4,477.4 L2051.3,492.4 L2053.6,505.7 L2055.9,516.5 L2058.1,637 L2060.9,600.1 L2063.7,567.7 L2064.2,536.8 L2067,551.6 L2068.8,534.4 L2070.7,516.5 L2073.4,563 L2076.1,614.9 L2078.3,587.5 L2080.5,564.2 L2082.7,536.8 L2085.5,562.7 L2085.8,698 L2089.1,562.7 L2090,567.7 L2091.9,631.2 L2093.9,696.1 L2094.2,698 L2096.5,562.7 L2097.7,565.1 L2099.6,586.6 L2101.6,611.3 L2103.5,656 L2105.4,698.6 L2108,684.2 L2110.5,665.3 L2113.1,800 L2117,739.7 L2120.8,800 L2125.9,616.5 L2132.4,739.7 L2137.5,739.7 L2141.3,665.3 L2145.2,800 L2151.6,665.3 L2154.2,667.1 L2156.8,666.4 L2159.3,665.3 L2164.5,800 M2169.6,800 L2177.3,665.3 L2181.1,800 M2197.8,800 L2199.1,739.7 L2203,800 M2292.1,800 L2296.1,740.4 L2299.3,800" fill="none" stroke="#19f019" stroke-width="5.3" stroke-linejoin="round"/>
<path d="M1470.8,800 L1471.5,736.9 L1472.3,800 M1510.3,800 L1511.3,695.9 L1512.3,800 M1572.6,800 L1573.4,738.1 L1574.2,800 M1668.7,800 L1669.5,738.1 L1670.3,800 M1839.6,696.1 L1842.2,682.3 L1844.7,665.3 L1846.6,678.2 L1848.6,696.1 L1851.1,560 L1853.3,539 L1855.4,518.9 L1857.4,493.6 L1859.4,465.5 L1862.1,393.4 L1864.1,371.5 L1866.1,348.1 L1869.3,282.8 L1871.8,272.3 L1874.4,259.7 L1875.7,203.2 L1878.2,198.1 L1880.8,172.4 L1883.4,169.9 L1885.9,157 L1888.5,146.8 L1890.4,143.7 L1892.4,141.6 L1894.9,118.5 L1897.5,115.9 L1900.1,151.9 L1902.6,123.6 L1905.2,121.1 L1907.8,114.7 L1910.3,115.9 L1912.3,120.5 L1914.2,124.9 L1916.8,121.1 L1919.3,128.8 L1921.2,138.6 L1923.2,142.9 L1925.1,129.3 L1927,121.1 L1928.9,121.3 L1930.9,126.2 L1932.8,128.6 L1934.7,137.8 L1936.6,149.1 L1938.6,159.6 L1940.5,154.7 L1942.4,154.5 L1944.4,153.2 L1946.3,154.5 L1948.8,165 L1951.4,168.6 L1953.3,161.2 L1955.3,149.3 L1957.8,145.8 L1960.4,148 L1962.3,162.1 L1964.2,169.9 L1966.2,164 L1968.1,159.6 L1970,157 L1972,154.5 L1973.9,173.5 L1975.8,187.8 L1978.4,164.7 L1980.3,170.7 L1982.2,177.6 L1984.1,167.3 L1986.1,162.2 L1988,157.6 L1989.9,157 L1992.5,200.7 L1994.4,186.3 L1996.3,175 L1998.9,218.6 L2000.7,219.8 L2002.6,220.7 L2004,187.8 L2005.1,179.6 L2007.1,186.4 L2009,200.1 L2010.9,195.9 L2012.8,197.6 L2014.8,203.5 L2016.7,205.3 L2019.3,225.8 L2021.2,225.4 L2023.1,218.1 L2025,229.5 L2027,246.3 L2029.5,245.3 L2032.1,241.2 L2034,229.9 L2035.9,220.7 L2038.5,221.7 L2041.1,228.4 L2043.6,255.2 L2046.2,282.3 L2048.1,257.8 L2050.1,239.9 L2052,254.1 L2053.9,264.3 L2055.8,257.4 L2057.8,243.8 L2059.7,245.6 L2061.6,254 L2063.5,241.6 L2065.5,236.1 L2067.4,246 L2069.3,251.5 L2071.9,255.9 L2074.5,266.9 L2077,264.1 L2079.6,259.2 L2082.2,267.5 L2084.7,277.2 L2086.6,286 L2088.6,300.3 L2091.1,318.2 L2093.7,313.1 L2096.3,308 L2098.2,313.9 L2100.1,320.8 L2102.7,313.1 L2105.4,366.2 L2107.3,355.2 L2109.3,345.7 L2111.8,353.6 L2114.4,358.5 L2117,415 L2119.5,363.6 L2122.1,420.1 L2123.4,456.1 L2125.9,425.3 L2128.5,453.5 L2131.1,486.9 L2133,491.7 L2134.9,497.2 L2136.9,516.6 L2138.8,538.2 L2140.7,516.3 L2142.6,497.2 L2145.2,515.1 L2147.1,531.2 L2149.1,551.1 L2151,508.1 L2152.9,471.5 L2154.8,476.5 L2156.8,481.7 L2158.7,519.4 L2160.6,551.1 L2162.5,567 L2164.5,579.3 L2167,549.8 L2169.6,525.4 L2172.2,595.2 L2174.7,665.3 L2176.9,625.2 L2179,577.3 L2181.1,538.2 L2183.3,555.9 L2185.4,575.5 L2187.6,593.4 L2190.1,569.7 L2192.7,551.1 L2195.3,616.5 L2197.2,616.2 L2199.1,611.3 L2201.3,592.8 L2203.4,579.9 L2206.8,737.5 L2210.2,737.5 L2213.6,800 L2218.6,615.5 L2223.7,800 L2227.1,596.9 L2232.2,717.1 L2235.6,800 L2240.7,664.6 L2245.7,800 L2250.8,696.8 L2255.9,800 L2261,639.2 L2266.1,800 M2272.8,800 L2279.6,664.6 L2286.4,800 L2291.5,737.5 L2296.5,737.5 L2301.6,800 M2322.6,800 L2325.3,696.8 L2328.7,800 L2334.1,696.3 L2338.1,800 M2454.3,800 L2458.3,740.4 L2462.3,800" fill="none" stroke="#231f20" stroke-width="5.3" stroke-linejoin="round"/>
<path d="M1528.7,800 L1529.7,736.9 L1530.8,800 M1563.9,800 L1564.7,738.1 L1565.5,800 M1835.7,800 L1837,737.2 L1839.6,800 L1844.7,737.2 L1848.6,800 M1883.2,664 L1887.1,737.2 L1890.9,698.6 L1894.8,737.2 L1899,560.1 L1900.3,535.9 L1902.2,501 L1904.1,464 L1906,445.7 L1908,420.4 L1909.9,394.5 L1911.8,374.2 L1914.4,335.7 L1917,310 L1918,303.4 L1920,264.9 L1921.9,226.3 L1923.8,219.2 L1925.7,213.5 L1927.7,187.1 L1929.6,164.7 L1932.2,157.1 L1934.7,144.2 L1936.9,137.6 L1939,131.3 L1941.1,123.6 L1943.1,119.6 L1945,118.5 L1946.9,115.1 L1948.8,110.8 L1950.8,108.6 L1952.7,103.1 L1954.6,95.9 L1956.5,92.8 L1958.5,92.5 L1960.4,95.4 L1963,90.3 L1964.9,95.5 L1966.8,103.1 L1969.4,113.4 L1971.3,101.9 L1973.2,90.3 L1975.2,95.1 L1977.1,100.5 L1979,99.2 L1980.9,98 L1982.9,105.1 L1984.8,110.8 L1986.7,111.5 L1988.6,108.2 L1990.6,116.3 L1992.5,121.1 L1994.4,130.8 L1996.3,139.1 L1998.3,130.9 L2000.2,118.5 L2002.1,124.1 L2004,131.3 L2005.1,138.5 L2007.7,140 L2010.3,143.6 L2012.8,120.5 L2014.8,126.3 L2016.7,135.9 L2018.6,147.8 L2020.5,156.5 L2022.5,146.6 L2024.4,138.5 L2026.3,147.9 L2028.2,159.1 L2030.8,151 L2033.4,141.1 L2035.3,136.2 L2037.2,133.4 L2039.2,143.6 L2041.1,151.3 L2043,138.7 L2044.9,124.4 L2046.9,135.4 L2048.8,146.2 L2051.3,143.6 L2053.3,160 L2055.2,174.5 L2057.8,157.4 L2060.3,138.5 L2062.9,174.5 L2065.5,166.3 L2068,160.3 L2070,162.7 L2071.9,162.9 L2073.8,178.3 L2075.7,197.6 L2077.7,184.3 L2079.6,174.5 L2081.5,191.5 L2083.4,207.8 L2085.4,192.7 L2087.3,182.2 L2089.9,182.8 L2092.4,182.2 L2095,183.4 L2097.6,179.6 L2100.1,198.8 L2102.7,213 L2104.6,202.7 L2106.5,195 L2109.1,201.6 L2111.7,213 L2113.8,208.8 L2116,209.1 L2118.1,205.3 L2120.7,219.8 L2123.2,233.5 L2125.2,223.5 L2127.1,213 L2129.7,211.2 L2132.2,205.3 L2134.1,203.3 L2136.1,207.8 L2138.6,208 L2141.2,202.7 L2143.1,219.3 L2145.1,236.1 L2147.2,236.4 L2149.3,239.4 L2151.5,238.6 L2153.4,251 L2155.3,266.9 L2157.9,285.7 L2160.5,299.4 L2163.1,316.7 L2165.7,330.3 L2168.3,330 L2170.9,332.9 L2173.4,338 L2175.4,347.2 L2177.3,350.8 L2179.2,367.2 L2181.1,389.3 L2183.7,420.1 L2186.3,386.8 L2188.2,397.4 L2190.1,404.7 L2192.7,417.6 L2195.3,404.7 L2197.2,434.7 L2199.1,471.5 L2201.7,450.5 L2204.2,433 L2206.8,504.9 L2208.7,478.9 L2210.7,456.1 L2212.6,461 L2214.5,461.2 L2216.4,479.1 L2218.4,499.7 L2220.3,500.3 L2222.2,504.9 L2224.8,463.8 L2227.4,491.2 L2229.9,525.4 L2232.5,530.8 L2235.1,541.7 L2237.6,545.9 L2240.2,525.7 L2242.8,504.9 L2245.1,580.6 L2247.4,662.9 L2249.7,614.9 L2251.9,570.9 L2254.2,527.4 L2256.7,549.6 L2259.3,568.1 L2264.4,740.8 L2267.8,551.1 L2270.3,549 L2272.8,551.1 L2276.2,666.3 L2278.8,637.5 L2281.3,615.5 L2284.7,666.3 L2286.7,626.6 L2288.8,579.9 L2291,622.9 L2293.2,659.5 L2296.5,615.5 L2301.6,734.1 L2305,615.5 L2308.4,696.8 L2311.8,664.6 L2314.3,665.5 L2316.9,664.6 L2323.6,800 M2342.1,800 L2346.1,664.3 L2352.1,800 L2356.1,740.4 L2360.1,638.3 L2366.2,800 L2374.2,740.4 L2382.2,740.4 L2386.2,800 M2420.2,800 L2424.2,696.3 L2426.2,694.3 L2428.2,696.3 L2432.2,740.4 L2436.2,800 M2452.3,800 L2454.3,740.4 L2458.3,740.4 L2460.3,800" fill="none" stroke="#4a6592" stroke-width="5.3" stroke-linejoin="round"/>
<path d="M1822.4,29.5 V227.5 M1824.4,227.5 V798.5 M1997.4,29.5 V227.5 M1999.4,227.5 V798.5" stroke="#ee1848" stroke-width="2.8" fill="none"/>
<path d="M1404.6,29.5 H2470 M2461.5,29.5 V227.5 M2464,227.5 V798.5" fill="none" stroke="#000" stroke-width="3"/>
<path d="M1414.6,29.5 V798.5 H2478" fill="none" stroke="#000" stroke-width="3"/>
<path d="M1414.6,798.5 v16 M1531.2,798.5 v16 M1647.8,798.5 v16 M1764.4,798.5 v16 M1881,798.5 v16 M1997.6,798.5 v16 M2114.2,798.5 v16 M2230.8,798.5 v16 M2347.4,798.5 v16 M2464,798.5 v16 M1472.9,798.5 v9 M1589.5,798.5 v9 M1706.1,798.5 v9 M1822.7,798.5 v9 M1939.3,798.5 v9 M2055.9,798.5 v9 M2172.5,798.5 v9 M2289.1,798.5 v9 M2405.7,798.5 v9 M1472.7,29.5 v-9 M1589,29.5 v-9 M1705.2,29.5 v-9 M1821.5,29.5 v-9 M1937.7,29.5 v-9 M2054,29.5 v-9 M2170.2,29.5 v-9 M2286.5,29.5 v-9 M2402.7,29.5 v-9 M1414.6,697.9 h-10 M2464,697.9 h8 M1414.6,639 h-10 M2464,639 h8 M1414.6,597.3 h-10 M2464,597.3 h8 M1414.6,564.9 h-10 M2464,564.9 h8 M1414.6,538.4 h-10 M2464,538.4 h8 M1414.6,516.1 h-10 M2464,516.1 h8 M1414.6,496.7 h-10 M2464,496.7 h8 M1414.6,479.6 h-10 M2464,479.6 h8 M1414.6,464.3 h-18 M2464,464.3 h15 M1414.6,363.7 h-10 M2464,363.7 h8 M1414.6,304.8 h-10 M2464,304.8 h8 M1414.6,263.1 h-10 M2464,263.1 h8 M1414.6,230.7 h-10 M2464,230.7 h8 M1414.6,204.2 h-10 M2461.5,204.2 h8 M1414.6,181.9 h-10 M2461.5,181.9 h8 M1414.6,162.5 h-10 M2461.5,162.5 h8 M1414.6,145.4 h-10 M2461.5,145.4 h8 M1414.6,130.1 h-18 M2461.5,130.1 h15 M1414.6,29.5 h-10 M2461.5,29.5 h8 M1414.6,798.5 h-18" stroke="#000" stroke-width="3" fill="none"/>
<line x1="1432" y1="64" x2="1532" y2="64" stroke="#ed1c24" stroke-width="5.5" stroke-linecap="round"/>
<line x1="1432" y1="118.6" x2="1532" y2="118.6" stroke="#3f8275" stroke-width="5.5" stroke-linecap="round"/>
<line x1="1432" y1="173.2" x2="1532" y2="173.2" stroke="#19f019" stroke-width="5.5" stroke-linecap="round"/>
<line x1="1432" y1="227.8" x2="1532" y2="227.8" stroke="#231f20" stroke-width="5.5" stroke-linecap="round"/>
<line x1="1432" y1="282.4" x2="1532" y2="282.4" stroke="#4a6592" stroke-width="5.5" stroke-linecap="round"/>
<g style="font-family:'Liberation Sans', Arial, Helvetica, sans-serif" fill="#000">
<text x="1229.9" y="52.9" font-size="61.16" textLength="42.1" lengthAdjust="spacingAndGlyphs" font-weight="bold">B</text>
<text x="1808.8" y="951.2" font-size="54.78" textLength="261.3" lengthAdjust="spacingAndGlyphs" >Time <tspan font-style="italic">t</tspan> (ns)</text>
<text x="-4.5" y="0.0" font-size="55.36" textLength="550.5" lengthAdjust="spacingAndGlyphs" transform="translate(1281.6,710.7) rotate(-90)" >BLS intensity (counts)</text>
<text x="1541.4" y="78.9" font-size="43.48" textLength="73.9" lengthAdjust="spacingAndGlyphs" >&#916;<tspan font-style="italic">t</tspan> =</text>
<text x="1626.3" y="78.9" font-size="43.48" >-35 ns</text>
<text x="1541.4" y="133.2" font-size="43.48" textLength="73.9" lengthAdjust="spacingAndGlyphs" >&#916;<tspan font-style="italic">t</tspan> =</text>
<text x="1626.3" y="133.2" font-size="43.48" >-10 ns</text>
<text x="1542.4" y="187.1" font-size="43.48" textLength="74.9" lengthAdjust="spacingAndGlyphs" >&#916;<tspan font-style="italic">t</tspan> =</text>
<text x="1650.5" y="187.1" font-size="43.48" >-5 ns</text>
<text x="1542.4" y="242.1" font-size="43.48" textLength="74.9" lengthAdjust="spacingAndGlyphs" >&#916;<tspan font-style="italic">t</tspan> =</text>
<text x="1663.5" y="242.1" font-size="43.48" textLength="84.0" lengthAdjust="spacingAndGlyphs" >0 ns</text>
<text x="1542.4" y="296.2" font-size="43.48" textLength="74.9" lengthAdjust="spacingAndGlyphs" >&#916;<tspan font-style="italic">t</tspan> =</text>
<text x="1665.3" y="296.2" font-size="43.48" >5 ns</text>
<text x="1399.3" y="863.7" font-size="51.27" textLength="30.1" lengthAdjust="spacingAndGlyphs" >0</text>
<text x="1499.9" y="863.7" font-size="51.27" textLength="60.2" lengthAdjust="spacingAndGlyphs" >10</text>
<text x="1617.4" y="863.7" font-size="51.27" textLength="60.2" lengthAdjust="spacingAndGlyphs" >20</text>
<text x="1734.2" y="863.7" font-size="51.27" textLength="60.2" lengthAdjust="spacingAndGlyphs" >30</text>
<text x="1851.4" y="863.7" font-size="51.27" textLength="60.2" lengthAdjust="spacingAndGlyphs" >40</text>
<text x="1967.5" y="863.7" font-size="51.27" textLength="60.2" lengthAdjust="spacingAndGlyphs" >50</text>
<text x="2083.8" y="863.7" font-size="51.27" textLength="60.2" lengthAdjust="spacingAndGlyphs" >60</text>
<text x="2200.5" y="863.7" font-size="51.27" textLength="60.2" lengthAdjust="spacingAndGlyphs" >70</text>
<text x="2317.4" y="863.7" font-size="51.27" textLength="60.2" lengthAdjust="spacingAndGlyphs" >80</text>
<text x="2433.7" y="863.7" font-size="51.27" textLength="60.2" lengthAdjust="spacingAndGlyphs" >90</text>
<text x="1314.3" y="817.7" font-size="51.97" textLength="58.1" lengthAdjust="spacingAndGlyphs" >10</text>
<text x="1371.7" y="790.0" font-size="31.27" textLength="18.3" lengthAdjust="spacingAndGlyphs" >0</text>
<text x="1314.3" y="483.3" font-size="51.97" textLength="58.1" lengthAdjust="spacingAndGlyphs" >10</text>
<text x="1370.3" y="455.9" font-size="32.17" textLength="18.9" lengthAdjust="spacingAndGlyphs" >1</text>
<text x="1314.3" y="148.9" font-size="51.97" textLength="58.1" lengthAdjust="spacingAndGlyphs" >10</text>
<text x="1371.3" y="121.5" font-size="31.71" textLength="18.6" lengthAdjust="spacingAndGlyphs" >2</text>
</g>
</svg>
</body></html>
